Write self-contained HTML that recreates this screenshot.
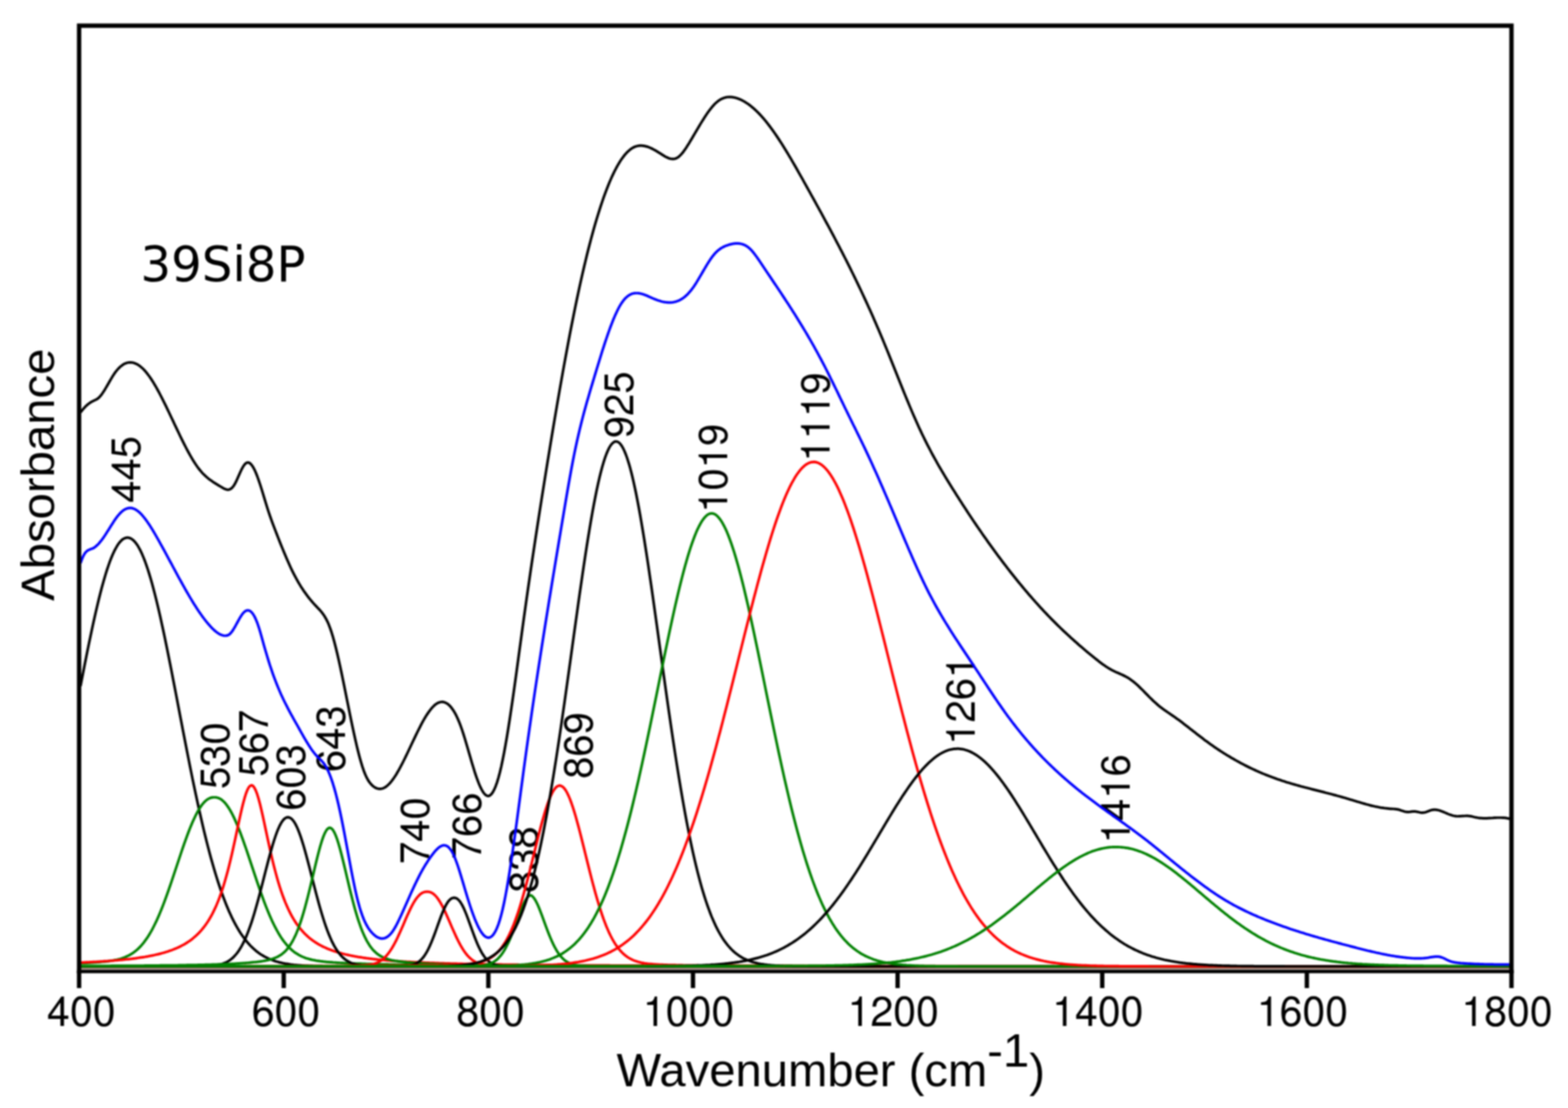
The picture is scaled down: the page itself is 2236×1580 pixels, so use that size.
<!DOCTYPE html>
<html lang="en"><head><meta charset="utf-8"><title>39Si8P FTIR deconvolution</title>
<style>html,body{margin:0;padding:0;background:#fff;}body{width:2236px;height:1580px;overflow:hidden;}svg{display:block;filter:blur(1px);}text{font-family:"Liberation Sans",sans-serif;fill:#000;}.d text{font-family:"FreeSans","Liberation Sans",sans-serif;}</style></head><body>
<svg width="2236" height="1580" viewBox="0 0 2236 1580">
<rect x="0" y="0" width="2236" height="1580" fill="#ffffff"/>
<g class="d" font-size="57">
<text transform="translate(200.2 717.0) rotate(-90)">445</text>
<text transform="translate(326.8 1125.1) rotate(-90)">530</text>
<text transform="translate(381.5 1107.3) rotate(-90)">567</text>
<text transform="translate(435.1 1156.1) rotate(-90)">603</text>
<text transform="translate(492.4 1101.0) rotate(-90)">643</text>
<text transform="translate(612.4 1232.1) rotate(-90)">740</text>
<text transform="translate(685.5 1225.2) rotate(-90)">766</text>
<text transform="translate(767.4 1273.3) rotate(-90)">838</text>
<text transform="translate(844.8 1110.6) rotate(-90)">869</text>
<text transform="translate(902.9 624.7) rotate(-90)">925</text>
<text transform="translate(1037.1 731.1) rotate(-90)">1019</text>
<text transform="translate(1183.1 657.9) rotate(-90)">1119</text>
<text transform="translate(1390.4 1062.0) rotate(-90)">1261</text>
<text transform="translate(1610.5 1202.4) rotate(-90)">1416</text>
</g>
<g fill="none" stroke-width="3.7" stroke-linejoin="round" stroke-linecap="butt">
<line x1="112.8" y1="1381.2" x2="2155.4" y2="1381.2" stroke="#a58478" stroke-width="2.2"/>
<polyline stroke="#000000" points="114.8,978.4 116.8,968.1 118.8,957.9 120.8,947.7 122.8,937.6 124.8,927.7 126.8,917.9 128.8,908.3 130.8,898.9 132.8,889.6 134.8,880.6 136.8,871.8 138.8,863.3 140.8,855.0 142.8,847.0 144.8,839.3 146.8,832.0 148.8,824.9 150.8,818.3 152.8,811.9 154.8,806.0 156.8,800.4 158.8,795.3 160.8,790.5 162.8,786.2 164.8,782.3 166.8,778.8 168.8,775.7 170.8,773.1 172.8,771.0 174.8,769.2 176.8,768.0 178.8,767.1 180.8,766.7 182.8,766.7 184.8,767.1 186.8,768.0 188.8,769.3 190.8,771.0 192.8,773.2 194.8,775.8 196.8,778.8 198.8,782.3 200.8,786.2 202.8,790.6 204.8,795.4 206.8,800.5 208.8,806.1 210.8,812.0 212.8,818.4 214.8,825.0 216.8,832.1 218.8,839.4 220.8,847.1 222.8,855.1 224.8,863.4 226.8,871.9 228.8,880.7 230.8,889.8 232.8,899.0 234.8,908.4 236.8,918.1 238.8,927.9 240.8,937.8 242.8,947.9 244.8,958.0 246.8,968.3 248.8,978.6 250.8,989.0 252.8,999.4 254.8,1009.8 256.8,1020.3 258.8,1030.7 260.8,1041.1 262.8,1051.4 264.8,1061.7 266.8,1071.9 268.8,1082.0 270.8,1092.1 272.8,1102.0 274.8,1111.8 276.8,1121.4 278.8,1130.9 280.8,1140.2 282.8,1149.4 284.8,1158.4 286.8,1167.2 288.8,1175.8 290.8,1184.3 292.8,1192.5 294.8,1200.6 296.8,1208.4 298.8,1216.0 300.8,1223.4 302.8,1230.6 304.8,1237.5 306.8,1244.3 308.8,1250.8 310.8,1257.1 312.8,1263.2 314.8,1269.1 316.8,1274.7 318.8,1280.2 320.8,1285.4 322.8,1290.5 324.8,1295.3 326.8,1299.9 328.8,1304.3 330.8,1308.6 332.8,1312.6 334.8,1316.5 336.8,1320.1 338.8,1323.6 340.8,1327.0 342.8,1330.2 344.8,1333.2 346.8,1336.0 348.8,1338.7 350.8,1341.3 352.8,1343.7 354.8,1346.0 356.8,1348.2 358.8,1350.2 360.8,1352.1 362.8,1353.9 364.8,1355.7 366.8,1357.3 368.8,1358.8 370.8,1360.2 372.8,1361.5 374.8,1362.7 376.8,1363.9 378.8,1364.9 380.8,1365.9 382.8,1366.9 384.8,1367.8 386.8,1368.6 388.8,1369.3 390.8,1370.0 392.8,1370.7 394.8,1371.3 396.8,1371.8 398.8,1372.4 400.8,1372.8 402.8,1373.3 404.8,1373.7 406.8,1374.1 408.8,1374.4 410.8,1374.7 412.8,1375.0 414.8,1375.3 416.8,1375.5 418.8,1375.8 420.8,1376.0 422.8,1376.2 424.8,1376.3 426.8,1376.5 428.8,1376.6 430.8,1376.8 432.8,1376.9 434.8,1377.0 436.8,1377.1 438.8,1377.2 440.8,1377.3 442.8,1377.3 444.8,1377.4 446.8,1377.5 448.8,1377.5 450.8,1377.6 452.8,1377.6 454.8,1377.7 456.8,1377.7 458.8,1377.7 460.8,1377.8 462.8,1377.8 464.8,1377.8 466.8,1377.8 468.8,1377.8 470.8,1377.9 472.8,1377.9 474.8,1377.9 476.8,1377.9 478.8,1377.9 480.8,1377.9 482.8,1377.9 484.8,1377.9 486.8,1377.9 488.8,1378.0 490.8,1378.0 492.8,1378.0 494.8,1378.0 496.8,1378.0 498.8,1378.0 500.8,1378.0 502.8,1378.0 504.8,1378.0 506.8,1378.0 508.8,1378.0 510.8,1378.0 512.8,1378.0 514.8,1378.0 516.8,1378.0 518.8,1378.0 520.8,1378.0 522.8,1378.0 524.8,1378.0 526.8,1378.0 528.8,1378.0 530.8,1378.0 532.8,1378.0 534.8,1378.0 536.8,1378.0 538.8,1378.0 540.8,1378.0 542.8,1378.0 544.8,1378.0 546.8,1378.0 548.8,1378.0 550.8,1378.0 552.8,1378.0 554.8,1378.0 556.8,1378.0 558.8,1378.0 560.8,1378.0 562.8,1378.0 564.8,1378.0 566.8,1378.0 568.8,1378.0 570.8,1378.0 572.8,1378.0 574.8,1378.0 576.8,1378.0 578.8,1378.0 580.8,1378.0 582.8,1378.0 584.8,1378.0 586.8,1378.0 588.8,1378.0 590.8,1378.0 592.8,1378.0 594.8,1378.0 596.8,1378.0 598.8,1378.0 600.8,1378.0 602.8,1378.0 604.8,1378.0 606.8,1378.0 608.8,1378.0 610.8,1378.0 612.8,1378.0 614.8,1378.0 616.8,1378.0 618.8,1378.0 620.8,1378.0 622.8,1378.0 624.8,1378.0 626.8,1378.0 628.8,1378.0 630.8,1378.0 632.8,1378.0 634.8,1378.0 636.8,1378.0 638.8,1378.0 640.8,1378.0 642.8,1378.0 644.8,1378.0 646.8,1378.0 648.8,1378.0 650.8,1378.0 652.8,1378.0 654.8,1378.0 656.8,1378.0 658.8,1378.0 660.8,1378.0 662.8,1378.0 664.8,1378.0 666.8,1378.0 668.8,1378.0 670.8,1378.0 672.8,1378.0 674.8,1378.0 676.8,1378.0 678.8,1378.0 680.8,1378.0 682.8,1378.0 684.8,1378.0 686.8,1378.0 688.8,1378.0 690.8,1378.0 692.8,1378.0 694.8,1378.0 696.8,1378.0 698.8,1378.0 700.8,1378.0 702.8,1378.0 704.8,1378.0 706.8,1378.0 708.8,1378.0 710.8,1378.0 712.8,1378.0 714.8,1378.0 716.8,1378.0 718.8,1378.0 720.8,1378.0 722.8,1378.0 724.8,1378.0 726.8,1378.0 728.8,1378.0 730.8,1378.0 732.8,1378.0 734.8,1378.0 736.8,1378.0 738.8,1378.0 740.8,1378.0 742.8,1378.0 744.8,1378.0 746.8,1378.0 748.8,1378.0 750.8,1378.0 752.8,1378.0 754.8,1378.0 756.8,1378.0 758.8,1378.0 760.8,1378.0 762.8,1378.0 764.8,1378.0 766.8,1378.0 768.8,1378.0 770.8,1378.0 772.8,1378.0 774.8,1378.0 776.8,1378.0 778.8,1378.0 780.8,1378.0 782.8,1378.0 784.8,1378.0 786.8,1378.0 788.8,1378.0 790.8,1378.0 792.8,1378.0 794.8,1378.0 796.8,1378.0 798.8,1378.0 800.8,1378.0 802.8,1378.0 804.8,1378.0 806.8,1378.0 808.8,1378.0 810.8,1378.0 812.8,1378.0 814.8,1378.0 816.8,1378.0 818.8,1378.0 820.8,1378.0 822.8,1378.0 824.8,1378.0 826.8,1378.0 828.8,1378.0 830.8,1378.0 832.8,1378.0 834.8,1378.0 836.8,1378.0 838.8,1378.0 840.8,1378.0 842.8,1378.0 844.8,1378.0 846.8,1378.0 848.8,1378.0 850.8,1378.0 852.8,1378.0 854.8,1378.0 856.8,1378.0 858.8,1378.0 860.8,1378.0 862.8,1378.0 864.8,1378.0 866.8,1378.0 868.8,1378.0 870.8,1378.0 872.8,1378.0 874.8,1378.0 876.8,1378.0 878.8,1378.0 880.8,1378.0 882.8,1378.0 884.8,1378.0 886.8,1378.0 888.8,1378.0 890.8,1378.0 892.8,1378.0 894.8,1378.0 896.8,1378.0 898.8,1378.0 900.8,1378.0 902.8,1378.0 904.8,1378.0 906.8,1378.0 908.8,1378.0 910.8,1378.0 912.8,1378.0 914.8,1378.0 916.8,1378.0 918.8,1378.0 920.8,1378.0 922.8,1378.0 924.8,1378.0 926.8,1378.0 928.8,1378.0 930.8,1378.0 932.8,1378.0 934.8,1378.0 936.8,1378.0 938.8,1378.0 940.8,1378.0 942.8,1378.0 944.8,1378.0 946.8,1378.0 948.8,1378.0 950.8,1378.0 952.8,1378.0 954.8,1378.0 956.8,1378.0 958.8,1378.0 960.8,1378.0 962.8,1378.0 964.8,1378.0 966.8,1378.0 968.8,1378.0 970.8,1378.0 972.8,1378.0 974.8,1378.0 976.8,1378.0 978.8,1378.0 980.8,1378.0 982.8,1378.0 984.8,1378.0 986.8,1378.0 988.8,1378.0 990.8,1378.0 992.8,1378.0 994.8,1378.0 996.8,1378.0 998.8,1378.0 1000.8,1378.0 1002.8,1378.0 1004.8,1378.0 1006.8,1378.0 1008.8,1378.0 1010.8,1378.0 1012.8,1378.0 1014.8,1378.0 1016.8,1378.0 1018.8,1378.0 1020.8,1378.0 1022.8,1378.0 1024.8,1378.0 1026.8,1378.0 1028.8,1378.0 1030.8,1378.0 1032.8,1378.0 1034.8,1378.0 1036.8,1378.0 1038.8,1378.0 1040.8,1378.0 1042.8,1378.0 1044.8,1378.0 1046.8,1378.0 1048.8,1378.0 1050.8,1378.0 1052.8,1378.0 1054.8,1378.0 1056.8,1378.0 1058.8,1378.0 1060.8,1378.0 1062.8,1378.0 1064.8,1378.0 1066.8,1378.0 1068.8,1378.0 1070.8,1378.0 1072.8,1378.0 1074.8,1378.0 1076.8,1378.0 1078.8,1378.0 1080.8,1378.0 1082.8,1378.0 1084.8,1378.0 1086.8,1378.0 1088.8,1378.0 1090.8,1378.0 1092.8,1378.0 1094.8,1378.0 1096.8,1378.0 1098.8,1378.0 1100.8,1378.0 1102.8,1378.0 1104.8,1378.0 1106.8,1378.0 1108.8,1378.0 1110.8,1378.0 1112.8,1378.0 1114.8,1378.0 1116.8,1378.0 1118.8,1378.0 1120.8,1378.0 1122.8,1378.0 1124.8,1378.0 1126.8,1378.0 1128.8,1378.0 1130.8,1378.0 1132.8,1378.0 1134.8,1378.0 1136.8,1378.0 1138.8,1378.0 1140.8,1378.0 1142.8,1378.0 1144.8,1378.0 1146.8,1378.0 1148.8,1378.0 1150.8,1378.0 1152.8,1378.0 1154.8,1378.0 1156.8,1378.0 1158.8,1378.0 1160.8,1378.0 1162.8,1378.0 1164.8,1378.0 1166.8,1378.0 1168.8,1378.0 1170.8,1378.0 1172.8,1378.0 1174.8,1378.0 1176.8,1378.0 1178.8,1378.0 1180.8,1378.0 1182.8,1378.0 1184.8,1378.0 1186.8,1378.0 1188.8,1378.0 1190.8,1378.0 1192.8,1378.0 1194.8,1378.0 1196.8,1378.0 1198.8,1378.0 1200.8,1378.0 1202.8,1378.0 1204.8,1378.0 1206.8,1378.0 1208.8,1378.0 1210.8,1378.0 1212.8,1378.0 1214.8,1378.0 1216.8,1378.0 1218.8,1378.0 1220.8,1378.0 1222.8,1378.0 1224.8,1378.0 1226.8,1378.0 1228.8,1378.0 1230.8,1378.0 1232.8,1378.0 1234.8,1378.0 1236.8,1378.0 1238.8,1378.0 1240.8,1378.0 1242.8,1378.0 1244.8,1378.0 1246.8,1378.0 1248.8,1378.0 1250.8,1378.0 1252.8,1378.0 1254.8,1378.0 1256.8,1378.0 1258.8,1378.0 1260.8,1378.0 1262.8,1378.0 1264.8,1378.0 1266.8,1378.0 1268.8,1378.0 1270.8,1378.0 1272.8,1378.0 1274.8,1378.0 1276.8,1378.0 1278.8,1378.0 1280.8,1378.0 1282.8,1378.0 1284.8,1378.0 1286.8,1378.0 1288.8,1378.0 1290.8,1378.0 1292.8,1378.0 1294.8,1378.0 1296.8,1378.0 1298.8,1378.0 1300.8,1378.0 1302.8,1378.0 1304.8,1378.0 1306.8,1378.0 1308.8,1378.0 1310.8,1378.0 1312.8,1378.0 1314.8,1378.0 1316.8,1378.0 1318.8,1378.0 1320.8,1378.0 1322.8,1378.0 1324.8,1378.0 1326.8,1378.0 1328.8,1378.0 1330.8,1378.0 1332.8,1378.0 1334.8,1378.0 1336.8,1378.0 1338.8,1378.0 1340.8,1378.0 1342.8,1378.0 1344.8,1378.0 1346.8,1378.0 1348.8,1378.0 1350.8,1378.0 1352.8,1378.0 1354.8,1378.0 1356.8,1378.0 1358.8,1378.0 1360.8,1378.0 1362.8,1378.0 1364.8,1378.0 1366.8,1378.0 1368.8,1378.0 1370.8,1378.0 1372.8,1378.0 1374.8,1378.0 1376.8,1378.0 1378.8,1378.0 1380.8,1378.0 1382.8,1378.0 1384.8,1378.0 1386.8,1378.0 1388.8,1378.0 1390.8,1378.0 1392.8,1378.0 1394.8,1378.0 1396.8,1378.0 1398.8,1378.0 1400.8,1378.0 1402.8,1378.0 1404.8,1378.0 1406.8,1378.0 1408.8,1378.0 1410.8,1378.0 1412.8,1378.0 1414.8,1378.0 1416.8,1378.0 1418.8,1378.0 1420.8,1378.0 1422.8,1378.0 1424.8,1378.0 1426.8,1378.0 1428.8,1378.0 1430.8,1378.0 1432.8,1378.0 1434.8,1378.0 1436.8,1378.0 1438.8,1378.0 1440.8,1378.0 1442.8,1378.0 1444.8,1378.0 1446.8,1378.0 1448.8,1378.0 1450.8,1378.0 1452.8,1378.0 1454.8,1378.0 1456.8,1378.0 1458.8,1378.0 1460.8,1378.0 1462.8,1378.0 1464.8,1378.0 1466.8,1378.0 1468.8,1378.0 1470.8,1378.0 1472.8,1378.0 1474.8,1378.0 1476.8,1378.0 1478.8,1378.0 1480.8,1378.0 1482.8,1378.0 1484.8,1378.0 1486.8,1378.0 1488.8,1378.0 1490.8,1378.0 1492.8,1378.0 1494.8,1378.0 1496.8,1378.0 1498.8,1378.0 1500.8,1378.0 1502.8,1378.0 1504.8,1378.0 1506.8,1378.0 1508.8,1378.0 1510.8,1378.0 1512.8,1378.0 1514.8,1378.0 1516.8,1378.0 1518.8,1378.0 1520.8,1378.0 1522.8,1378.0 1524.8,1378.0 1526.8,1378.0 1528.8,1378.0 1530.8,1378.0 1532.8,1378.0 1534.8,1378.0 1536.8,1378.0 1538.8,1378.0 1540.8,1378.0 1542.8,1378.0 1544.8,1378.0 1546.8,1378.0 1548.8,1378.0 1550.8,1378.0 1552.8,1378.0 1554.8,1378.0 1556.8,1378.0 1558.8,1378.0 1560.8,1378.0 1562.8,1378.0 1564.8,1378.0 1566.8,1378.0 1568.8,1378.0 1570.8,1378.0 1572.8,1378.0 1574.8,1378.0 1576.8,1378.0 1578.8,1378.0 1580.8,1378.0 1582.8,1378.0 1584.8,1378.0 1586.8,1378.0 1588.8,1378.0 1590.8,1378.0 1592.8,1378.0 1594.8,1378.0 1596.8,1378.0 1598.8,1378.0 1600.8,1378.0 1602.8,1378.0 1604.8,1378.0 1606.8,1378.0 1608.8,1378.0 1610.8,1378.0 1612.8,1378.0 1614.8,1378.0 1616.8,1378.0 1618.8,1378.0 1620.8,1378.0 1622.8,1378.0 1624.8,1378.0 1626.8,1378.0 1628.8,1378.0 1630.8,1378.0 1632.8,1378.0 1634.8,1378.0 1636.8,1378.0 1638.8,1378.0 1640.8,1378.0 1642.8,1378.0 1644.8,1378.0 1646.8,1378.0 1648.8,1378.0 1650.8,1378.0 1652.8,1378.0 1654.8,1378.0 1656.8,1378.0 1658.8,1378.0 1660.8,1378.0 1662.8,1378.0 1664.8,1378.0 1666.8,1378.0 1668.8,1378.0 1670.8,1378.0 1672.8,1378.0 1674.8,1378.0 1676.8,1378.0 1678.8,1378.0 1680.8,1378.0 1682.8,1378.0 1684.8,1378.0 1686.8,1378.0 1688.8,1378.0 1690.8,1378.0 1692.8,1378.0 1694.8,1378.0 1696.8,1378.0 1698.8,1378.0 1700.8,1378.0 1702.8,1378.0 1704.8,1378.0 1706.8,1378.0 1708.8,1378.0 1710.8,1378.0 1712.8,1378.0 1714.8,1378.0 1716.8,1378.0 1718.8,1378.0 1720.8,1378.0 1722.8,1378.0 1724.8,1378.0 1726.8,1378.0 1728.8,1378.0 1730.8,1378.0 1732.8,1378.0 1734.8,1378.0 1736.8,1378.0 1738.8,1378.0 1740.8,1378.0 1742.8,1378.0 1744.8,1378.0 1746.8,1378.0 1748.8,1378.0 1750.8,1378.0 1752.8,1378.0 1754.8,1378.0 1756.8,1378.0 1758.8,1378.0 1760.8,1378.0 1762.8,1378.0 1764.8,1378.0 1766.8,1378.0 1768.8,1378.0 1770.8,1378.0 1772.8,1378.0 1774.8,1378.0 1776.8,1378.0 1778.8,1378.0 1780.8,1378.0 1782.8,1378.0 1784.8,1378.0 1786.8,1378.0 1788.8,1378.0 1790.8,1378.0 1792.8,1378.0 1794.8,1378.0 1796.8,1378.0 1798.8,1378.0 1800.8,1378.0 1802.8,1378.0 1804.8,1378.0 1806.8,1378.0 1808.8,1378.0 1810.8,1378.0 1812.8,1378.0 1814.8,1378.0 1816.8,1378.0 1818.8,1378.0 1820.8,1378.0 1822.8,1378.0 1824.8,1378.0 1826.8,1378.0 1828.8,1378.0 1830.8,1378.0 1832.8,1378.0 1834.8,1378.0 1836.8,1378.0 1838.8,1378.0 1840.8,1378.0 1842.8,1378.0 1844.8,1378.0 1846.8,1378.0 1848.8,1378.0 1850.8,1378.0 1852.8,1378.0 1854.8,1378.0 1856.8,1378.0 1858.8,1378.0 1860.8,1378.0 1862.8,1378.0 1864.8,1378.0 1866.8,1378.0 1868.8,1378.0 1870.8,1378.0 1872.8,1378.0 1874.8,1378.0 1876.8,1378.0 1878.8,1378.0 1880.8,1378.0 1882.8,1378.0 1884.8,1378.0 1886.8,1378.0 1888.8,1378.0 1890.8,1378.0 1892.8,1378.0 1894.8,1378.0 1896.8,1378.0 1898.8,1378.0 1900.8,1378.0 1902.8,1378.0 1904.8,1378.0 1906.8,1378.0 1908.8,1378.0 1910.8,1378.0 1912.8,1378.0 1914.8,1378.0 1916.8,1378.0 1918.8,1378.0 1920.8,1378.0 1922.8,1378.0 1924.8,1378.0 1926.8,1378.0 1928.8,1378.0 1930.8,1378.0 1932.8,1378.0 1934.8,1378.0 1936.8,1378.0 1938.8,1378.0 1940.8,1378.0 1942.8,1378.0 1944.8,1378.0 1946.8,1378.0 1948.8,1378.0 1950.8,1378.0 1952.8,1378.0 1954.8,1378.0 1956.8,1378.0 1958.8,1378.0 1960.8,1378.0 1962.8,1378.0 1964.8,1378.0 1966.8,1378.0 1968.8,1378.0 1970.8,1378.0 1972.8,1378.0 1974.8,1378.0 1976.8,1378.0 1978.8,1378.0 1980.8,1378.0 1982.8,1378.0 1984.8,1378.0 1986.8,1378.0 1988.8,1378.0 1990.8,1378.0 1992.8,1378.0 1994.8,1378.0 1996.8,1378.0 1998.8,1378.0 2000.8,1378.0 2002.8,1378.0 2004.8,1378.0 2006.8,1378.0 2008.8,1378.0 2010.8,1378.0 2012.8,1378.0 2014.8,1378.0 2016.8,1378.0 2018.8,1378.0 2020.8,1378.0 2022.8,1378.0 2024.8,1378.0 2026.8,1378.0 2028.8,1378.0 2030.8,1378.0 2032.8,1378.0 2034.8,1378.0 2036.8,1378.0 2038.8,1378.0 2040.8,1378.0 2042.8,1378.0 2044.8,1378.0 2046.8,1378.0 2048.8,1378.0 2050.8,1378.0 2052.8,1378.0 2054.8,1378.0 2056.8,1378.0 2058.8,1378.0 2060.8,1378.0 2062.8,1378.0 2064.8,1378.0 2066.8,1378.0 2068.8,1378.0 2070.8,1378.0 2072.8,1378.0 2074.8,1378.0 2076.8,1378.0 2078.8,1378.0 2080.8,1378.0 2082.8,1378.0 2084.8,1378.0 2086.8,1378.0 2088.8,1378.0 2090.8,1378.0 2092.8,1378.0 2094.8,1378.0 2096.8,1378.0 2098.8,1378.0 2100.8,1378.0 2102.8,1378.0 2104.8,1378.0 2106.8,1378.0 2108.8,1378.0 2110.8,1378.0 2112.8,1378.0 2114.8,1378.0 2116.8,1378.0 2118.8,1378.0 2120.8,1378.0 2122.8,1378.0 2124.8,1378.0 2126.8,1378.0 2128.8,1378.0 2130.8,1378.0 2132.8,1378.0 2134.8,1378.0 2136.8,1378.0 2138.8,1378.0 2140.8,1378.0 2142.8,1378.0 2144.8,1378.0 2146.8,1378.0 2148.8,1378.0 2150.8,1378.0 2152.8,1378.0"/>
<polyline stroke="#008000" points="114.8,1373.5 116.8,1373.5 118.8,1373.4 120.8,1373.3 122.8,1373.2 124.8,1373.1 126.8,1373.0 128.8,1372.9 130.8,1372.7 132.8,1372.6 134.8,1372.5 136.8,1372.3 138.8,1372.2 140.8,1372.1 142.8,1371.9 144.8,1371.7 146.8,1371.5 148.8,1371.3 150.8,1371.1 152.8,1370.9 154.8,1370.6 156.8,1370.3 158.8,1370.0 160.8,1369.7 162.8,1369.3 164.8,1368.9 166.8,1368.5 168.8,1368.0 170.8,1367.5 172.8,1366.9 174.8,1366.2 176.8,1365.5 178.8,1364.7 180.8,1363.8 182.8,1362.9 184.8,1361.8 186.8,1360.7 188.8,1359.4 190.8,1358.0 192.8,1356.5 194.8,1354.9 196.8,1353.1 198.8,1351.1 200.8,1349.1 202.8,1346.8 204.8,1344.4 206.8,1341.7 208.8,1338.9 210.8,1336.0 212.8,1332.8 214.8,1329.4 216.8,1325.8 218.8,1322.0 220.8,1318.0 222.8,1313.9 224.8,1309.5 226.8,1304.9 228.8,1300.1 230.8,1295.2 232.8,1290.1 234.8,1284.8 236.8,1279.4 238.8,1273.8 240.8,1268.1 242.8,1262.4 244.8,1256.5 246.8,1250.5 248.8,1244.5 250.8,1238.5 252.8,1232.5 254.8,1226.5 256.8,1220.5 258.8,1214.5 260.8,1208.7 262.8,1202.9 264.8,1197.3 266.8,1191.8 268.8,1186.5 270.8,1181.4 272.8,1176.5 274.8,1171.8 276.8,1167.4 278.8,1163.2 280.8,1159.3 282.8,1155.7 284.8,1152.4 286.8,1149.4 288.8,1146.7 290.8,1144.4 292.8,1142.4 294.8,1140.7 296.8,1139.3 298.8,1138.3 300.8,1137.6 302.8,1137.1 304.8,1137.0 306.8,1137.0 308.8,1137.2 310.8,1137.7 312.8,1138.5 314.8,1139.6 316.8,1141.1 318.8,1142.8 320.8,1144.9 322.8,1147.3 324.8,1150.1 326.8,1153.1 328.8,1156.5 330.8,1160.2 332.8,1164.1 334.8,1168.4 336.8,1172.9 338.8,1177.6 340.8,1182.6 342.8,1187.7 344.8,1193.1 346.8,1198.6 348.8,1204.3 350.8,1210.0 352.8,1215.9 354.8,1221.9 356.8,1227.9 358.8,1233.9 360.8,1239.9 362.8,1245.9 364.8,1251.9 366.8,1257.9 368.8,1263.7 370.8,1269.5 372.8,1275.1 374.8,1280.7 376.8,1286.1 378.8,1291.3 380.8,1296.4 382.8,1301.3 384.8,1306.0 386.8,1310.5 388.8,1314.9 390.8,1319.0 392.8,1322.9 394.8,1326.7 396.8,1330.2 398.8,1333.5 400.8,1336.7 402.8,1339.6 404.8,1342.4 406.8,1344.9 408.8,1347.3 410.8,1349.6 412.8,1351.6 414.8,1353.5 416.8,1355.3 418.8,1356.9 420.8,1358.4 422.8,1359.7 424.8,1360.9 426.8,1362.1 428.8,1363.1 430.8,1364.1 432.8,1364.9 434.8,1365.7 436.8,1366.4 438.8,1367.0 440.8,1367.6 442.8,1368.1 444.8,1368.6 446.8,1369.0 448.8,1369.4 450.8,1369.8 452.8,1370.1 454.8,1370.4 456.8,1370.7 458.8,1370.9 460.8,1371.2 462.8,1371.4 464.8,1371.6 466.8,1371.8 468.8,1371.9 470.8,1372.1 472.8,1372.2 474.8,1372.4 476.8,1372.5 478.8,1372.6 480.8,1372.8 482.8,1372.9 484.8,1373.0 486.8,1373.1 488.8,1373.2 490.8,1373.3 492.8,1373.4 494.8,1373.5 496.8,1373.6 498.8,1373.6 500.8,1373.7 502.8,1373.8 504.8,1373.9 506.8,1374.0 508.8,1374.0 510.8,1374.1 512.8,1374.2 514.8,1374.2 516.8,1374.3 518.8,1374.4 520.8,1374.4 522.8,1374.5 524.8,1374.6 526.8,1374.6 528.8,1374.7 530.8,1374.7 532.8,1374.8 534.8,1374.8 536.8,1374.9 538.8,1374.9 540.8,1375.0 542.8,1375.0 544.8,1375.1 546.8,1375.1 548.8,1375.2 550.8,1375.2 552.8,1375.2 554.8,1375.3 556.8,1375.3 558.8,1375.4 560.8,1375.4 562.8,1375.4 564.8,1375.5 566.8,1375.5 568.8,1375.6 570.8,1375.6 572.8,1375.6 574.8,1375.7 576.8,1375.7 578.8,1375.7 580.8,1375.8 582.8,1375.8 584.8,1375.8 586.8,1375.8 588.8,1375.9 590.8,1375.9 592.8,1375.9 594.8,1376.0 596.8,1376.0 598.8,1376.0 600.8,1376.0 602.8,1376.1 604.8,1376.1 606.8,1376.1 608.8,1376.1 610.8,1376.2 612.8,1376.2 614.8,1376.2 616.8,1376.2 618.8,1376.2 620.8,1376.3 622.8,1376.3 624.8,1376.3 626.8,1376.3 628.8,1376.4 630.8,1376.4 632.8,1376.4 634.8,1376.4 636.8,1376.4 638.8,1376.4 640.8,1376.5 642.8,1376.5 644.8,1376.5 646.8,1376.5 648.8,1376.5 650.8,1376.5 652.8,1376.6 654.8,1376.6 656.8,1376.6 658.8,1376.6 660.8,1376.6 662.8,1376.6 664.8,1376.7 666.8,1376.7 668.8,1376.7 670.8,1376.7 672.8,1376.7 674.8,1376.7 676.8,1376.7 678.8,1376.8 680.8,1376.8 682.8,1376.8 684.8,1376.8 686.8,1376.8 688.8,1376.8 690.8,1376.8 692.8,1376.8 694.8,1376.9 696.8,1376.9 698.8,1376.9 700.8,1376.9 702.8,1376.9 704.8,1376.9 706.8,1376.9 708.8,1376.9 710.8,1376.9 712.8,1376.9 714.8,1377.0 716.8,1377.0 718.8,1377.0 720.8,1377.0 722.8,1377.0 724.8,1377.0 726.8,1377.0 728.8,1377.0 730.8,1377.0 732.8,1377.0 734.8,1377.1 736.8,1377.1 738.8,1377.1 740.8,1377.1 742.8,1377.1 744.8,1377.1 746.8,1377.1 748.8,1377.1 750.8,1377.1 752.8,1377.1 754.8,1377.1 756.8,1377.1 758.8,1377.1 760.8,1377.2 762.8,1377.2 764.8,1377.2 766.8,1377.2 768.8,1377.2 770.8,1377.2 772.8,1377.2 774.8,1377.2 776.8,1377.2 778.8,1377.2 780.8,1377.2 782.8,1377.2 784.8,1377.2 786.8,1377.2 788.8,1377.2 790.8,1377.3 792.8,1377.3 794.8,1377.3 796.8,1377.3 798.8,1377.3 800.8,1377.3 802.8,1377.3 804.8,1377.3 806.8,1377.3 808.8,1377.3 810.8,1377.3 812.8,1377.3 814.8,1377.3 816.8,1377.3 818.8,1377.3 820.8,1377.3 822.8,1377.3 824.8,1377.3 826.8,1377.4 828.8,1377.4 830.8,1377.4 832.8,1377.4 834.8,1377.4 836.8,1377.4 838.8,1377.4 840.8,1377.4 842.8,1377.4 844.8,1377.4 846.8,1377.4 848.8,1377.4 850.8,1377.4 852.8,1377.4 854.8,1377.4 856.8,1377.4 858.8,1377.4 860.8,1377.4 862.8,1377.4 864.8,1377.4 866.8,1377.4 868.8,1377.4 870.8,1377.4 872.8,1377.5 874.8,1377.5 876.8,1377.5 878.8,1377.5 880.8,1377.5 882.8,1377.5 884.8,1377.5 886.8,1377.5 888.8,1377.5 890.8,1377.5 892.8,1377.5 894.8,1377.5 896.8,1377.5 898.8,1377.5 900.8,1377.5 902.8,1377.5 904.8,1377.5 906.8,1377.5 908.8,1377.5 910.8,1377.5 912.8,1377.5 914.8,1377.5 916.8,1377.5 918.8,1377.5 920.8,1377.5 922.8,1377.5 924.8,1377.5 926.8,1377.5 928.8,1377.5 930.8,1377.5 932.8,1377.6 934.8,1377.6 936.8,1377.6 938.8,1377.6 940.8,1377.6 942.8,1377.6 944.8,1377.6 946.8,1377.6 948.8,1377.6 950.8,1377.6 952.8,1377.6 954.8,1377.6 956.8,1377.6 958.8,1377.6 960.8,1377.6 962.8,1377.6 964.8,1377.6 966.8,1377.6 968.8,1377.6 970.8,1377.6 972.8,1377.6 974.8,1377.6 976.8,1377.6 978.8,1377.6 980.8,1377.6 982.8,1377.6 984.8,1377.6 986.8,1377.6 988.8,1377.6 990.8,1377.6 992.8,1377.6 994.8,1377.6 996.8,1377.6 998.8,1377.6 1000.8,1377.6 1002.8,1377.6 1004.8,1377.6 1006.8,1377.6 1008.8,1377.6 1010.8,1377.6 1012.8,1377.6 1014.8,1377.6 1016.8,1377.6 1018.8,1377.7 1020.8,1377.7 1022.8,1377.7 1024.8,1377.7 1026.8,1377.7 1028.8,1377.7 1030.8,1377.7 1032.8,1377.7 1034.8,1377.7 1036.8,1377.7 1038.8,1377.7 1040.8,1377.7 1042.8,1377.7 1044.8,1377.7 1046.8,1377.7 1048.8,1377.7 1050.8,1377.7 1052.8,1377.7 1054.8,1377.7 1056.8,1377.7 1058.8,1377.7 1060.8,1377.7 1062.8,1377.7 1064.8,1377.7 1066.8,1377.7 1068.8,1377.7 1070.8,1377.7 1072.8,1377.7 1074.8,1377.7 1076.8,1377.7 1078.8,1377.7 1080.8,1377.7 1082.8,1377.7 1084.8,1377.7 1086.8,1377.7 1088.8,1377.7 1090.8,1377.7 1092.8,1377.7 1094.8,1377.7 1096.8,1377.7 1098.8,1377.7 1100.8,1377.7 1102.8,1377.7 1104.8,1377.7 1106.8,1377.7 1108.8,1377.7 1110.8,1377.7 1112.8,1377.7 1114.8,1377.7 1116.8,1377.7 1118.8,1377.7 1120.8,1377.7 1122.8,1377.7 1124.8,1377.7 1126.8,1377.7 1128.8,1377.7 1130.8,1377.7 1132.8,1377.7 1134.8,1377.7 1136.8,1377.7 1138.8,1377.7 1140.8,1377.7 1142.8,1377.7 1144.8,1377.7 1146.8,1377.7 1148.8,1377.8 1150.8,1377.8 1152.8,1377.8 1154.8,1377.8 1156.8,1377.8 1158.8,1377.8 1160.8,1377.8 1162.8,1377.8 1164.8,1377.8 1166.8,1377.8 1168.8,1377.8 1170.8,1377.8 1172.8,1377.8 1174.8,1377.8 1176.8,1377.8 1178.8,1377.8 1180.8,1377.8 1182.8,1377.8 1184.8,1377.8 1186.8,1377.8 1188.8,1377.8 1190.8,1377.8 1192.8,1377.8 1194.8,1377.8 1196.8,1377.8 1198.8,1377.8 1200.8,1377.8 1202.8,1377.8 1204.8,1377.8 1206.8,1377.8 1208.8,1377.8 1210.8,1377.8 1212.8,1377.8 1214.8,1377.8 1216.8,1377.8 1218.8,1377.8 1220.8,1377.8 1222.8,1377.8 1224.8,1377.8 1226.8,1377.8 1228.8,1377.8 1230.8,1377.8 1232.8,1377.8 1234.8,1377.8 1236.8,1377.8 1238.8,1377.8 1240.8,1377.8 1242.8,1377.8 1244.8,1377.8 1246.8,1377.8 1248.8,1377.8 1250.8,1377.8 1252.8,1377.8 1254.8,1377.8 1256.8,1377.8 1258.8,1377.8 1260.8,1377.8 1262.8,1377.8 1264.8,1377.8 1266.8,1377.8 1268.8,1377.8 1270.8,1377.8 1272.8,1377.8 1274.8,1377.8 1276.8,1377.8 1278.8,1377.8 1280.8,1377.8 1282.8,1377.8 1284.8,1377.8 1286.8,1377.8 1288.8,1377.8 1290.8,1377.8 1292.8,1377.8 1294.8,1377.8 1296.8,1377.8 1298.8,1377.8 1300.8,1377.8 1302.8,1377.8 1304.8,1377.8 1306.8,1377.8 1308.8,1377.8 1310.8,1377.8 1312.8,1377.8 1314.8,1377.8 1316.8,1377.8 1318.8,1377.8 1320.8,1377.8 1322.8,1377.8 1324.8,1377.8 1326.8,1377.8 1328.8,1377.8 1330.8,1377.8 1332.8,1377.8 1334.8,1377.8 1336.8,1377.8 1338.8,1377.8 1340.8,1377.8 1342.8,1377.8 1344.8,1377.8 1346.8,1377.8 1348.8,1377.8 1350.8,1377.8 1352.8,1377.8 1354.8,1377.8 1356.8,1377.8 1358.8,1377.8 1360.8,1377.8 1362.8,1377.8 1364.8,1377.8 1366.8,1377.8 1368.8,1377.8 1370.8,1377.8 1372.8,1377.8 1374.8,1377.8 1376.8,1377.8 1378.8,1377.8 1380.8,1377.8 1382.8,1377.8 1384.8,1377.8 1386.8,1377.8 1388.8,1377.8 1390.8,1377.8 1392.8,1377.8 1394.8,1377.9 1396.8,1377.9 1398.8,1377.9 1400.8,1377.9 1402.8,1377.9 1404.8,1377.9 1406.8,1377.9 1408.8,1377.9 1410.8,1377.9 1412.8,1377.9 1414.8,1377.9 1416.8,1377.9 1418.8,1377.9 1420.8,1377.9 1422.8,1377.9 1424.8,1377.9 1426.8,1377.9 1428.8,1377.9 1430.8,1377.9 1432.8,1377.9 1434.8,1377.9 1436.8,1377.9 1438.8,1377.9 1440.8,1377.9 1442.8,1377.9 1444.8,1377.9 1446.8,1377.9 1448.8,1377.9 1450.8,1377.9 1452.8,1377.9 1454.8,1377.9 1456.8,1377.9 1458.8,1377.9 1460.8,1377.9 1462.8,1377.9 1464.8,1377.9 1466.8,1377.9 1468.8,1377.9 1470.8,1377.9 1472.8,1377.9 1474.8,1377.9 1476.8,1377.9 1478.8,1377.9 1480.8,1377.9 1482.8,1377.9 1484.8,1377.9 1486.8,1377.9 1488.8,1377.9 1490.8,1377.9 1492.8,1377.9 1494.8,1377.9 1496.8,1377.9 1498.8,1377.9 1500.8,1377.9 1502.8,1377.9 1504.8,1377.9 1506.8,1377.9 1508.8,1377.9 1510.8,1377.9 1512.8,1377.9 1514.8,1377.9 1516.8,1377.9 1518.8,1377.9 1520.8,1377.9 1522.8,1377.9 1524.8,1377.9 1526.8,1377.9 1528.8,1377.9 1530.8,1377.9 1532.8,1377.9 1534.8,1377.9 1536.8,1377.9 1538.8,1377.9 1540.8,1377.9 1542.8,1377.9 1544.8,1377.9 1546.8,1377.9 1548.8,1377.9 1550.8,1377.9 1552.8,1377.9 1554.8,1377.9 1556.8,1377.9 1558.8,1377.9 1560.8,1377.9 1562.8,1377.9 1564.8,1377.9 1566.8,1377.9 1568.8,1377.9 1570.8,1377.9 1572.8,1377.9 1574.8,1377.9 1576.8,1377.9 1578.8,1377.9 1580.8,1377.9 1582.8,1377.9 1584.8,1377.9 1586.8,1377.9 1588.8,1377.9 1590.8,1377.9 1592.8,1377.9 1594.8,1377.9 1596.8,1377.9 1598.8,1377.9 1600.8,1377.9 1602.8,1377.9 1604.8,1377.9 1606.8,1377.9 1608.8,1377.9 1610.8,1377.9 1612.8,1377.9 1614.8,1377.9 1616.8,1377.9 1618.8,1377.9 1620.8,1377.9 1622.8,1377.9 1624.8,1377.9 1626.8,1377.9 1628.8,1377.9 1630.8,1377.9 1632.8,1377.9 1634.8,1377.9 1636.8,1377.9 1638.8,1377.9 1640.8,1377.9 1642.8,1377.9 1644.8,1377.9 1646.8,1377.9 1648.8,1377.9 1650.8,1377.9 1652.8,1377.9 1654.8,1377.9 1656.8,1377.9 1658.8,1377.9 1660.8,1377.9 1662.8,1377.9 1664.8,1377.9 1666.8,1377.9 1668.8,1377.9 1670.8,1377.9 1672.8,1377.9 1674.8,1377.9 1676.8,1377.9 1678.8,1377.9 1680.8,1377.9 1682.8,1377.9 1684.8,1377.9 1686.8,1377.9 1688.8,1377.9 1690.8,1377.9 1692.8,1377.9 1694.8,1377.9 1696.8,1377.9 1698.8,1377.9 1700.8,1377.9 1702.8,1377.9 1704.8,1377.9 1706.8,1377.9 1708.8,1377.9 1710.8,1377.9 1712.8,1377.9 1714.8,1377.9 1716.8,1377.9 1718.8,1377.9 1720.8,1377.9 1722.8,1377.9 1724.8,1377.9 1726.8,1377.9 1728.8,1377.9 1730.8,1377.9 1732.8,1377.9 1734.8,1377.9 1736.8,1377.9 1738.8,1377.9 1740.8,1377.9 1742.8,1377.9 1744.8,1377.9 1746.8,1377.9 1748.8,1377.9 1750.8,1377.9 1752.8,1377.9 1754.8,1377.9 1756.8,1377.9 1758.8,1377.9 1760.8,1377.9 1762.8,1377.9 1764.8,1377.9 1766.8,1377.9 1768.8,1377.9 1770.8,1377.9 1772.8,1377.9 1774.8,1377.9 1776.8,1377.9 1778.8,1377.9 1780.8,1377.9 1782.8,1377.9 1784.8,1377.9 1786.8,1377.9 1788.8,1377.9 1790.8,1377.9 1792.8,1377.9 1794.8,1377.9 1796.8,1377.9 1798.8,1377.9 1800.8,1377.9 1802.8,1377.9 1804.8,1377.9 1806.8,1377.9 1808.8,1377.9 1810.8,1377.9 1812.8,1377.9 1814.8,1377.9 1816.8,1377.9 1818.8,1377.9 1820.8,1377.9 1822.8,1377.9 1824.8,1377.9 1826.8,1377.9 1828.8,1377.9 1830.8,1377.9 1832.8,1377.9 1834.8,1377.9 1836.8,1377.9 1838.8,1377.9 1840.8,1377.9 1842.8,1377.9 1844.8,1377.9 1846.8,1377.9 1848.8,1377.9 1850.8,1377.9 1852.8,1377.9 1854.8,1377.9 1856.8,1377.9 1858.8,1377.9 1860.8,1377.9 1862.8,1377.9 1864.8,1377.9 1866.8,1377.9 1868.8,1377.9 1870.8,1377.9 1872.8,1377.9 1874.8,1377.9 1876.8,1377.9 1878.8,1377.9 1880.8,1377.9 1882.8,1377.9 1884.8,1377.9 1886.8,1377.9 1888.8,1377.9 1890.8,1377.9 1892.8,1377.9 1894.8,1377.9 1896.8,1377.9 1898.8,1377.9 1900.8,1377.9 1902.8,1377.9 1904.8,1377.9 1906.8,1377.9 1908.8,1377.9 1910.8,1377.9 1912.8,1377.9 1914.8,1377.9 1916.8,1377.9 1918.8,1377.9 1920.8,1377.9 1922.8,1377.9 1924.8,1377.9 1926.8,1377.9 1928.8,1377.9 1930.8,1377.9 1932.8,1377.9 1934.8,1377.9 1936.8,1377.9 1938.8,1377.9 1940.8,1377.9 1942.8,1377.9 1944.8,1377.9 1946.8,1377.9 1948.8,1377.9 1950.8,1377.9 1952.8,1377.9 1954.8,1377.9 1956.8,1377.9 1958.8,1377.9 1960.8,1377.9 1962.8,1377.9 1964.8,1377.9 1966.8,1377.9 1968.8,1377.9 1970.8,1377.9 1972.8,1377.9 1974.8,1377.9 1976.8,1377.9 1978.8,1377.9 1980.8,1377.9 1982.8,1377.9 1984.8,1377.9 1986.8,1377.9 1988.8,1377.9 1990.8,1377.9 1992.8,1377.9 1994.8,1377.9 1996.8,1377.9 1998.8,1377.9 2000.8,1377.9 2002.8,1377.9 2004.8,1377.9 2006.8,1377.9 2008.8,1377.9 2010.8,1377.9 2012.8,1377.9 2014.8,1377.9 2016.8,1377.9 2018.8,1377.9 2020.8,1377.9 2022.8,1377.9 2024.8,1377.9 2026.8,1377.9 2028.8,1377.9 2030.8,1377.9 2032.8,1377.9 2034.8,1377.9 2036.8,1377.9 2038.8,1377.9 2040.8,1377.9 2042.8,1377.9 2044.8,1377.9 2046.8,1377.9 2048.8,1377.9 2050.8,1377.9 2052.8,1377.9 2054.8,1377.9 2056.8,1377.9 2058.8,1377.9 2060.8,1377.9 2062.8,1377.9 2064.8,1377.9 2066.8,1377.9 2068.8,1377.9 2070.8,1377.9 2072.8,1377.9 2074.8,1377.9 2076.8,1377.9 2078.8,1377.9 2080.8,1377.9 2082.8,1377.9 2084.8,1377.9 2086.8,1377.9 2088.8,1377.9 2090.8,1377.9 2092.8,1377.9 2094.8,1377.9 2096.8,1377.9 2098.8,1377.9 2100.8,1377.9 2102.8,1377.9 2104.8,1377.9 2106.8,1377.9 2108.8,1377.9 2110.8,1377.9 2112.8,1377.9 2114.8,1377.9 2116.8,1377.9 2118.8,1377.9 2120.8,1377.9 2122.8,1377.9 2124.8,1377.9 2126.8,1377.9 2128.8,1377.9 2130.8,1377.9 2132.8,1377.9 2134.8,1377.9 2136.8,1377.9 2138.8,1377.9 2140.8,1377.9 2142.8,1377.9 2144.8,1377.9 2146.8,1377.9 2148.8,1377.9 2150.8,1377.9 2152.8,1377.9"/>
<polyline stroke="#ff0000" points="114.8,1372.6 116.8,1372.5 118.8,1372.4 120.8,1372.3 122.8,1372.2 124.8,1372.1 126.8,1372.0 128.8,1371.9 130.8,1371.8 132.8,1371.7 134.8,1371.6 136.8,1371.5 138.8,1371.4 140.8,1371.3 142.8,1371.1 144.8,1371.0 146.8,1370.9 148.8,1370.7 150.8,1370.6 152.8,1370.5 154.8,1370.3 156.8,1370.2 158.8,1370.0 160.8,1369.9 162.8,1369.7 164.8,1369.5 166.8,1369.4 168.8,1369.2 170.8,1369.0 172.8,1368.8 174.8,1368.6 176.8,1368.4 178.8,1368.2 180.8,1368.0 182.8,1367.8 184.8,1367.6 186.8,1367.3 188.8,1367.1 190.8,1366.8 192.8,1366.6 194.8,1366.3 196.8,1366.0 198.8,1365.7 200.8,1365.4 202.8,1365.1 204.8,1364.8 206.8,1364.5 208.8,1364.1 210.8,1363.8 212.8,1363.4 214.8,1363.0 216.8,1362.6 218.8,1362.2 220.8,1361.8 222.8,1361.3 224.8,1360.9 226.8,1360.4 228.8,1359.9 230.8,1359.3 232.8,1358.8 234.8,1358.2 236.8,1357.6 238.8,1357.0 240.8,1356.3 242.8,1355.6 244.8,1354.9 246.8,1354.1 248.8,1353.3 250.8,1352.5 252.8,1351.6 254.8,1350.7 256.8,1349.8 258.8,1348.7 260.8,1347.7 262.8,1346.6 264.8,1345.4 266.8,1344.1 268.8,1342.8 270.8,1341.4 272.8,1339.9 274.8,1338.4 276.8,1336.7 278.8,1335.0 280.8,1333.1 282.8,1331.2 284.8,1329.1 286.8,1326.9 288.8,1324.5 290.8,1322.0 292.8,1319.3 294.8,1316.5 296.8,1313.5 298.8,1310.2 300.8,1306.8 302.8,1303.1 304.8,1299.1 306.8,1294.9 308.8,1290.4 310.8,1285.6 312.8,1280.5 314.8,1275.0 316.8,1269.2 318.8,1263.0 320.8,1256.3 322.8,1249.3 324.8,1241.9 326.8,1234.1 328.8,1225.9 330.8,1217.3 332.8,1208.4 334.8,1199.3 336.8,1190.0 338.8,1180.6 340.8,1171.2 342.8,1162.1 344.8,1153.4 346.8,1145.2 348.8,1137.9 350.8,1131.5 352.8,1126.4 354.8,1122.7 356.8,1120.4 358.8,1119.8 360.8,1120.7 362.8,1123.3 364.8,1127.3 366.8,1132.7 368.8,1139.3 370.8,1146.8 372.8,1155.1 374.8,1163.9 376.8,1173.1 378.8,1182.5 380.8,1191.8 382.8,1201.1 384.8,1210.2 386.8,1219.1 388.8,1227.6 390.8,1235.7 392.8,1243.4 394.8,1250.8 396.8,1257.7 398.8,1264.2 400.8,1270.4 402.8,1276.1 404.8,1281.5 406.8,1286.6 408.8,1291.3 410.8,1295.8 412.8,1299.9 414.8,1303.8 416.8,1307.5 418.8,1310.9 420.8,1314.1 422.8,1317.1 424.8,1319.9 426.8,1322.5 428.8,1325.0 430.8,1327.3 432.8,1329.5 434.8,1331.6 436.8,1333.5 438.8,1335.3 440.8,1337.1 442.8,1338.7 444.8,1340.2 446.8,1341.7 448.8,1343.1 450.8,1344.4 452.8,1345.6 454.8,1346.8 456.8,1347.9 458.8,1349.0 460.8,1350.0 462.8,1350.9 464.8,1351.8 466.8,1352.7 468.8,1353.5 470.8,1354.3 472.8,1355.0 474.8,1355.8 476.8,1356.4 478.8,1357.1 480.8,1357.7 482.8,1358.3 484.8,1358.9 486.8,1359.4 488.8,1360.0 490.8,1360.5 492.8,1361.0 494.8,1361.4 496.8,1361.9 498.8,1362.3 500.8,1362.7 502.8,1363.1 504.8,1363.5 506.8,1363.9 508.8,1364.2 510.8,1364.6 512.8,1364.9 514.8,1365.2 516.8,1365.5 518.8,1365.8 520.8,1366.1 522.8,1366.4 524.8,1366.6 526.8,1366.9 528.8,1367.1 530.8,1367.4 532.8,1367.6 534.8,1367.8 536.8,1368.0 538.8,1368.3 540.8,1368.5 542.8,1368.7 544.8,1368.9 546.8,1369.0 548.8,1369.2 550.8,1369.4 552.8,1369.6 554.8,1369.7 556.8,1369.9 558.8,1370.1 560.8,1370.2 562.8,1370.4 564.8,1370.5 566.8,1370.6 568.8,1370.8 570.8,1370.9 572.8,1371.0 574.8,1371.2 576.8,1371.3 578.8,1371.4 580.8,1371.5 582.8,1371.6 584.8,1371.7 586.8,1371.8 588.8,1371.9 590.8,1372.0 592.8,1372.1 594.8,1372.2 596.8,1372.3 598.8,1372.4 600.8,1372.5 602.8,1372.6 604.8,1372.7 606.8,1372.8 608.8,1372.9 610.8,1372.9 612.8,1373.0 614.8,1373.1 616.8,1373.2 618.8,1373.2 620.8,1373.3 622.8,1373.4 624.8,1373.4 626.8,1373.5 628.8,1373.6 630.8,1373.6 632.8,1373.7 634.8,1373.8 636.8,1373.8 638.8,1373.9 640.8,1373.9 642.8,1374.0 644.8,1374.0 646.8,1374.1 648.8,1374.2 650.8,1374.2 652.8,1374.3 654.8,1374.3 656.8,1374.4 658.8,1374.4 660.8,1374.5 662.8,1374.5 664.8,1374.5 666.8,1374.6 668.8,1374.6 670.8,1374.7 672.8,1374.7 674.8,1374.8 676.8,1374.8 678.8,1374.8 680.8,1374.9 682.8,1374.9 684.8,1374.9 686.8,1375.0 688.8,1375.0 690.8,1375.1 692.8,1375.1 694.8,1375.1 696.8,1375.2 698.8,1375.2 700.8,1375.2 702.8,1375.3 704.8,1375.3 706.8,1375.3 708.8,1375.3 710.8,1375.4 712.8,1375.4 714.8,1375.4 716.8,1375.5 718.8,1375.5 720.8,1375.5 722.8,1375.5 724.8,1375.6 726.8,1375.6 728.8,1375.6 730.8,1375.6 732.8,1375.7 734.8,1375.7 736.8,1375.7 738.8,1375.7 740.8,1375.8 742.8,1375.8 744.8,1375.8 746.8,1375.8 748.8,1375.9 750.8,1375.9 752.8,1375.9 754.8,1375.9 756.8,1375.9 758.8,1376.0 760.8,1376.0 762.8,1376.0 764.8,1376.0 766.8,1376.0 768.8,1376.1 770.8,1376.1 772.8,1376.1 774.8,1376.1 776.8,1376.1 778.8,1376.2 780.8,1376.2 782.8,1376.2 784.8,1376.2 786.8,1376.2 788.8,1376.2 790.8,1376.3 792.8,1376.3 794.8,1376.3 796.8,1376.3 798.8,1376.3 800.8,1376.3 802.8,1376.3 804.8,1376.4 806.8,1376.4 808.8,1376.4 810.8,1376.4 812.8,1376.4 814.8,1376.4 816.8,1376.4 818.8,1376.5 820.8,1376.5 822.8,1376.5 824.8,1376.5 826.8,1376.5 828.8,1376.5 830.8,1376.5 832.8,1376.5 834.8,1376.6 836.8,1376.6 838.8,1376.6 840.8,1376.6 842.8,1376.6 844.8,1376.6 846.8,1376.6 848.8,1376.6 850.8,1376.7 852.8,1376.7 854.8,1376.7 856.8,1376.7 858.8,1376.7 860.8,1376.7 862.8,1376.7 864.8,1376.7 866.8,1376.7 868.8,1376.7 870.8,1376.8 872.8,1376.8 874.8,1376.8 876.8,1376.8 878.8,1376.8 880.8,1376.8 882.8,1376.8 884.8,1376.8 886.8,1376.8 888.8,1376.8 890.8,1376.8 892.8,1376.9 894.8,1376.9 896.8,1376.9 898.8,1376.9 900.8,1376.9 902.8,1376.9 904.8,1376.9 906.8,1376.9 908.8,1376.9 910.8,1376.9 912.8,1376.9 914.8,1376.9 916.8,1376.9 918.8,1377.0 920.8,1377.0 922.8,1377.0 924.8,1377.0 926.8,1377.0 928.8,1377.0 930.8,1377.0 932.8,1377.0 934.8,1377.0 936.8,1377.0 938.8,1377.0 940.8,1377.0 942.8,1377.0 944.8,1377.0 946.8,1377.1 948.8,1377.1 950.8,1377.1 952.8,1377.1 954.8,1377.1 956.8,1377.1 958.8,1377.1 960.8,1377.1 962.8,1377.1 964.8,1377.1 966.8,1377.1 968.8,1377.1 970.8,1377.1 972.8,1377.1 974.8,1377.1 976.8,1377.1 978.8,1377.1 980.8,1377.2 982.8,1377.2 984.8,1377.2 986.8,1377.2 988.8,1377.2 990.8,1377.2 992.8,1377.2 994.8,1377.2 996.8,1377.2 998.8,1377.2 1000.8,1377.2 1002.8,1377.2 1004.8,1377.2 1006.8,1377.2 1008.8,1377.2 1010.8,1377.2 1012.8,1377.2 1014.8,1377.2 1016.8,1377.2 1018.8,1377.2 1020.8,1377.3 1022.8,1377.3 1024.8,1377.3 1026.8,1377.3 1028.8,1377.3 1030.8,1377.3 1032.8,1377.3 1034.8,1377.3 1036.8,1377.3 1038.8,1377.3 1040.8,1377.3 1042.8,1377.3 1044.8,1377.3 1046.8,1377.3 1048.8,1377.3 1050.8,1377.3 1052.8,1377.3 1054.8,1377.3 1056.8,1377.3 1058.8,1377.3 1060.8,1377.3 1062.8,1377.3 1064.8,1377.3 1066.8,1377.3 1068.8,1377.4 1070.8,1377.4 1072.8,1377.4 1074.8,1377.4 1076.8,1377.4 1078.8,1377.4 1080.8,1377.4 1082.8,1377.4 1084.8,1377.4 1086.8,1377.4 1088.8,1377.4 1090.8,1377.4 1092.8,1377.4 1094.8,1377.4 1096.8,1377.4 1098.8,1377.4 1100.8,1377.4 1102.8,1377.4 1104.8,1377.4 1106.8,1377.4 1108.8,1377.4 1110.8,1377.4 1112.8,1377.4 1114.8,1377.4 1116.8,1377.4 1118.8,1377.4 1120.8,1377.4 1122.8,1377.4 1124.8,1377.4 1126.8,1377.4 1128.8,1377.4 1130.8,1377.5 1132.8,1377.5 1134.8,1377.5 1136.8,1377.5 1138.8,1377.5 1140.8,1377.5 1142.8,1377.5 1144.8,1377.5 1146.8,1377.5 1148.8,1377.5 1150.8,1377.5 1152.8,1377.5 1154.8,1377.5 1156.8,1377.5 1158.8,1377.5 1160.8,1377.5 1162.8,1377.5 1164.8,1377.5 1166.8,1377.5 1168.8,1377.5 1170.8,1377.5 1172.8,1377.5 1174.8,1377.5 1176.8,1377.5 1178.8,1377.5 1180.8,1377.5 1182.8,1377.5 1184.8,1377.5 1186.8,1377.5 1188.8,1377.5 1190.8,1377.5 1192.8,1377.5 1194.8,1377.5 1196.8,1377.5 1198.8,1377.5 1200.8,1377.5 1202.8,1377.5 1204.8,1377.5 1206.8,1377.5 1208.8,1377.5 1210.8,1377.5 1212.8,1377.6 1214.8,1377.6 1216.8,1377.6 1218.8,1377.6 1220.8,1377.6 1222.8,1377.6 1224.8,1377.6 1226.8,1377.6 1228.8,1377.6 1230.8,1377.6 1232.8,1377.6 1234.8,1377.6 1236.8,1377.6 1238.8,1377.6 1240.8,1377.6 1242.8,1377.6 1244.8,1377.6 1246.8,1377.6 1248.8,1377.6 1250.8,1377.6 1252.8,1377.6 1254.8,1377.6 1256.8,1377.6 1258.8,1377.6 1260.8,1377.6 1262.8,1377.6 1264.8,1377.6 1266.8,1377.6 1268.8,1377.6 1270.8,1377.6 1272.8,1377.6 1274.8,1377.6 1276.8,1377.6 1278.8,1377.6 1280.8,1377.6 1282.8,1377.6 1284.8,1377.6 1286.8,1377.6 1288.8,1377.6 1290.8,1377.6 1292.8,1377.6 1294.8,1377.6 1296.8,1377.6 1298.8,1377.6 1300.8,1377.6 1302.8,1377.6 1304.8,1377.6 1306.8,1377.6 1308.8,1377.6 1310.8,1377.6 1312.8,1377.6 1314.8,1377.6 1316.8,1377.6 1318.8,1377.6 1320.8,1377.6 1322.8,1377.6 1324.8,1377.6 1326.8,1377.6 1328.8,1377.7 1330.8,1377.7 1332.8,1377.7 1334.8,1377.7 1336.8,1377.7 1338.8,1377.7 1340.8,1377.7 1342.8,1377.7 1344.8,1377.7 1346.8,1377.7 1348.8,1377.7 1350.8,1377.7 1352.8,1377.7 1354.8,1377.7 1356.8,1377.7 1358.8,1377.7 1360.8,1377.7 1362.8,1377.7 1364.8,1377.7 1366.8,1377.7 1368.8,1377.7 1370.8,1377.7 1372.8,1377.7 1374.8,1377.7 1376.8,1377.7 1378.8,1377.7 1380.8,1377.7 1382.8,1377.7 1384.8,1377.7 1386.8,1377.7 1388.8,1377.7 1390.8,1377.7 1392.8,1377.7 1394.8,1377.7 1396.8,1377.7 1398.8,1377.7 1400.8,1377.7 1402.8,1377.7 1404.8,1377.7 1406.8,1377.7 1408.8,1377.7 1410.8,1377.7 1412.8,1377.7 1414.8,1377.7 1416.8,1377.7 1418.8,1377.7 1420.8,1377.7 1422.8,1377.7 1424.8,1377.7 1426.8,1377.7 1428.8,1377.7 1430.8,1377.7 1432.8,1377.7 1434.8,1377.7 1436.8,1377.7 1438.8,1377.7 1440.8,1377.7 1442.8,1377.7 1444.8,1377.7 1446.8,1377.7 1448.8,1377.7 1450.8,1377.7 1452.8,1377.7 1454.8,1377.7 1456.8,1377.7 1458.8,1377.7 1460.8,1377.7 1462.8,1377.7 1464.8,1377.7 1466.8,1377.7 1468.8,1377.7 1470.8,1377.7 1472.8,1377.7 1474.8,1377.7 1476.8,1377.7 1478.8,1377.7 1480.8,1377.7 1482.8,1377.7 1484.8,1377.7 1486.8,1377.7 1488.8,1377.7 1490.8,1377.7 1492.8,1377.7 1494.8,1377.7 1496.8,1377.7 1498.8,1377.7 1500.8,1377.7 1502.8,1377.7 1504.8,1377.8 1506.8,1377.8 1508.8,1377.8 1510.8,1377.8 1512.8,1377.8 1514.8,1377.8 1516.8,1377.8 1518.8,1377.8 1520.8,1377.8 1522.8,1377.8 1524.8,1377.8 1526.8,1377.8 1528.8,1377.8 1530.8,1377.8 1532.8,1377.8 1534.8,1377.8 1536.8,1377.8 1538.8,1377.8 1540.8,1377.8 1542.8,1377.8 1544.8,1377.8 1546.8,1377.8 1548.8,1377.8 1550.8,1377.8 1552.8,1377.8 1554.8,1377.8 1556.8,1377.8 1558.8,1377.8 1560.8,1377.8 1562.8,1377.8 1564.8,1377.8 1566.8,1377.8 1568.8,1377.8 1570.8,1377.8 1572.8,1377.8 1574.8,1377.8 1576.8,1377.8 1578.8,1377.8 1580.8,1377.8 1582.8,1377.8 1584.8,1377.8 1586.8,1377.8 1588.8,1377.8 1590.8,1377.8 1592.8,1377.8 1594.8,1377.8 1596.8,1377.8 1598.8,1377.8 1600.8,1377.8 1602.8,1377.8 1604.8,1377.8 1606.8,1377.8 1608.8,1377.8 1610.8,1377.8 1612.8,1377.8 1614.8,1377.8 1616.8,1377.8 1618.8,1377.8 1620.8,1377.8 1622.8,1377.8 1624.8,1377.8 1626.8,1377.8 1628.8,1377.8 1630.8,1377.8 1632.8,1377.8 1634.8,1377.8 1636.8,1377.8 1638.8,1377.8 1640.8,1377.8 1642.8,1377.8 1644.8,1377.8 1646.8,1377.8 1648.8,1377.8 1650.8,1377.8 1652.8,1377.8 1654.8,1377.8 1656.8,1377.8 1658.8,1377.8 1660.8,1377.8 1662.8,1377.8 1664.8,1377.8 1666.8,1377.8 1668.8,1377.8 1670.8,1377.8 1672.8,1377.8 1674.8,1377.8 1676.8,1377.8 1678.8,1377.8 1680.8,1377.8 1682.8,1377.8 1684.8,1377.8 1686.8,1377.8 1688.8,1377.8 1690.8,1377.8 1692.8,1377.8 1694.8,1377.8 1696.8,1377.8 1698.8,1377.8 1700.8,1377.8 1702.8,1377.8 1704.8,1377.8 1706.8,1377.8 1708.8,1377.8 1710.8,1377.8 1712.8,1377.8 1714.8,1377.8 1716.8,1377.8 1718.8,1377.8 1720.8,1377.8 1722.8,1377.8 1724.8,1377.8 1726.8,1377.8 1728.8,1377.8 1730.8,1377.8 1732.8,1377.8 1734.8,1377.8 1736.8,1377.8 1738.8,1377.8 1740.8,1377.8 1742.8,1377.8 1744.8,1377.8 1746.8,1377.8 1748.8,1377.8 1750.8,1377.8 1752.8,1377.8 1754.8,1377.8 1756.8,1377.8 1758.8,1377.8 1760.8,1377.8 1762.8,1377.8 1764.8,1377.8 1766.8,1377.8 1768.8,1377.8 1770.8,1377.8 1772.8,1377.8 1774.8,1377.8 1776.8,1377.8 1778.8,1377.8 1780.8,1377.8 1782.8,1377.8 1784.8,1377.8 1786.8,1377.8 1788.8,1377.8 1790.8,1377.8 1792.8,1377.8 1794.8,1377.8 1796.8,1377.8 1798.8,1377.8 1800.8,1377.8 1802.8,1377.8 1804.8,1377.8 1806.8,1377.8 1808.8,1377.8 1810.8,1377.8 1812.8,1377.8 1814.8,1377.8 1816.8,1377.8 1818.8,1377.8 1820.8,1377.8 1822.8,1377.8 1824.8,1377.8 1826.8,1377.8 1828.8,1377.8 1830.8,1377.8 1832.8,1377.8 1834.8,1377.8 1836.8,1377.8 1838.8,1377.9 1840.8,1377.9 1842.8,1377.9 1844.8,1377.9 1846.8,1377.9 1848.8,1377.9 1850.8,1377.9 1852.8,1377.9 1854.8,1377.9 1856.8,1377.9 1858.8,1377.9 1860.8,1377.9 1862.8,1377.9 1864.8,1377.9 1866.8,1377.9 1868.8,1377.9 1870.8,1377.9 1872.8,1377.9 1874.8,1377.9 1876.8,1377.9 1878.8,1377.9 1880.8,1377.9 1882.8,1377.9 1884.8,1377.9 1886.8,1377.9 1888.8,1377.9 1890.8,1377.9 1892.8,1377.9 1894.8,1377.9 1896.8,1377.9 1898.8,1377.9 1900.8,1377.9 1902.8,1377.9 1904.8,1377.9 1906.8,1377.9 1908.8,1377.9 1910.8,1377.9 1912.8,1377.9 1914.8,1377.9 1916.8,1377.9 1918.8,1377.9 1920.8,1377.9 1922.8,1377.9 1924.8,1377.9 1926.8,1377.9 1928.8,1377.9 1930.8,1377.9 1932.8,1377.9 1934.8,1377.9 1936.8,1377.9 1938.8,1377.9 1940.8,1377.9 1942.8,1377.9 1944.8,1377.9 1946.8,1377.9 1948.8,1377.9 1950.8,1377.9 1952.8,1377.9 1954.8,1377.9 1956.8,1377.9 1958.8,1377.9 1960.8,1377.9 1962.8,1377.9 1964.8,1377.9 1966.8,1377.9 1968.8,1377.9 1970.8,1377.9 1972.8,1377.9 1974.8,1377.9 1976.8,1377.9 1978.8,1377.9 1980.8,1377.9 1982.8,1377.9 1984.8,1377.9 1986.8,1377.9 1988.8,1377.9 1990.8,1377.9 1992.8,1377.9 1994.8,1377.9 1996.8,1377.9 1998.8,1377.9 2000.8,1377.9 2002.8,1377.9 2004.8,1377.9 2006.8,1377.9 2008.8,1377.9 2010.8,1377.9 2012.8,1377.9 2014.8,1377.9 2016.8,1377.9 2018.8,1377.9 2020.8,1377.9 2022.8,1377.9 2024.8,1377.9 2026.8,1377.9 2028.8,1377.9 2030.8,1377.9 2032.8,1377.9 2034.8,1377.9 2036.8,1377.9 2038.8,1377.9 2040.8,1377.9 2042.8,1377.9 2044.8,1377.9 2046.8,1377.9 2048.8,1377.9 2050.8,1377.9 2052.8,1377.9 2054.8,1377.9 2056.8,1377.9 2058.8,1377.9 2060.8,1377.9 2062.8,1377.9 2064.8,1377.9 2066.8,1377.9 2068.8,1377.9 2070.8,1377.9 2072.8,1377.9 2074.8,1377.9 2076.8,1377.9 2078.8,1377.9 2080.8,1377.9 2082.8,1377.9 2084.8,1377.9 2086.8,1377.9 2088.8,1377.9 2090.8,1377.9 2092.8,1377.9 2094.8,1377.9 2096.8,1377.9 2098.8,1377.9 2100.8,1377.9 2102.8,1377.9 2104.8,1377.9 2106.8,1377.9 2108.8,1377.9 2110.8,1377.9 2112.8,1377.9 2114.8,1377.9 2116.8,1377.9 2118.8,1377.9 2120.8,1377.9 2122.8,1377.9 2124.8,1377.9 2126.8,1377.9 2128.8,1377.9 2130.8,1377.9 2132.8,1377.9 2134.8,1377.9 2136.8,1377.9 2138.8,1377.9 2140.8,1377.9 2142.8,1377.9 2144.8,1377.9 2146.8,1377.9 2148.8,1377.9 2150.8,1377.9 2152.8,1377.9"/>
<polyline stroke="#000000" points="114.8,1378.0 116.8,1378.0 118.8,1378.0 120.8,1378.0 122.8,1378.0 124.8,1378.0 126.8,1378.0 128.8,1378.0 130.8,1378.0 132.8,1378.0 134.8,1378.0 136.8,1378.0 138.8,1378.0 140.8,1378.0 142.8,1378.0 144.8,1378.0 146.8,1378.0 148.8,1378.0 150.8,1378.0 152.8,1378.0 154.8,1378.0 156.8,1378.0 158.8,1378.0 160.8,1378.0 162.8,1378.0 164.8,1378.0 166.8,1378.0 168.8,1378.0 170.8,1378.0 172.8,1378.0 174.8,1378.0 176.8,1378.0 178.8,1378.0 180.8,1378.0 182.8,1378.0 184.8,1378.0 186.8,1378.0 188.8,1378.0 190.8,1378.0 192.8,1378.0 194.8,1378.0 196.8,1378.0 198.8,1378.0 200.8,1378.0 202.8,1378.0 204.8,1378.0 206.8,1378.0 208.8,1378.0 210.8,1378.0 212.8,1378.0 214.8,1378.0 216.8,1378.0 218.8,1378.0 220.8,1378.0 222.8,1378.0 224.8,1378.0 226.8,1378.0 228.8,1378.0 230.8,1378.0 232.8,1378.0 234.8,1378.0 236.8,1378.0 238.8,1378.0 240.8,1378.0 242.8,1378.0 244.8,1378.0 246.8,1378.0 248.8,1378.0 250.8,1378.0 252.8,1378.0 254.8,1378.0 256.8,1378.0 258.8,1378.0 260.8,1378.0 262.8,1378.0 264.8,1378.0 266.8,1378.0 268.8,1378.0 270.8,1378.0 272.8,1378.0 274.8,1378.0 276.8,1378.0 278.8,1377.9 280.8,1377.9 282.8,1377.9 284.8,1377.9 286.8,1377.8 288.8,1377.8 290.8,1377.8 292.8,1377.7 294.8,1377.6 296.8,1377.5 298.8,1377.4 300.8,1377.3 302.8,1377.1 304.8,1376.9 306.8,1376.6 308.8,1376.3 310.8,1376.0 312.8,1375.5 314.8,1375.0 316.8,1374.5 318.8,1373.8 320.8,1373.0 322.8,1372.1 324.8,1371.0 326.8,1369.8 328.8,1368.4 330.8,1366.8 332.8,1365.0 334.8,1362.9 336.8,1360.6 338.8,1358.1 340.8,1355.2 342.8,1352.1 344.8,1348.6 346.8,1344.9 348.8,1340.7 350.8,1336.2 352.8,1331.4 354.8,1326.2 356.8,1320.7 358.8,1314.8 360.8,1308.5 362.8,1302.0 364.8,1295.1 366.8,1288.0 368.8,1280.7 370.8,1273.1 372.8,1265.4 374.8,1257.6 376.8,1249.8 378.8,1241.9 380.8,1234.2 382.8,1226.5 384.8,1219.1 386.8,1211.9 388.8,1205.0 390.8,1198.5 392.8,1192.5 394.8,1186.9 396.8,1181.9 398.8,1177.5 400.8,1173.8 402.8,1170.7 404.8,1168.3 406.8,1166.7 408.8,1165.7 410.8,1165.4 412.8,1165.8 414.8,1166.8 416.8,1168.6 418.8,1171.1 420.8,1174.2 422.8,1178.1 424.8,1182.5 426.8,1187.6 428.8,1193.2 430.8,1199.3 432.8,1205.8 434.8,1212.7 436.8,1220.0 438.8,1227.5 440.8,1235.1 442.8,1242.9 444.8,1250.8 446.8,1258.6 448.8,1266.4 450.8,1274.1 452.8,1281.6 454.8,1288.9 456.8,1296.0 458.8,1302.8 460.8,1309.3 462.8,1315.5 464.8,1321.4 466.8,1326.9 468.8,1332.0 470.8,1336.8 472.8,1341.3 474.8,1345.3 476.8,1349.1 478.8,1352.5 480.8,1355.6 482.8,1358.4 484.8,1360.9 486.8,1363.2 488.8,1365.2 490.8,1367.0 492.8,1368.5 494.8,1369.9 496.8,1371.1 498.8,1372.2 500.8,1373.1 502.8,1373.9 504.8,1374.5 506.8,1375.1 508.8,1375.6 510.8,1376.0 512.8,1376.4 514.8,1376.7 516.8,1376.9 518.8,1377.1 520.8,1377.3 522.8,1377.4 524.8,1377.5 526.8,1377.6 528.8,1377.7 530.8,1377.8 532.8,1377.8 534.8,1377.9 536.8,1377.9 538.8,1377.9 540.8,1377.9 542.8,1377.9 544.8,1378.0 546.8,1378.0 548.8,1378.0 550.8,1378.0 552.8,1378.0 554.8,1378.0 556.8,1378.0 558.8,1378.0 560.8,1378.0 562.8,1378.0 564.8,1378.0 566.8,1378.0 568.8,1378.0 570.8,1378.0 572.8,1378.0 574.8,1378.0 576.8,1378.0 578.8,1378.0 580.8,1378.0 582.8,1378.0 584.8,1378.0 586.8,1378.0 588.8,1378.0 590.8,1378.0 592.8,1378.0 594.8,1378.0 596.8,1378.0 598.8,1378.0 600.8,1378.0 602.8,1378.0 604.8,1378.0 606.8,1378.0 608.8,1378.0 610.8,1378.0 612.8,1378.0 614.8,1378.0 616.8,1378.0 618.8,1378.0 620.8,1378.0 622.8,1378.0 624.8,1378.0 626.8,1378.0 628.8,1378.0 630.8,1378.0 632.8,1378.0 634.8,1378.0 636.8,1378.0 638.8,1378.0 640.8,1378.0 642.8,1378.0 644.8,1378.0 646.8,1378.0 648.8,1378.0 650.8,1378.0 652.8,1378.0 654.8,1378.0 656.8,1378.0 658.8,1378.0 660.8,1378.0 662.8,1378.0 664.8,1378.0 666.8,1378.0 668.8,1378.0 670.8,1378.0 672.8,1378.0 674.8,1378.0 676.8,1378.0 678.8,1378.0 680.8,1378.0 682.8,1378.0 684.8,1378.0 686.8,1378.0 688.8,1378.0 690.8,1378.0 692.8,1378.0 694.8,1378.0 696.8,1378.0 698.8,1378.0 700.8,1378.0 702.8,1378.0 704.8,1378.0 706.8,1378.0 708.8,1378.0 710.8,1378.0 712.8,1378.0 714.8,1378.0 716.8,1378.0 718.8,1378.0 720.8,1378.0 722.8,1378.0 724.8,1378.0 726.8,1378.0 728.8,1378.0 730.8,1378.0 732.8,1378.0 734.8,1378.0 736.8,1378.0 738.8,1378.0 740.8,1378.0 742.8,1378.0 744.8,1378.0 746.8,1378.0 748.8,1378.0 750.8,1378.0 752.8,1378.0 754.8,1378.0 756.8,1378.0 758.8,1378.0 760.8,1378.0 762.8,1378.0 764.8,1378.0 766.8,1378.0 768.8,1378.0 770.8,1378.0 772.8,1378.0 774.8,1378.0 776.8,1378.0 778.8,1378.0 780.8,1378.0 782.8,1378.0 784.8,1378.0 786.8,1378.0 788.8,1378.0 790.8,1378.0 792.8,1378.0 794.8,1378.0 796.8,1378.0 798.8,1378.0 800.8,1378.0 802.8,1378.0 804.8,1378.0 806.8,1378.0 808.8,1378.0 810.8,1378.0 812.8,1378.0 814.8,1378.0 816.8,1378.0 818.8,1378.0 820.8,1378.0 822.8,1378.0 824.8,1378.0 826.8,1378.0 828.8,1378.0 830.8,1378.0 832.8,1378.0 834.8,1378.0 836.8,1378.0 838.8,1378.0 840.8,1378.0 842.8,1378.0 844.8,1378.0 846.8,1378.0 848.8,1378.0 850.8,1378.0 852.8,1378.0 854.8,1378.0 856.8,1378.0 858.8,1378.0 860.8,1378.0 862.8,1378.0 864.8,1378.0 866.8,1378.0 868.8,1378.0 870.8,1378.0 872.8,1378.0 874.8,1378.0 876.8,1378.0 878.8,1378.0 880.8,1378.0 882.8,1378.0 884.8,1378.0 886.8,1378.0 888.8,1378.0 890.8,1378.0 892.8,1378.0 894.8,1378.0 896.8,1378.0 898.8,1378.0 900.8,1378.0 902.8,1378.0 904.8,1378.0 906.8,1378.0 908.8,1378.0 910.8,1378.0 912.8,1378.0 914.8,1378.0 916.8,1378.0 918.8,1378.0 920.8,1378.0 922.8,1378.0 924.8,1378.0 926.8,1378.0 928.8,1378.0 930.8,1378.0 932.8,1378.0 934.8,1378.0 936.8,1378.0 938.8,1378.0 940.8,1378.0 942.8,1378.0 944.8,1378.0 946.8,1378.0 948.8,1378.0 950.8,1378.0 952.8,1378.0 954.8,1378.0 956.8,1378.0 958.8,1378.0 960.8,1378.0 962.8,1378.0 964.8,1378.0 966.8,1378.0 968.8,1378.0 970.8,1378.0 972.8,1378.0 974.8,1378.0 976.8,1378.0 978.8,1378.0 980.8,1378.0 982.8,1378.0 984.8,1378.0 986.8,1378.0 988.8,1378.0 990.8,1378.0 992.8,1378.0 994.8,1378.0 996.8,1378.0 998.8,1378.0 1000.8,1378.0 1002.8,1378.0 1004.8,1378.0 1006.8,1378.0 1008.8,1378.0 1010.8,1378.0 1012.8,1378.0 1014.8,1378.0 1016.8,1378.0 1018.8,1378.0 1020.8,1378.0 1022.8,1378.0 1024.8,1378.0 1026.8,1378.0 1028.8,1378.0 1030.8,1378.0 1032.8,1378.0 1034.8,1378.0 1036.8,1378.0 1038.8,1378.0 1040.8,1378.0 1042.8,1378.0 1044.8,1378.0 1046.8,1378.0 1048.8,1378.0 1050.8,1378.0 1052.8,1378.0 1054.8,1378.0 1056.8,1378.0 1058.8,1378.0 1060.8,1378.0 1062.8,1378.0 1064.8,1378.0 1066.8,1378.0 1068.8,1378.0 1070.8,1378.0 1072.8,1378.0 1074.8,1378.0 1076.8,1378.0 1078.8,1378.0 1080.8,1378.0 1082.8,1378.0 1084.8,1378.0 1086.8,1378.0 1088.8,1378.0 1090.8,1378.0 1092.8,1378.0 1094.8,1378.0 1096.8,1378.0 1098.8,1378.0 1100.8,1378.0 1102.8,1378.0 1104.8,1378.0 1106.8,1378.0 1108.8,1378.0 1110.8,1378.0 1112.8,1378.0 1114.8,1378.0 1116.8,1378.0 1118.8,1378.0 1120.8,1378.0 1122.8,1378.0 1124.8,1378.0 1126.8,1378.0 1128.8,1378.0 1130.8,1378.0 1132.8,1378.0 1134.8,1378.0 1136.8,1378.0 1138.8,1378.0 1140.8,1378.0 1142.8,1378.0 1144.8,1378.0 1146.8,1378.0 1148.8,1378.0 1150.8,1378.0 1152.8,1378.0 1154.8,1378.0 1156.8,1378.0 1158.8,1378.0 1160.8,1378.0 1162.8,1378.0 1164.8,1378.0 1166.8,1378.0 1168.8,1378.0 1170.8,1378.0 1172.8,1378.0 1174.8,1378.0 1176.8,1378.0 1178.8,1378.0 1180.8,1378.0 1182.8,1378.0 1184.8,1378.0 1186.8,1378.0 1188.8,1378.0 1190.8,1378.0 1192.8,1378.0 1194.8,1378.0 1196.8,1378.0 1198.8,1378.0 1200.8,1378.0 1202.8,1378.0 1204.8,1378.0 1206.8,1378.0 1208.8,1378.0 1210.8,1378.0 1212.8,1378.0 1214.8,1378.0 1216.8,1378.0 1218.8,1378.0 1220.8,1378.0 1222.8,1378.0 1224.8,1378.0 1226.8,1378.0 1228.8,1378.0 1230.8,1378.0 1232.8,1378.0 1234.8,1378.0 1236.8,1378.0 1238.8,1378.0 1240.8,1378.0 1242.8,1378.0 1244.8,1378.0 1246.8,1378.0 1248.8,1378.0 1250.8,1378.0 1252.8,1378.0 1254.8,1378.0 1256.8,1378.0 1258.8,1378.0 1260.8,1378.0 1262.8,1378.0 1264.8,1378.0 1266.8,1378.0 1268.8,1378.0 1270.8,1378.0 1272.8,1378.0 1274.8,1378.0 1276.8,1378.0 1278.8,1378.0 1280.8,1378.0 1282.8,1378.0 1284.8,1378.0 1286.8,1378.0 1288.8,1378.0 1290.8,1378.0 1292.8,1378.0 1294.8,1378.0 1296.8,1378.0 1298.8,1378.0 1300.8,1378.0 1302.8,1378.0 1304.8,1378.0 1306.8,1378.0 1308.8,1378.0 1310.8,1378.0 1312.8,1378.0 1314.8,1378.0 1316.8,1378.0 1318.8,1378.0 1320.8,1378.0 1322.8,1378.0 1324.8,1378.0 1326.8,1378.0 1328.8,1378.0 1330.8,1378.0 1332.8,1378.0 1334.8,1378.0 1336.8,1378.0 1338.8,1378.0 1340.8,1378.0 1342.8,1378.0 1344.8,1378.0 1346.8,1378.0 1348.8,1378.0 1350.8,1378.0 1352.8,1378.0 1354.8,1378.0 1356.8,1378.0 1358.8,1378.0 1360.8,1378.0 1362.8,1378.0 1364.8,1378.0 1366.8,1378.0 1368.8,1378.0 1370.8,1378.0 1372.8,1378.0 1374.8,1378.0 1376.8,1378.0 1378.8,1378.0 1380.8,1378.0 1382.8,1378.0 1384.8,1378.0 1386.8,1378.0 1388.8,1378.0 1390.8,1378.0 1392.8,1378.0 1394.8,1378.0 1396.8,1378.0 1398.8,1378.0 1400.8,1378.0 1402.8,1378.0 1404.8,1378.0 1406.8,1378.0 1408.8,1378.0 1410.8,1378.0 1412.8,1378.0 1414.8,1378.0 1416.8,1378.0 1418.8,1378.0 1420.8,1378.0 1422.8,1378.0 1424.8,1378.0 1426.8,1378.0 1428.8,1378.0 1430.8,1378.0 1432.8,1378.0 1434.8,1378.0 1436.8,1378.0 1438.8,1378.0 1440.8,1378.0 1442.8,1378.0 1444.8,1378.0 1446.8,1378.0 1448.8,1378.0 1450.8,1378.0 1452.8,1378.0 1454.8,1378.0 1456.8,1378.0 1458.8,1378.0 1460.8,1378.0 1462.8,1378.0 1464.8,1378.0 1466.8,1378.0 1468.8,1378.0 1470.8,1378.0 1472.8,1378.0 1474.8,1378.0 1476.8,1378.0 1478.8,1378.0 1480.8,1378.0 1482.8,1378.0 1484.8,1378.0 1486.8,1378.0 1488.8,1378.0 1490.8,1378.0 1492.8,1378.0 1494.8,1378.0 1496.8,1378.0 1498.8,1378.0 1500.8,1378.0 1502.8,1378.0 1504.8,1378.0 1506.8,1378.0 1508.8,1378.0 1510.8,1378.0 1512.8,1378.0 1514.8,1378.0 1516.8,1378.0 1518.8,1378.0 1520.8,1378.0 1522.8,1378.0 1524.8,1378.0 1526.8,1378.0 1528.8,1378.0 1530.8,1378.0 1532.8,1378.0 1534.8,1378.0 1536.8,1378.0 1538.8,1378.0 1540.8,1378.0 1542.8,1378.0 1544.8,1378.0 1546.8,1378.0 1548.8,1378.0 1550.8,1378.0 1552.8,1378.0 1554.8,1378.0 1556.8,1378.0 1558.8,1378.0 1560.8,1378.0 1562.8,1378.0 1564.8,1378.0 1566.8,1378.0 1568.8,1378.0 1570.8,1378.0 1572.8,1378.0 1574.8,1378.0 1576.8,1378.0 1578.8,1378.0 1580.8,1378.0 1582.8,1378.0 1584.8,1378.0 1586.8,1378.0 1588.8,1378.0 1590.8,1378.0 1592.8,1378.0 1594.8,1378.0 1596.8,1378.0 1598.8,1378.0 1600.8,1378.0 1602.8,1378.0 1604.8,1378.0 1606.8,1378.0 1608.8,1378.0 1610.8,1378.0 1612.8,1378.0 1614.8,1378.0 1616.8,1378.0 1618.8,1378.0 1620.8,1378.0 1622.8,1378.0 1624.8,1378.0 1626.8,1378.0 1628.8,1378.0 1630.8,1378.0 1632.8,1378.0 1634.8,1378.0 1636.8,1378.0 1638.8,1378.0 1640.8,1378.0 1642.8,1378.0 1644.8,1378.0 1646.8,1378.0 1648.8,1378.0 1650.8,1378.0 1652.8,1378.0 1654.8,1378.0 1656.8,1378.0 1658.8,1378.0 1660.8,1378.0 1662.8,1378.0 1664.8,1378.0 1666.8,1378.0 1668.8,1378.0 1670.8,1378.0 1672.8,1378.0 1674.8,1378.0 1676.8,1378.0 1678.8,1378.0 1680.8,1378.0 1682.8,1378.0 1684.8,1378.0 1686.8,1378.0 1688.8,1378.0 1690.8,1378.0 1692.8,1378.0 1694.8,1378.0 1696.8,1378.0 1698.8,1378.0 1700.8,1378.0 1702.8,1378.0 1704.8,1378.0 1706.8,1378.0 1708.8,1378.0 1710.8,1378.0 1712.8,1378.0 1714.8,1378.0 1716.8,1378.0 1718.8,1378.0 1720.8,1378.0 1722.8,1378.0 1724.8,1378.0 1726.8,1378.0 1728.8,1378.0 1730.8,1378.0 1732.8,1378.0 1734.8,1378.0 1736.8,1378.0 1738.8,1378.0 1740.8,1378.0 1742.8,1378.0 1744.8,1378.0 1746.8,1378.0 1748.8,1378.0 1750.8,1378.0 1752.8,1378.0 1754.8,1378.0 1756.8,1378.0 1758.8,1378.0 1760.8,1378.0 1762.8,1378.0 1764.8,1378.0 1766.8,1378.0 1768.8,1378.0 1770.8,1378.0 1772.8,1378.0 1774.8,1378.0 1776.8,1378.0 1778.8,1378.0 1780.8,1378.0 1782.8,1378.0 1784.8,1378.0 1786.8,1378.0 1788.8,1378.0 1790.8,1378.0 1792.8,1378.0 1794.8,1378.0 1796.8,1378.0 1798.8,1378.0 1800.8,1378.0 1802.8,1378.0 1804.8,1378.0 1806.8,1378.0 1808.8,1378.0 1810.8,1378.0 1812.8,1378.0 1814.8,1378.0 1816.8,1378.0 1818.8,1378.0 1820.8,1378.0 1822.8,1378.0 1824.8,1378.0 1826.8,1378.0 1828.8,1378.0 1830.8,1378.0 1832.8,1378.0 1834.8,1378.0 1836.8,1378.0 1838.8,1378.0 1840.8,1378.0 1842.8,1378.0 1844.8,1378.0 1846.8,1378.0 1848.8,1378.0 1850.8,1378.0 1852.8,1378.0 1854.8,1378.0 1856.8,1378.0 1858.8,1378.0 1860.8,1378.0 1862.8,1378.0 1864.8,1378.0 1866.8,1378.0 1868.8,1378.0 1870.8,1378.0 1872.8,1378.0 1874.8,1378.0 1876.8,1378.0 1878.8,1378.0 1880.8,1378.0 1882.8,1378.0 1884.8,1378.0 1886.8,1378.0 1888.8,1378.0 1890.8,1378.0 1892.8,1378.0 1894.8,1378.0 1896.8,1378.0 1898.8,1378.0 1900.8,1378.0 1902.8,1378.0 1904.8,1378.0 1906.8,1378.0 1908.8,1378.0 1910.8,1378.0 1912.8,1378.0 1914.8,1378.0 1916.8,1378.0 1918.8,1378.0 1920.8,1378.0 1922.8,1378.0 1924.8,1378.0 1926.8,1378.0 1928.8,1378.0 1930.8,1378.0 1932.8,1378.0 1934.8,1378.0 1936.8,1378.0 1938.8,1378.0 1940.8,1378.0 1942.8,1378.0 1944.8,1378.0 1946.8,1378.0 1948.8,1378.0 1950.8,1378.0 1952.8,1378.0 1954.8,1378.0 1956.8,1378.0 1958.8,1378.0 1960.8,1378.0 1962.8,1378.0 1964.8,1378.0 1966.8,1378.0 1968.8,1378.0 1970.8,1378.0 1972.8,1378.0 1974.8,1378.0 1976.8,1378.0 1978.8,1378.0 1980.8,1378.0 1982.8,1378.0 1984.8,1378.0 1986.8,1378.0 1988.8,1378.0 1990.8,1378.0 1992.8,1378.0 1994.8,1378.0 1996.8,1378.0 1998.8,1378.0 2000.8,1378.0 2002.8,1378.0 2004.8,1378.0 2006.8,1378.0 2008.8,1378.0 2010.8,1378.0 2012.8,1378.0 2014.8,1378.0 2016.8,1378.0 2018.8,1378.0 2020.8,1378.0 2022.8,1378.0 2024.8,1378.0 2026.8,1378.0 2028.8,1378.0 2030.8,1378.0 2032.8,1378.0 2034.8,1378.0 2036.8,1378.0 2038.8,1378.0 2040.8,1378.0 2042.8,1378.0 2044.8,1378.0 2046.8,1378.0 2048.8,1378.0 2050.8,1378.0 2052.8,1378.0 2054.8,1378.0 2056.8,1378.0 2058.8,1378.0 2060.8,1378.0 2062.8,1378.0 2064.8,1378.0 2066.8,1378.0 2068.8,1378.0 2070.8,1378.0 2072.8,1378.0 2074.8,1378.0 2076.8,1378.0 2078.8,1378.0 2080.8,1378.0 2082.8,1378.0 2084.8,1378.0 2086.8,1378.0 2088.8,1378.0 2090.8,1378.0 2092.8,1378.0 2094.8,1378.0 2096.8,1378.0 2098.8,1378.0 2100.8,1378.0 2102.8,1378.0 2104.8,1378.0 2106.8,1378.0 2108.8,1378.0 2110.8,1378.0 2112.8,1378.0 2114.8,1378.0 2116.8,1378.0 2118.8,1378.0 2120.8,1378.0 2122.8,1378.0 2124.8,1378.0 2126.8,1378.0 2128.8,1378.0 2130.8,1378.0 2132.8,1378.0 2134.8,1378.0 2136.8,1378.0 2138.8,1378.0 2140.8,1378.0 2142.8,1378.0 2144.8,1378.0 2146.8,1378.0 2148.8,1378.0 2150.8,1378.0 2152.8,1378.0"/>
<polyline stroke="#008000" points="114.8,1377.4 116.8,1377.4 118.8,1377.4 120.8,1377.4 122.8,1377.4 124.8,1377.4 126.8,1377.4 128.8,1377.4 130.8,1377.4 132.8,1377.4 134.8,1377.3 136.8,1377.3 138.8,1377.3 140.8,1377.3 142.8,1377.3 144.8,1377.3 146.8,1377.3 148.8,1377.3 150.8,1377.3 152.8,1377.3 154.8,1377.3 156.8,1377.3 158.8,1377.2 160.8,1377.2 162.8,1377.2 164.8,1377.2 166.8,1377.2 168.8,1377.2 170.8,1377.2 172.8,1377.2 174.8,1377.2 176.8,1377.1 178.8,1377.1 180.8,1377.1 182.8,1377.1 184.8,1377.1 186.8,1377.1 188.8,1377.1 190.8,1377.1 192.8,1377.0 194.8,1377.0 196.8,1377.0 198.8,1377.0 200.8,1377.0 202.8,1377.0 204.8,1377.0 206.8,1376.9 208.8,1376.9 210.8,1376.9 212.8,1376.9 214.8,1376.9 216.8,1376.9 218.8,1376.8 220.8,1376.8 222.8,1376.8 224.8,1376.8 226.8,1376.8 228.8,1376.7 230.8,1376.7 232.8,1376.7 234.8,1376.7 236.8,1376.7 238.8,1376.6 240.8,1376.6 242.8,1376.6 244.8,1376.6 246.8,1376.5 248.8,1376.5 250.8,1376.5 252.8,1376.5 254.8,1376.4 256.8,1376.4 258.8,1376.4 260.8,1376.3 262.8,1376.3 264.8,1376.3 266.8,1376.2 268.8,1376.2 270.8,1376.2 272.8,1376.1 274.8,1376.1 276.8,1376.1 278.8,1376.0 280.8,1376.0 282.8,1375.9 284.8,1375.9 286.8,1375.9 288.8,1375.8 290.8,1375.8 292.8,1375.7 294.8,1375.7 296.8,1375.6 298.8,1375.6 300.8,1375.5 302.8,1375.4 304.8,1375.4 306.8,1375.3 308.8,1375.3 310.8,1375.2 312.8,1375.1 314.8,1375.0 316.8,1375.0 318.8,1374.9 320.8,1374.8 322.8,1374.7 324.8,1374.6 326.8,1374.6 328.8,1374.5 330.8,1374.4 332.8,1374.3 334.8,1374.2 336.8,1374.0 338.8,1373.9 340.8,1373.8 342.8,1373.7 344.8,1373.6 346.8,1373.4 348.8,1373.3 350.8,1373.1 352.8,1373.0 354.8,1372.8 356.8,1372.6 358.8,1372.4 360.8,1372.2 362.8,1372.0 364.8,1371.8 366.8,1371.6 368.8,1371.3 370.8,1371.1 372.8,1370.8 374.8,1370.5 376.8,1370.1 378.8,1369.8 380.8,1369.4 382.8,1368.9 384.8,1368.4 386.8,1367.9 388.8,1367.2 390.8,1366.5 392.8,1365.7 394.8,1364.9 396.8,1363.8 398.8,1362.7 400.8,1361.4 402.8,1359.9 404.8,1358.3 406.8,1356.4 408.8,1354.2 410.8,1351.8 412.8,1349.1 414.8,1346.1 416.8,1342.8 418.8,1339.0 420.8,1334.9 422.8,1330.4 424.8,1325.5 426.8,1320.1 428.8,1314.3 430.8,1308.1 432.8,1301.5 434.8,1294.5 436.8,1287.1 438.8,1279.4 440.8,1271.4 442.8,1263.2 444.8,1254.8 446.8,1246.3 448.8,1237.8 450.8,1229.5 452.8,1221.4 454.8,1213.6 456.8,1206.3 458.8,1199.7 460.8,1193.8 462.8,1188.9 464.8,1185.0 466.8,1182.2 468.8,1180.7 470.8,1180.4 472.8,1181.4 474.8,1183.6 476.8,1187.0 478.8,1191.5 480.8,1196.9 482.8,1203.2 484.8,1210.2 486.8,1217.8 488.8,1225.7 490.8,1234.0 492.8,1242.4 494.8,1250.9 496.8,1259.3 498.8,1267.7 500.8,1275.8 502.8,1283.6 504.8,1291.2 506.8,1298.4 508.8,1305.2 510.8,1311.6 512.8,1317.5 514.8,1323.1 516.8,1328.2 518.8,1332.9 520.8,1337.2 522.8,1341.1 524.8,1344.6 526.8,1347.8 528.8,1350.6 530.8,1353.2 532.8,1355.4 534.8,1357.4 536.8,1359.2 538.8,1360.8 540.8,1362.1 542.8,1363.3 544.8,1364.4 546.8,1365.4 548.8,1366.2 550.8,1366.9 552.8,1367.6 554.8,1368.2 556.8,1368.7 558.8,1369.2 560.8,1369.6 562.8,1370.0 564.8,1370.3 566.8,1370.6 568.8,1370.9 570.8,1371.2 572.8,1371.5 574.8,1371.7 576.8,1371.9 578.8,1372.2 580.8,1372.4 582.8,1372.5 584.8,1372.7 586.8,1372.9 588.8,1373.1 590.8,1373.2 592.8,1373.4 594.8,1373.5 596.8,1373.6 598.8,1373.8 600.8,1373.9 602.8,1374.0 604.8,1374.1 606.8,1374.2 608.8,1374.3 610.8,1374.4 612.8,1374.5 614.8,1374.6 616.8,1374.7 618.8,1374.8 620.8,1374.9 622.8,1374.9 624.8,1375.0 626.8,1375.1 628.8,1375.2 630.8,1375.2 632.8,1375.3 634.8,1375.4 636.8,1375.4 638.8,1375.5 640.8,1375.5 642.8,1375.6 644.8,1375.6 646.8,1375.7 648.8,1375.7 650.8,1375.8 652.8,1375.8 654.8,1375.9 656.8,1375.9 658.8,1376.0 660.8,1376.0 662.8,1376.0 664.8,1376.1 666.8,1376.1 668.8,1376.2 670.8,1376.2 672.8,1376.2 674.8,1376.3 676.8,1376.3 678.8,1376.3 680.8,1376.4 682.8,1376.4 684.8,1376.4 686.8,1376.4 688.8,1376.5 690.8,1376.5 692.8,1376.5 694.8,1376.6 696.8,1376.6 698.8,1376.6 700.8,1376.6 702.8,1376.6 704.8,1376.7 706.8,1376.7 708.8,1376.7 710.8,1376.7 712.8,1376.8 714.8,1376.8 716.8,1376.8 718.8,1376.8 720.8,1376.8 722.8,1376.9 724.8,1376.9 726.8,1376.9 728.8,1376.9 730.8,1376.9 732.8,1376.9 734.8,1377.0 736.8,1377.0 738.8,1377.0 740.8,1377.0 742.8,1377.0 744.8,1377.0 746.8,1377.0 748.8,1377.1 750.8,1377.1 752.8,1377.1 754.8,1377.1 756.8,1377.1 758.8,1377.1 760.8,1377.1 762.8,1377.1 764.8,1377.2 766.8,1377.2 768.8,1377.2 770.8,1377.2 772.8,1377.2 774.8,1377.2 776.8,1377.2 778.8,1377.2 780.8,1377.2 782.8,1377.2 784.8,1377.3 786.8,1377.3 788.8,1377.3 790.8,1377.3 792.8,1377.3 794.8,1377.3 796.8,1377.3 798.8,1377.3 800.8,1377.3 802.8,1377.3 804.8,1377.3 806.8,1377.3 808.8,1377.4 810.8,1377.4 812.8,1377.4 814.8,1377.4 816.8,1377.4 818.8,1377.4 820.8,1377.4 822.8,1377.4 824.8,1377.4 826.8,1377.4 828.8,1377.4 830.8,1377.4 832.8,1377.4 834.8,1377.4 836.8,1377.5 838.8,1377.5 840.8,1377.5 842.8,1377.5 844.8,1377.5 846.8,1377.5 848.8,1377.5 850.8,1377.5 852.8,1377.5 854.8,1377.5 856.8,1377.5 858.8,1377.5 860.8,1377.5 862.8,1377.5 864.8,1377.5 866.8,1377.5 868.8,1377.5 870.8,1377.5 872.8,1377.5 874.8,1377.5 876.8,1377.6 878.8,1377.6 880.8,1377.6 882.8,1377.6 884.8,1377.6 886.8,1377.6 888.8,1377.6 890.8,1377.6 892.8,1377.6 894.8,1377.6 896.8,1377.6 898.8,1377.6 900.8,1377.6 902.8,1377.6 904.8,1377.6 906.8,1377.6 908.8,1377.6 910.8,1377.6 912.8,1377.6 914.8,1377.6 916.8,1377.6 918.8,1377.6 920.8,1377.6 922.8,1377.6 924.8,1377.6 926.8,1377.6 928.8,1377.6 930.8,1377.7 932.8,1377.7 934.8,1377.7 936.8,1377.7 938.8,1377.7 940.8,1377.7 942.8,1377.7 944.8,1377.7 946.8,1377.7 948.8,1377.7 950.8,1377.7 952.8,1377.7 954.8,1377.7 956.8,1377.7 958.8,1377.7 960.8,1377.7 962.8,1377.7 964.8,1377.7 966.8,1377.7 968.8,1377.7 970.8,1377.7 972.8,1377.7 974.8,1377.7 976.8,1377.7 978.8,1377.7 980.8,1377.7 982.8,1377.7 984.8,1377.7 986.8,1377.7 988.8,1377.7 990.8,1377.7 992.8,1377.7 994.8,1377.7 996.8,1377.7 998.8,1377.7 1000.8,1377.7 1002.8,1377.7 1004.8,1377.7 1006.8,1377.7 1008.8,1377.7 1010.8,1377.7 1012.8,1377.7 1014.8,1377.8 1016.8,1377.8 1018.8,1377.8 1020.8,1377.8 1022.8,1377.8 1024.8,1377.8 1026.8,1377.8 1028.8,1377.8 1030.8,1377.8 1032.8,1377.8 1034.8,1377.8 1036.8,1377.8 1038.8,1377.8 1040.8,1377.8 1042.8,1377.8 1044.8,1377.8 1046.8,1377.8 1048.8,1377.8 1050.8,1377.8 1052.8,1377.8 1054.8,1377.8 1056.8,1377.8 1058.8,1377.8 1060.8,1377.8 1062.8,1377.8 1064.8,1377.8 1066.8,1377.8 1068.8,1377.8 1070.8,1377.8 1072.8,1377.8 1074.8,1377.8 1076.8,1377.8 1078.8,1377.8 1080.8,1377.8 1082.8,1377.8 1084.8,1377.8 1086.8,1377.8 1088.8,1377.8 1090.8,1377.8 1092.8,1377.8 1094.8,1377.8 1096.8,1377.8 1098.8,1377.8 1100.8,1377.8 1102.8,1377.8 1104.8,1377.8 1106.8,1377.8 1108.8,1377.8 1110.8,1377.8 1112.8,1377.8 1114.8,1377.8 1116.8,1377.8 1118.8,1377.8 1120.8,1377.8 1122.8,1377.8 1124.8,1377.8 1126.8,1377.8 1128.8,1377.8 1130.8,1377.8 1132.8,1377.8 1134.8,1377.8 1136.8,1377.8 1138.8,1377.8 1140.8,1377.8 1142.8,1377.8 1144.8,1377.8 1146.8,1377.8 1148.8,1377.8 1150.8,1377.8 1152.8,1377.8 1154.8,1377.8 1156.8,1377.8 1158.8,1377.8 1160.8,1377.8 1162.8,1377.8 1164.8,1377.8 1166.8,1377.8 1168.8,1377.8 1170.8,1377.8 1172.8,1377.8 1174.8,1377.9 1176.8,1377.9 1178.8,1377.9 1180.8,1377.9 1182.8,1377.9 1184.8,1377.9 1186.8,1377.9 1188.8,1377.9 1190.8,1377.9 1192.8,1377.9 1194.8,1377.9 1196.8,1377.9 1198.8,1377.9 1200.8,1377.9 1202.8,1377.9 1204.8,1377.9 1206.8,1377.9 1208.8,1377.9 1210.8,1377.9 1212.8,1377.9 1214.8,1377.9 1216.8,1377.9 1218.8,1377.9 1220.8,1377.9 1222.8,1377.9 1224.8,1377.9 1226.8,1377.9 1228.8,1377.9 1230.8,1377.9 1232.8,1377.9 1234.8,1377.9 1236.8,1377.9 1238.8,1377.9 1240.8,1377.9 1242.8,1377.9 1244.8,1377.9 1246.8,1377.9 1248.8,1377.9 1250.8,1377.9 1252.8,1377.9 1254.8,1377.9 1256.8,1377.9 1258.8,1377.9 1260.8,1377.9 1262.8,1377.9 1264.8,1377.9 1266.8,1377.9 1268.8,1377.9 1270.8,1377.9 1272.8,1377.9 1274.8,1377.9 1276.8,1377.9 1278.8,1377.9 1280.8,1377.9 1282.8,1377.9 1284.8,1377.9 1286.8,1377.9 1288.8,1377.9 1290.8,1377.9 1292.8,1377.9 1294.8,1377.9 1296.8,1377.9 1298.8,1377.9 1300.8,1377.9 1302.8,1377.9 1304.8,1377.9 1306.8,1377.9 1308.8,1377.9 1310.8,1377.9 1312.8,1377.9 1314.8,1377.9 1316.8,1377.9 1318.8,1377.9 1320.8,1377.9 1322.8,1377.9 1324.8,1377.9 1326.8,1377.9 1328.8,1377.9 1330.8,1377.9 1332.8,1377.9 1334.8,1377.9 1336.8,1377.9 1338.8,1377.9 1340.8,1377.9 1342.8,1377.9 1344.8,1377.9 1346.8,1377.9 1348.8,1377.9 1350.8,1377.9 1352.8,1377.9 1354.8,1377.9 1356.8,1377.9 1358.8,1377.9 1360.8,1377.9 1362.8,1377.9 1364.8,1377.9 1366.8,1377.9 1368.8,1377.9 1370.8,1377.9 1372.8,1377.9 1374.8,1377.9 1376.8,1377.9 1378.8,1377.9 1380.8,1377.9 1382.8,1377.9 1384.8,1377.9 1386.8,1377.9 1388.8,1377.9 1390.8,1377.9 1392.8,1377.9 1394.8,1377.9 1396.8,1377.9 1398.8,1377.9 1400.8,1377.9 1402.8,1377.9 1404.8,1377.9 1406.8,1377.9 1408.8,1377.9 1410.8,1377.9 1412.8,1377.9 1414.8,1377.9 1416.8,1377.9 1418.8,1377.9 1420.8,1377.9 1422.8,1377.9 1424.8,1377.9 1426.8,1377.9 1428.8,1377.9 1430.8,1377.9 1432.8,1377.9 1434.8,1377.9 1436.8,1377.9 1438.8,1377.9 1440.8,1377.9 1442.8,1377.9 1444.8,1377.9 1446.8,1377.9 1448.8,1377.9 1450.8,1377.9 1452.8,1377.9 1454.8,1377.9 1456.8,1377.9 1458.8,1377.9 1460.8,1377.9 1462.8,1377.9 1464.8,1377.9 1466.8,1377.9 1468.8,1377.9 1470.8,1377.9 1472.8,1377.9 1474.8,1377.9 1476.8,1377.9 1478.8,1377.9 1480.8,1377.9 1482.8,1377.9 1484.8,1377.9 1486.8,1377.9 1488.8,1377.9 1490.8,1377.9 1492.8,1377.9 1494.8,1377.9 1496.8,1377.9 1498.8,1377.9 1500.8,1377.9 1502.8,1377.9 1504.8,1377.9 1506.8,1377.9 1508.8,1377.9 1510.8,1377.9 1512.8,1377.9 1514.8,1377.9 1516.8,1377.9 1518.8,1377.9 1520.8,1377.9 1522.8,1377.9 1524.8,1377.9 1526.8,1377.9 1528.8,1377.9 1530.8,1377.9 1532.8,1377.9 1534.8,1377.9 1536.8,1377.9 1538.8,1377.9 1540.8,1377.9 1542.8,1377.9 1544.8,1377.9 1546.8,1377.9 1548.8,1377.9 1550.8,1377.9 1552.8,1377.9 1554.8,1377.9 1556.8,1377.9 1558.8,1377.9 1560.8,1377.9 1562.8,1377.9 1564.8,1377.9 1566.8,1377.9 1568.8,1377.9 1570.8,1377.9 1572.8,1377.9 1574.8,1377.9 1576.8,1377.9 1578.8,1377.9 1580.8,1377.9 1582.8,1377.9 1584.8,1377.9 1586.8,1377.9 1588.8,1377.9 1590.8,1377.9 1592.8,1377.9 1594.8,1377.9 1596.8,1377.9 1598.8,1377.9 1600.8,1377.9 1602.8,1377.9 1604.8,1377.9 1606.8,1377.9 1608.8,1377.9 1610.8,1377.9 1612.8,1377.9 1614.8,1377.9 1616.8,1377.9 1618.8,1377.9 1620.8,1377.9 1622.8,1377.9 1624.8,1377.9 1626.8,1377.9 1628.8,1377.9 1630.8,1377.9 1632.8,1377.9 1634.8,1377.9 1636.8,1377.9 1638.8,1377.9 1640.8,1377.9 1642.8,1377.9 1644.8,1377.9 1646.8,1377.9 1648.8,1377.9 1650.8,1377.9 1652.8,1377.9 1654.8,1377.9 1656.8,1377.9 1658.8,1377.9 1660.8,1377.9 1662.8,1377.9 1664.8,1377.9 1666.8,1377.9 1668.8,1377.9 1670.8,1377.9 1672.8,1377.9 1674.8,1377.9 1676.8,1377.9 1678.8,1377.9 1680.8,1377.9 1682.8,1377.9 1684.8,1377.9 1686.8,1377.9 1688.8,1377.9 1690.8,1378.0 1692.8,1378.0 1694.8,1378.0 1696.8,1378.0 1698.8,1378.0 1700.8,1378.0 1702.8,1378.0 1704.8,1378.0 1706.8,1378.0 1708.8,1378.0 1710.8,1378.0 1712.8,1378.0 1714.8,1378.0 1716.8,1378.0 1718.8,1378.0 1720.8,1378.0 1722.8,1378.0 1724.8,1378.0 1726.8,1378.0 1728.8,1378.0 1730.8,1378.0 1732.8,1378.0 1734.8,1378.0 1736.8,1378.0 1738.8,1378.0 1740.8,1378.0 1742.8,1378.0 1744.8,1378.0 1746.8,1378.0 1748.8,1378.0 1750.8,1378.0 1752.8,1378.0 1754.8,1378.0 1756.8,1378.0 1758.8,1378.0 1760.8,1378.0 1762.8,1378.0 1764.8,1378.0 1766.8,1378.0 1768.8,1378.0 1770.8,1378.0 1772.8,1378.0 1774.8,1378.0 1776.8,1378.0 1778.8,1378.0 1780.8,1378.0 1782.8,1378.0 1784.8,1378.0 1786.8,1378.0 1788.8,1378.0 1790.8,1378.0 1792.8,1378.0 1794.8,1378.0 1796.8,1378.0 1798.8,1378.0 1800.8,1378.0 1802.8,1378.0 1804.8,1378.0 1806.8,1378.0 1808.8,1378.0 1810.8,1378.0 1812.8,1378.0 1814.8,1378.0 1816.8,1378.0 1818.8,1378.0 1820.8,1378.0 1822.8,1378.0 1824.8,1378.0 1826.8,1378.0 1828.8,1378.0 1830.8,1378.0 1832.8,1378.0 1834.8,1378.0 1836.8,1378.0 1838.8,1378.0 1840.8,1378.0 1842.8,1378.0 1844.8,1378.0 1846.8,1378.0 1848.8,1378.0 1850.8,1378.0 1852.8,1378.0 1854.8,1378.0 1856.8,1378.0 1858.8,1378.0 1860.8,1378.0 1862.8,1378.0 1864.8,1378.0 1866.8,1378.0 1868.8,1378.0 1870.8,1378.0 1872.8,1378.0 1874.8,1378.0 1876.8,1378.0 1878.8,1378.0 1880.8,1378.0 1882.8,1378.0 1884.8,1378.0 1886.8,1378.0 1888.8,1378.0 1890.8,1378.0 1892.8,1378.0 1894.8,1378.0 1896.8,1378.0 1898.8,1378.0 1900.8,1378.0 1902.8,1378.0 1904.8,1378.0 1906.8,1378.0 1908.8,1378.0 1910.8,1378.0 1912.8,1378.0 1914.8,1378.0 1916.8,1378.0 1918.8,1378.0 1920.8,1378.0 1922.8,1378.0 1924.8,1378.0 1926.8,1378.0 1928.8,1378.0 1930.8,1378.0 1932.8,1378.0 1934.8,1378.0 1936.8,1378.0 1938.8,1378.0 1940.8,1378.0 1942.8,1378.0 1944.8,1378.0 1946.8,1378.0 1948.8,1378.0 1950.8,1378.0 1952.8,1378.0 1954.8,1378.0 1956.8,1378.0 1958.8,1378.0 1960.8,1378.0 1962.8,1378.0 1964.8,1378.0 1966.8,1378.0 1968.8,1378.0 1970.8,1378.0 1972.8,1378.0 1974.8,1378.0 1976.8,1378.0 1978.8,1378.0 1980.8,1378.0 1982.8,1378.0 1984.8,1378.0 1986.8,1378.0 1988.8,1378.0 1990.8,1378.0 1992.8,1378.0 1994.8,1378.0 1996.8,1378.0 1998.8,1378.0 2000.8,1378.0 2002.8,1378.0 2004.8,1378.0 2006.8,1378.0 2008.8,1378.0 2010.8,1378.0 2012.8,1378.0 2014.8,1378.0 2016.8,1378.0 2018.8,1378.0 2020.8,1378.0 2022.8,1378.0 2024.8,1378.0 2026.8,1378.0 2028.8,1378.0 2030.8,1378.0 2032.8,1378.0 2034.8,1378.0 2036.8,1378.0 2038.8,1378.0 2040.8,1378.0 2042.8,1378.0 2044.8,1378.0 2046.8,1378.0 2048.8,1378.0 2050.8,1378.0 2052.8,1378.0 2054.8,1378.0 2056.8,1378.0 2058.8,1378.0 2060.8,1378.0 2062.8,1378.0 2064.8,1378.0 2066.8,1378.0 2068.8,1378.0 2070.8,1378.0 2072.8,1378.0 2074.8,1378.0 2076.8,1378.0 2078.8,1378.0 2080.8,1378.0 2082.8,1378.0 2084.8,1378.0 2086.8,1378.0 2088.8,1378.0 2090.8,1378.0 2092.8,1378.0 2094.8,1378.0 2096.8,1378.0 2098.8,1378.0 2100.8,1378.0 2102.8,1378.0 2104.8,1378.0 2106.8,1378.0 2108.8,1378.0 2110.8,1378.0 2112.8,1378.0 2114.8,1378.0 2116.8,1378.0 2118.8,1378.0 2120.8,1378.0 2122.8,1378.0 2124.8,1378.0 2126.8,1378.0 2128.8,1378.0 2130.8,1378.0 2132.8,1378.0 2134.8,1378.0 2136.8,1378.0 2138.8,1378.0 2140.8,1378.0 2142.8,1378.0 2144.8,1378.0 2146.8,1378.0 2148.8,1378.0 2150.8,1378.0 2152.8,1378.0"/>
<polyline stroke="#ff0000" points="114.8,1378.0 116.8,1378.0 118.8,1378.0 120.8,1378.0 122.8,1378.0 124.8,1378.0 126.8,1378.0 128.8,1378.0 130.8,1378.0 132.8,1378.0 134.8,1378.0 136.8,1378.0 138.8,1378.0 140.8,1378.0 142.8,1378.0 144.8,1378.0 146.8,1378.0 148.8,1378.0 150.8,1378.0 152.8,1378.0 154.8,1378.0 156.8,1378.0 158.8,1378.0 160.8,1378.0 162.8,1378.0 164.8,1378.0 166.8,1378.0 168.8,1378.0 170.8,1378.0 172.8,1378.0 174.8,1378.0 176.8,1378.0 178.8,1378.0 180.8,1378.0 182.8,1378.0 184.8,1378.0 186.8,1378.0 188.8,1378.0 190.8,1378.0 192.8,1378.0 194.8,1378.0 196.8,1378.0 198.8,1378.0 200.8,1378.0 202.8,1377.9 204.8,1377.9 206.8,1377.9 208.8,1377.9 210.8,1377.9 212.8,1377.9 214.8,1377.9 216.8,1377.9 218.8,1377.9 220.8,1377.9 222.8,1377.9 224.8,1377.9 226.8,1377.9 228.8,1377.9 230.8,1377.9 232.8,1377.9 234.8,1377.9 236.8,1377.9 238.8,1377.9 240.8,1377.9 242.8,1377.9 244.8,1377.9 246.8,1377.9 248.8,1377.9 250.8,1377.9 252.8,1377.9 254.8,1377.9 256.8,1377.9 258.8,1377.9 260.8,1377.9 262.8,1377.9 264.8,1377.9 266.8,1377.9 268.8,1377.9 270.8,1377.9 272.8,1377.9 274.8,1377.9 276.8,1377.9 278.8,1377.9 280.8,1377.9 282.8,1377.9 284.8,1377.9 286.8,1377.9 288.8,1377.9 290.8,1377.9 292.8,1377.9 294.8,1377.9 296.8,1377.9 298.8,1377.9 300.8,1377.9 302.8,1377.9 304.8,1377.9 306.8,1377.9 308.8,1377.9 310.8,1377.9 312.8,1377.9 314.8,1377.9 316.8,1377.9 318.8,1377.9 320.8,1377.9 322.8,1377.9 324.8,1377.9 326.8,1377.9 328.8,1377.9 330.8,1377.9 332.8,1377.9 334.8,1377.9 336.8,1377.9 338.8,1377.9 340.8,1377.9 342.8,1377.9 344.8,1377.9 346.8,1377.9 348.8,1377.9 350.8,1377.9 352.8,1377.9 354.8,1377.9 356.8,1377.9 358.8,1377.9 360.8,1377.9 362.8,1377.9 364.8,1377.9 366.8,1377.9 368.8,1377.9 370.8,1377.9 372.8,1377.9 374.8,1377.9 376.8,1377.8 378.8,1377.8 380.8,1377.8 382.8,1377.8 384.8,1377.8 386.8,1377.8 388.8,1377.8 390.8,1377.8 392.8,1377.8 394.8,1377.8 396.8,1377.8 398.8,1377.8 400.8,1377.8 402.8,1377.8 404.8,1377.8 406.8,1377.8 408.8,1377.8 410.8,1377.8 412.8,1377.8 414.8,1377.8 416.8,1377.8 418.8,1377.8 420.8,1377.8 422.8,1377.8 424.8,1377.8 426.8,1377.8 428.8,1377.8 430.8,1377.7 432.8,1377.7 434.8,1377.7 436.8,1377.7 438.8,1377.7 440.8,1377.7 442.8,1377.7 444.8,1377.7 446.8,1377.7 448.8,1377.7 450.8,1377.7 452.8,1377.7 454.8,1377.7 456.8,1377.7 458.8,1377.7 460.8,1377.6 462.8,1377.6 464.8,1377.6 466.8,1377.6 468.8,1377.6 470.8,1377.6 472.8,1377.6 474.8,1377.6 476.8,1377.6 478.8,1377.5 480.8,1377.5 482.8,1377.5 484.8,1377.5 486.8,1377.5 488.8,1377.5 490.8,1377.5 492.8,1377.4 494.8,1377.4 496.8,1377.4 498.8,1377.4 500.8,1377.3 502.8,1377.3 504.8,1377.3 506.8,1377.2 508.8,1377.2 510.8,1377.1 512.8,1377.1 514.8,1377.0 516.8,1376.9 518.8,1376.8 520.8,1376.6 522.8,1376.4 524.8,1376.2 526.8,1375.9 528.8,1375.5 530.8,1375.1 532.8,1374.6 534.8,1374.0 536.8,1373.2 538.8,1372.3 540.8,1371.3 542.8,1370.1 544.8,1368.7 546.8,1367.0 548.8,1365.2 550.8,1363.1 552.8,1360.8 554.8,1358.2 556.8,1355.3 558.8,1352.2 560.8,1348.8 562.8,1345.2 564.8,1341.3 566.8,1337.2 568.8,1332.9 570.8,1328.5 572.8,1324.0 574.8,1319.4 576.8,1314.7 578.8,1310.1 580.8,1305.6 582.8,1301.2 584.8,1296.9 586.8,1292.9 588.8,1289.2 590.8,1285.7 592.8,1282.6 594.8,1279.9 596.8,1277.6 598.8,1275.6 600.8,1274.1 602.8,1272.9 604.8,1272.1 606.8,1271.7 608.8,1271.6 610.8,1271.7 612.8,1272.0 614.8,1272.7 616.8,1273.8 618.8,1275.3 620.8,1277.1 622.8,1279.4 624.8,1282.1 626.8,1285.1 628.8,1288.5 630.8,1292.2 632.8,1296.1 634.8,1300.3 636.8,1304.7 638.8,1309.2 640.8,1313.8 642.8,1318.4 644.8,1323.1 646.8,1327.6 648.8,1332.1 650.8,1336.4 652.8,1340.5 654.8,1344.4 656.8,1348.1 658.8,1351.5 660.8,1354.7 662.8,1357.6 664.8,1360.3 666.8,1362.7 668.8,1364.8 670.8,1366.7 672.8,1368.4 674.8,1369.8 676.8,1371.1 678.8,1372.1 680.8,1373.0 682.8,1373.8 684.8,1374.5 686.8,1375.0 688.8,1375.4 690.8,1375.8 692.8,1376.1 694.8,1376.4 696.8,1376.6 698.8,1376.7 700.8,1376.9 702.8,1377.0 704.8,1377.0 706.8,1377.1 708.8,1377.2 710.8,1377.2 712.8,1377.3 714.8,1377.3 716.8,1377.3 718.8,1377.4 720.8,1377.4 722.8,1377.4 724.8,1377.4 726.8,1377.5 728.8,1377.5 730.8,1377.5 732.8,1377.5 734.8,1377.5 736.8,1377.5 738.8,1377.5 740.8,1377.6 742.8,1377.6 744.8,1377.6 746.8,1377.6 748.8,1377.6 750.8,1377.6 752.8,1377.6 754.8,1377.6 756.8,1377.6 758.8,1377.7 760.8,1377.7 762.8,1377.7 764.8,1377.7 766.8,1377.7 768.8,1377.7 770.8,1377.7 772.8,1377.7 774.8,1377.7 776.8,1377.7 778.8,1377.7 780.8,1377.7 782.8,1377.7 784.8,1377.7 786.8,1377.7 788.8,1377.8 790.8,1377.8 792.8,1377.8 794.8,1377.8 796.8,1377.8 798.8,1377.8 800.8,1377.8 802.8,1377.8 804.8,1377.8 806.8,1377.8 808.8,1377.8 810.8,1377.8 812.8,1377.8 814.8,1377.8 816.8,1377.8 818.8,1377.8 820.8,1377.8 822.8,1377.8 824.8,1377.8 826.8,1377.8 828.8,1377.8 830.8,1377.8 832.8,1377.8 834.8,1377.8 836.8,1377.8 838.8,1377.8 840.8,1377.8 842.8,1377.9 844.8,1377.9 846.8,1377.9 848.8,1377.9 850.8,1377.9 852.8,1377.9 854.8,1377.9 856.8,1377.9 858.8,1377.9 860.8,1377.9 862.8,1377.9 864.8,1377.9 866.8,1377.9 868.8,1377.9 870.8,1377.9 872.8,1377.9 874.8,1377.9 876.8,1377.9 878.8,1377.9 880.8,1377.9 882.8,1377.9 884.8,1377.9 886.8,1377.9 888.8,1377.9 890.8,1377.9 892.8,1377.9 894.8,1377.9 896.8,1377.9 898.8,1377.9 900.8,1377.9 902.8,1377.9 904.8,1377.9 906.8,1377.9 908.8,1377.9 910.8,1377.9 912.8,1377.9 914.8,1377.9 916.8,1377.9 918.8,1377.9 920.8,1377.9 922.8,1377.9 924.8,1377.9 926.8,1377.9 928.8,1377.9 930.8,1377.9 932.8,1377.9 934.8,1377.9 936.8,1377.9 938.8,1377.9 940.8,1377.9 942.8,1377.9 944.8,1377.9 946.8,1377.9 948.8,1377.9 950.8,1377.9 952.8,1377.9 954.8,1377.9 956.8,1377.9 958.8,1377.9 960.8,1377.9 962.8,1377.9 964.8,1377.9 966.8,1377.9 968.8,1377.9 970.8,1377.9 972.8,1377.9 974.8,1377.9 976.8,1377.9 978.8,1377.9 980.8,1377.9 982.8,1377.9 984.8,1377.9 986.8,1377.9 988.8,1377.9 990.8,1377.9 992.8,1377.9 994.8,1377.9 996.8,1377.9 998.8,1377.9 1000.8,1377.9 1002.8,1377.9 1004.8,1377.9 1006.8,1377.9 1008.8,1377.9 1010.8,1377.9 1012.8,1377.9 1014.8,1377.9 1016.8,1378.0 1018.8,1378.0 1020.8,1378.0 1022.8,1378.0 1024.8,1378.0 1026.8,1378.0 1028.8,1378.0 1030.8,1378.0 1032.8,1378.0 1034.8,1378.0 1036.8,1378.0 1038.8,1378.0 1040.8,1378.0 1042.8,1378.0 1044.8,1378.0 1046.8,1378.0 1048.8,1378.0 1050.8,1378.0 1052.8,1378.0 1054.8,1378.0 1056.8,1378.0 1058.8,1378.0 1060.8,1378.0 1062.8,1378.0 1064.8,1378.0 1066.8,1378.0 1068.8,1378.0 1070.8,1378.0 1072.8,1378.0 1074.8,1378.0 1076.8,1378.0 1078.8,1378.0 1080.8,1378.0 1082.8,1378.0 1084.8,1378.0 1086.8,1378.0 1088.8,1378.0 1090.8,1378.0 1092.8,1378.0 1094.8,1378.0 1096.8,1378.0 1098.8,1378.0 1100.8,1378.0 1102.8,1378.0 1104.8,1378.0 1106.8,1378.0 1108.8,1378.0 1110.8,1378.0 1112.8,1378.0 1114.8,1378.0 1116.8,1378.0 1118.8,1378.0 1120.8,1378.0 1122.8,1378.0 1124.8,1378.0 1126.8,1378.0 1128.8,1378.0 1130.8,1378.0 1132.8,1378.0 1134.8,1378.0 1136.8,1378.0 1138.8,1378.0 1140.8,1378.0 1142.8,1378.0 1144.8,1378.0 1146.8,1378.0 1148.8,1378.0 1150.8,1378.0 1152.8,1378.0 1154.8,1378.0 1156.8,1378.0 1158.8,1378.0 1160.8,1378.0 1162.8,1378.0 1164.8,1378.0 1166.8,1378.0 1168.8,1378.0 1170.8,1378.0 1172.8,1378.0 1174.8,1378.0 1176.8,1378.0 1178.8,1378.0 1180.8,1378.0 1182.8,1378.0 1184.8,1378.0 1186.8,1378.0 1188.8,1378.0 1190.8,1378.0 1192.8,1378.0 1194.8,1378.0 1196.8,1378.0 1198.8,1378.0 1200.8,1378.0 1202.8,1378.0 1204.8,1378.0 1206.8,1378.0 1208.8,1378.0 1210.8,1378.0 1212.8,1378.0 1214.8,1378.0 1216.8,1378.0 1218.8,1378.0 1220.8,1378.0 1222.8,1378.0 1224.8,1378.0 1226.8,1378.0 1228.8,1378.0 1230.8,1378.0 1232.8,1378.0 1234.8,1378.0 1236.8,1378.0 1238.8,1378.0 1240.8,1378.0 1242.8,1378.0 1244.8,1378.0 1246.8,1378.0 1248.8,1378.0 1250.8,1378.0 1252.8,1378.0 1254.8,1378.0 1256.8,1378.0 1258.8,1378.0 1260.8,1378.0 1262.8,1378.0 1264.8,1378.0 1266.8,1378.0 1268.8,1378.0 1270.8,1378.0 1272.8,1378.0 1274.8,1378.0 1276.8,1378.0 1278.8,1378.0 1280.8,1378.0 1282.8,1378.0 1284.8,1378.0 1286.8,1378.0 1288.8,1378.0 1290.8,1378.0 1292.8,1378.0 1294.8,1378.0 1296.8,1378.0 1298.8,1378.0 1300.8,1378.0 1302.8,1378.0 1304.8,1378.0 1306.8,1378.0 1308.8,1378.0 1310.8,1378.0 1312.8,1378.0 1314.8,1378.0 1316.8,1378.0 1318.8,1378.0 1320.8,1378.0 1322.8,1378.0 1324.8,1378.0 1326.8,1378.0 1328.8,1378.0 1330.8,1378.0 1332.8,1378.0 1334.8,1378.0 1336.8,1378.0 1338.8,1378.0 1340.8,1378.0 1342.8,1378.0 1344.8,1378.0 1346.8,1378.0 1348.8,1378.0 1350.8,1378.0 1352.8,1378.0 1354.8,1378.0 1356.8,1378.0 1358.8,1378.0 1360.8,1378.0 1362.8,1378.0 1364.8,1378.0 1366.8,1378.0 1368.8,1378.0 1370.8,1378.0 1372.8,1378.0 1374.8,1378.0 1376.8,1378.0 1378.8,1378.0 1380.8,1378.0 1382.8,1378.0 1384.8,1378.0 1386.8,1378.0 1388.8,1378.0 1390.8,1378.0 1392.8,1378.0 1394.8,1378.0 1396.8,1378.0 1398.8,1378.0 1400.8,1378.0 1402.8,1378.0 1404.8,1378.0 1406.8,1378.0 1408.8,1378.0 1410.8,1378.0 1412.8,1378.0 1414.8,1378.0 1416.8,1378.0 1418.8,1378.0 1420.8,1378.0 1422.8,1378.0 1424.8,1378.0 1426.8,1378.0 1428.8,1378.0 1430.8,1378.0 1432.8,1378.0 1434.8,1378.0 1436.8,1378.0 1438.8,1378.0 1440.8,1378.0 1442.8,1378.0 1444.8,1378.0 1446.8,1378.0 1448.8,1378.0 1450.8,1378.0 1452.8,1378.0 1454.8,1378.0 1456.8,1378.0 1458.8,1378.0 1460.8,1378.0 1462.8,1378.0 1464.8,1378.0 1466.8,1378.0 1468.8,1378.0 1470.8,1378.0 1472.8,1378.0 1474.8,1378.0 1476.8,1378.0 1478.8,1378.0 1480.8,1378.0 1482.8,1378.0 1484.8,1378.0 1486.8,1378.0 1488.8,1378.0 1490.8,1378.0 1492.8,1378.0 1494.8,1378.0 1496.8,1378.0 1498.8,1378.0 1500.8,1378.0 1502.8,1378.0 1504.8,1378.0 1506.8,1378.0 1508.8,1378.0 1510.8,1378.0 1512.8,1378.0 1514.8,1378.0 1516.8,1378.0 1518.8,1378.0 1520.8,1378.0 1522.8,1378.0 1524.8,1378.0 1526.8,1378.0 1528.8,1378.0 1530.8,1378.0 1532.8,1378.0 1534.8,1378.0 1536.8,1378.0 1538.8,1378.0 1540.8,1378.0 1542.8,1378.0 1544.8,1378.0 1546.8,1378.0 1548.8,1378.0 1550.8,1378.0 1552.8,1378.0 1554.8,1378.0 1556.8,1378.0 1558.8,1378.0 1560.8,1378.0 1562.8,1378.0 1564.8,1378.0 1566.8,1378.0 1568.8,1378.0 1570.8,1378.0 1572.8,1378.0 1574.8,1378.0 1576.8,1378.0 1578.8,1378.0 1580.8,1378.0 1582.8,1378.0 1584.8,1378.0 1586.8,1378.0 1588.8,1378.0 1590.8,1378.0 1592.8,1378.0 1594.8,1378.0 1596.8,1378.0 1598.8,1378.0 1600.8,1378.0 1602.8,1378.0 1604.8,1378.0 1606.8,1378.0 1608.8,1378.0 1610.8,1378.0 1612.8,1378.0 1614.8,1378.0 1616.8,1378.0 1618.8,1378.0 1620.8,1378.0 1622.8,1378.0 1624.8,1378.0 1626.8,1378.0 1628.8,1378.0 1630.8,1378.0 1632.8,1378.0 1634.8,1378.0 1636.8,1378.0 1638.8,1378.0 1640.8,1378.0 1642.8,1378.0 1644.8,1378.0 1646.8,1378.0 1648.8,1378.0 1650.8,1378.0 1652.8,1378.0 1654.8,1378.0 1656.8,1378.0 1658.8,1378.0 1660.8,1378.0 1662.8,1378.0 1664.8,1378.0 1666.8,1378.0 1668.8,1378.0 1670.8,1378.0 1672.8,1378.0 1674.8,1378.0 1676.8,1378.0 1678.8,1378.0 1680.8,1378.0 1682.8,1378.0 1684.8,1378.0 1686.8,1378.0 1688.8,1378.0 1690.8,1378.0 1692.8,1378.0 1694.8,1378.0 1696.8,1378.0 1698.8,1378.0 1700.8,1378.0 1702.8,1378.0 1704.8,1378.0 1706.8,1378.0 1708.8,1378.0 1710.8,1378.0 1712.8,1378.0 1714.8,1378.0 1716.8,1378.0 1718.8,1378.0 1720.8,1378.0 1722.8,1378.0 1724.8,1378.0 1726.8,1378.0 1728.8,1378.0 1730.8,1378.0 1732.8,1378.0 1734.8,1378.0 1736.8,1378.0 1738.8,1378.0 1740.8,1378.0 1742.8,1378.0 1744.8,1378.0 1746.8,1378.0 1748.8,1378.0 1750.8,1378.0 1752.8,1378.0 1754.8,1378.0 1756.8,1378.0 1758.8,1378.0 1760.8,1378.0 1762.8,1378.0 1764.8,1378.0 1766.8,1378.0 1768.8,1378.0 1770.8,1378.0 1772.8,1378.0 1774.8,1378.0 1776.8,1378.0 1778.8,1378.0 1780.8,1378.0 1782.8,1378.0 1784.8,1378.0 1786.8,1378.0 1788.8,1378.0 1790.8,1378.0 1792.8,1378.0 1794.8,1378.0 1796.8,1378.0 1798.8,1378.0 1800.8,1378.0 1802.8,1378.0 1804.8,1378.0 1806.8,1378.0 1808.8,1378.0 1810.8,1378.0 1812.8,1378.0 1814.8,1378.0 1816.8,1378.0 1818.8,1378.0 1820.8,1378.0 1822.8,1378.0 1824.8,1378.0 1826.8,1378.0 1828.8,1378.0 1830.8,1378.0 1832.8,1378.0 1834.8,1378.0 1836.8,1378.0 1838.8,1378.0 1840.8,1378.0 1842.8,1378.0 1844.8,1378.0 1846.8,1378.0 1848.8,1378.0 1850.8,1378.0 1852.8,1378.0 1854.8,1378.0 1856.8,1378.0 1858.8,1378.0 1860.8,1378.0 1862.8,1378.0 1864.8,1378.0 1866.8,1378.0 1868.8,1378.0 1870.8,1378.0 1872.8,1378.0 1874.8,1378.0 1876.8,1378.0 1878.8,1378.0 1880.8,1378.0 1882.8,1378.0 1884.8,1378.0 1886.8,1378.0 1888.8,1378.0 1890.8,1378.0 1892.8,1378.0 1894.8,1378.0 1896.8,1378.0 1898.8,1378.0 1900.8,1378.0 1902.8,1378.0 1904.8,1378.0 1906.8,1378.0 1908.8,1378.0 1910.8,1378.0 1912.8,1378.0 1914.8,1378.0 1916.8,1378.0 1918.8,1378.0 1920.8,1378.0 1922.8,1378.0 1924.8,1378.0 1926.8,1378.0 1928.8,1378.0 1930.8,1378.0 1932.8,1378.0 1934.8,1378.0 1936.8,1378.0 1938.8,1378.0 1940.8,1378.0 1942.8,1378.0 1944.8,1378.0 1946.8,1378.0 1948.8,1378.0 1950.8,1378.0 1952.8,1378.0 1954.8,1378.0 1956.8,1378.0 1958.8,1378.0 1960.8,1378.0 1962.8,1378.0 1964.8,1378.0 1966.8,1378.0 1968.8,1378.0 1970.8,1378.0 1972.8,1378.0 1974.8,1378.0 1976.8,1378.0 1978.8,1378.0 1980.8,1378.0 1982.8,1378.0 1984.8,1378.0 1986.8,1378.0 1988.8,1378.0 1990.8,1378.0 1992.8,1378.0 1994.8,1378.0 1996.8,1378.0 1998.8,1378.0 2000.8,1378.0 2002.8,1378.0 2004.8,1378.0 2006.8,1378.0 2008.8,1378.0 2010.8,1378.0 2012.8,1378.0 2014.8,1378.0 2016.8,1378.0 2018.8,1378.0 2020.8,1378.0 2022.8,1378.0 2024.8,1378.0 2026.8,1378.0 2028.8,1378.0 2030.8,1378.0 2032.8,1378.0 2034.8,1378.0 2036.8,1378.0 2038.8,1378.0 2040.8,1378.0 2042.8,1378.0 2044.8,1378.0 2046.8,1378.0 2048.8,1378.0 2050.8,1378.0 2052.8,1378.0 2054.8,1378.0 2056.8,1378.0 2058.8,1378.0 2060.8,1378.0 2062.8,1378.0 2064.8,1378.0 2066.8,1378.0 2068.8,1378.0 2070.8,1378.0 2072.8,1378.0 2074.8,1378.0 2076.8,1378.0 2078.8,1378.0 2080.8,1378.0 2082.8,1378.0 2084.8,1378.0 2086.8,1378.0 2088.8,1378.0 2090.8,1378.0 2092.8,1378.0 2094.8,1378.0 2096.8,1378.0 2098.8,1378.0 2100.8,1378.0 2102.8,1378.0 2104.8,1378.0 2106.8,1378.0 2108.8,1378.0 2110.8,1378.0 2112.8,1378.0 2114.8,1378.0 2116.8,1378.0 2118.8,1378.0 2120.8,1378.0 2122.8,1378.0 2124.8,1378.0 2126.8,1378.0 2128.8,1378.0 2130.8,1378.0 2132.8,1378.0 2134.8,1378.0 2136.8,1378.0 2138.8,1378.0 2140.8,1378.0 2142.8,1378.0 2144.8,1378.0 2146.8,1378.0 2148.8,1378.0 2150.8,1378.0 2152.8,1378.0"/>
<polyline stroke="#000000" points="114.8,1378.0 116.8,1378.0 118.8,1378.0 120.8,1378.0 122.8,1378.0 124.8,1378.0 126.8,1378.0 128.8,1378.0 130.8,1378.0 132.8,1378.0 134.8,1378.0 136.8,1378.0 138.8,1378.0 140.8,1378.0 142.8,1378.0 144.8,1378.0 146.8,1378.0 148.8,1378.0 150.8,1378.0 152.8,1378.0 154.8,1378.0 156.8,1378.0 158.8,1378.0 160.8,1378.0 162.8,1378.0 164.8,1378.0 166.8,1378.0 168.8,1378.0 170.8,1378.0 172.8,1378.0 174.8,1378.0 176.8,1378.0 178.8,1378.0 180.8,1378.0 182.8,1378.0 184.8,1378.0 186.8,1378.0 188.8,1378.0 190.8,1378.0 192.8,1378.0 194.8,1378.0 196.8,1378.0 198.8,1378.0 200.8,1378.0 202.8,1378.0 204.8,1378.0 206.8,1378.0 208.8,1378.0 210.8,1378.0 212.8,1378.0 214.8,1378.0 216.8,1378.0 218.8,1378.0 220.8,1378.0 222.8,1378.0 224.8,1378.0 226.8,1378.0 228.8,1378.0 230.8,1378.0 232.8,1378.0 234.8,1378.0 236.8,1378.0 238.8,1378.0 240.8,1378.0 242.8,1378.0 244.8,1378.0 246.8,1378.0 248.8,1378.0 250.8,1378.0 252.8,1378.0 254.8,1378.0 256.8,1378.0 258.8,1378.0 260.8,1378.0 262.8,1378.0 264.8,1378.0 266.8,1378.0 268.8,1378.0 270.8,1378.0 272.8,1378.0 274.8,1378.0 276.8,1378.0 278.8,1378.0 280.8,1378.0 282.8,1378.0 284.8,1378.0 286.8,1378.0 288.8,1378.0 290.8,1378.0 292.8,1378.0 294.8,1378.0 296.8,1378.0 298.8,1378.0 300.8,1378.0 302.8,1378.0 304.8,1378.0 306.8,1378.0 308.8,1378.0 310.8,1378.0 312.8,1378.0 314.8,1378.0 316.8,1378.0 318.8,1378.0 320.8,1378.0 322.8,1378.0 324.8,1378.0 326.8,1378.0 328.8,1378.0 330.8,1378.0 332.8,1378.0 334.8,1378.0 336.8,1378.0 338.8,1378.0 340.8,1378.0 342.8,1378.0 344.8,1378.0 346.8,1378.0 348.8,1378.0 350.8,1378.0 352.8,1378.0 354.8,1378.0 356.8,1378.0 358.8,1378.0 360.8,1378.0 362.8,1378.0 364.8,1378.0 366.8,1378.0 368.8,1378.0 370.8,1378.0 372.8,1378.0 374.8,1378.0 376.8,1378.0 378.8,1378.0 380.8,1378.0 382.8,1378.0 384.8,1378.0 386.8,1378.0 388.8,1378.0 390.8,1378.0 392.8,1378.0 394.8,1378.0 396.8,1378.0 398.8,1378.0 400.8,1378.0 402.8,1378.0 404.8,1378.0 406.8,1378.0 408.8,1378.0 410.8,1378.0 412.8,1378.0 414.8,1378.0 416.8,1378.0 418.8,1378.0 420.8,1378.0 422.8,1378.0 424.8,1378.0 426.8,1378.0 428.8,1378.0 430.8,1378.0 432.8,1378.0 434.8,1378.0 436.8,1378.0 438.8,1378.0 440.8,1378.0 442.8,1378.0 444.8,1378.0 446.8,1378.0 448.8,1378.0 450.8,1378.0 452.8,1378.0 454.8,1378.0 456.8,1378.0 458.8,1378.0 460.8,1378.0 462.8,1378.0 464.8,1378.0 466.8,1378.0 468.8,1378.0 470.8,1378.0 472.8,1378.0 474.8,1378.0 476.8,1378.0 478.8,1378.0 480.8,1378.0 482.8,1378.0 484.8,1378.0 486.8,1378.0 488.8,1378.0 490.8,1378.0 492.8,1378.0 494.8,1378.0 496.8,1378.0 498.8,1378.0 500.8,1378.0 502.8,1378.0 504.8,1378.0 506.8,1378.0 508.8,1378.0 510.8,1378.0 512.8,1378.0 514.8,1378.0 516.8,1378.0 518.8,1378.0 520.8,1378.0 522.8,1378.0 524.8,1378.0 526.8,1378.0 528.8,1378.0 530.8,1378.0 532.8,1377.9 534.8,1377.9 536.8,1377.9 538.8,1377.9 540.8,1377.9 542.8,1377.9 544.8,1377.9 546.8,1377.9 548.8,1377.9 550.8,1377.9 552.8,1377.9 554.8,1377.9 556.8,1377.9 558.8,1377.9 560.8,1377.9 562.8,1377.9 564.8,1377.9 566.8,1377.9 568.8,1377.8 570.8,1377.8 572.8,1377.7 574.8,1377.7 576.8,1377.6 578.8,1377.4 580.8,1377.2 582.8,1377.0 584.8,1376.7 586.8,1376.2 588.8,1375.7 590.8,1375.0 592.8,1374.2 594.8,1373.1 596.8,1371.8 598.8,1370.2 600.8,1368.3 602.8,1366.1 604.8,1363.5 606.8,1360.5 608.8,1357.1 610.8,1353.3 612.8,1349.1 614.8,1344.5 616.8,1339.6 618.8,1334.5 620.8,1329.1 622.8,1323.5 624.8,1317.9 626.8,1312.4 628.8,1307.0 630.8,1301.9 632.8,1297.2 634.8,1292.9 636.8,1289.2 638.8,1286.0 640.8,1283.6 642.8,1281.8 644.8,1280.7 646.8,1280.2 648.8,1280.3 650.8,1280.9 652.8,1282.2 654.8,1284.2 656.8,1286.9 658.8,1290.2 660.8,1294.1 662.8,1298.6 664.8,1303.4 666.8,1308.6 668.8,1314.1 670.8,1319.6 672.8,1325.2 674.8,1330.7 676.8,1336.0 678.8,1341.1 680.8,1346.0 682.8,1350.4 684.8,1354.5 686.8,1358.2 688.8,1361.4 690.8,1364.3 692.8,1366.8 694.8,1368.9 696.8,1370.7 698.8,1372.2 700.8,1373.4 702.8,1374.4 704.8,1375.2 706.8,1375.9 708.8,1376.4 710.8,1376.8 712.8,1377.1 714.8,1377.3 716.8,1377.5 718.8,1377.6 720.8,1377.7 722.8,1377.8 724.8,1377.8 726.8,1377.8 728.8,1377.9 730.8,1377.9 732.8,1377.9 734.8,1377.9 736.8,1377.9 738.8,1377.9 740.8,1377.9 742.8,1377.9 744.8,1377.9 746.8,1377.9 748.8,1377.9 750.8,1377.9 752.8,1377.9 754.8,1377.9 756.8,1377.9 758.8,1377.9 760.8,1377.9 762.8,1377.9 764.8,1378.0 766.8,1378.0 768.8,1378.0 770.8,1378.0 772.8,1378.0 774.8,1378.0 776.8,1378.0 778.8,1378.0 780.8,1378.0 782.8,1378.0 784.8,1378.0 786.8,1378.0 788.8,1378.0 790.8,1378.0 792.8,1378.0 794.8,1378.0 796.8,1378.0 798.8,1378.0 800.8,1378.0 802.8,1378.0 804.8,1378.0 806.8,1378.0 808.8,1378.0 810.8,1378.0 812.8,1378.0 814.8,1378.0 816.8,1378.0 818.8,1378.0 820.8,1378.0 822.8,1378.0 824.8,1378.0 826.8,1378.0 828.8,1378.0 830.8,1378.0 832.8,1378.0 834.8,1378.0 836.8,1378.0 838.8,1378.0 840.8,1378.0 842.8,1378.0 844.8,1378.0 846.8,1378.0 848.8,1378.0 850.8,1378.0 852.8,1378.0 854.8,1378.0 856.8,1378.0 858.8,1378.0 860.8,1378.0 862.8,1378.0 864.8,1378.0 866.8,1378.0 868.8,1378.0 870.8,1378.0 872.8,1378.0 874.8,1378.0 876.8,1378.0 878.8,1378.0 880.8,1378.0 882.8,1378.0 884.8,1378.0 886.8,1378.0 888.8,1378.0 890.8,1378.0 892.8,1378.0 894.8,1378.0 896.8,1378.0 898.8,1378.0 900.8,1378.0 902.8,1378.0 904.8,1378.0 906.8,1378.0 908.8,1378.0 910.8,1378.0 912.8,1378.0 914.8,1378.0 916.8,1378.0 918.8,1378.0 920.8,1378.0 922.8,1378.0 924.8,1378.0 926.8,1378.0 928.8,1378.0 930.8,1378.0 932.8,1378.0 934.8,1378.0 936.8,1378.0 938.8,1378.0 940.8,1378.0 942.8,1378.0 944.8,1378.0 946.8,1378.0 948.8,1378.0 950.8,1378.0 952.8,1378.0 954.8,1378.0 956.8,1378.0 958.8,1378.0 960.8,1378.0 962.8,1378.0 964.8,1378.0 966.8,1378.0 968.8,1378.0 970.8,1378.0 972.8,1378.0 974.8,1378.0 976.8,1378.0 978.8,1378.0 980.8,1378.0 982.8,1378.0 984.8,1378.0 986.8,1378.0 988.8,1378.0 990.8,1378.0 992.8,1378.0 994.8,1378.0 996.8,1378.0 998.8,1378.0 1000.8,1378.0 1002.8,1378.0 1004.8,1378.0 1006.8,1378.0 1008.8,1378.0 1010.8,1378.0 1012.8,1378.0 1014.8,1378.0 1016.8,1378.0 1018.8,1378.0 1020.8,1378.0 1022.8,1378.0 1024.8,1378.0 1026.8,1378.0 1028.8,1378.0 1030.8,1378.0 1032.8,1378.0 1034.8,1378.0 1036.8,1378.0 1038.8,1378.0 1040.8,1378.0 1042.8,1378.0 1044.8,1378.0 1046.8,1378.0 1048.8,1378.0 1050.8,1378.0 1052.8,1378.0 1054.8,1378.0 1056.8,1378.0 1058.8,1378.0 1060.8,1378.0 1062.8,1378.0 1064.8,1378.0 1066.8,1378.0 1068.8,1378.0 1070.8,1378.0 1072.8,1378.0 1074.8,1378.0 1076.8,1378.0 1078.8,1378.0 1080.8,1378.0 1082.8,1378.0 1084.8,1378.0 1086.8,1378.0 1088.8,1378.0 1090.8,1378.0 1092.8,1378.0 1094.8,1378.0 1096.8,1378.0 1098.8,1378.0 1100.8,1378.0 1102.8,1378.0 1104.8,1378.0 1106.8,1378.0 1108.8,1378.0 1110.8,1378.0 1112.8,1378.0 1114.8,1378.0 1116.8,1378.0 1118.8,1378.0 1120.8,1378.0 1122.8,1378.0 1124.8,1378.0 1126.8,1378.0 1128.8,1378.0 1130.8,1378.0 1132.8,1378.0 1134.8,1378.0 1136.8,1378.0 1138.8,1378.0 1140.8,1378.0 1142.8,1378.0 1144.8,1378.0 1146.8,1378.0 1148.8,1378.0 1150.8,1378.0 1152.8,1378.0 1154.8,1378.0 1156.8,1378.0 1158.8,1378.0 1160.8,1378.0 1162.8,1378.0 1164.8,1378.0 1166.8,1378.0 1168.8,1378.0 1170.8,1378.0 1172.8,1378.0 1174.8,1378.0 1176.8,1378.0 1178.8,1378.0 1180.8,1378.0 1182.8,1378.0 1184.8,1378.0 1186.8,1378.0 1188.8,1378.0 1190.8,1378.0 1192.8,1378.0 1194.8,1378.0 1196.8,1378.0 1198.8,1378.0 1200.8,1378.0 1202.8,1378.0 1204.8,1378.0 1206.8,1378.0 1208.8,1378.0 1210.8,1378.0 1212.8,1378.0 1214.8,1378.0 1216.8,1378.0 1218.8,1378.0 1220.8,1378.0 1222.8,1378.0 1224.8,1378.0 1226.8,1378.0 1228.8,1378.0 1230.8,1378.0 1232.8,1378.0 1234.8,1378.0 1236.8,1378.0 1238.8,1378.0 1240.8,1378.0 1242.8,1378.0 1244.8,1378.0 1246.8,1378.0 1248.8,1378.0 1250.8,1378.0 1252.8,1378.0 1254.8,1378.0 1256.8,1378.0 1258.8,1378.0 1260.8,1378.0 1262.8,1378.0 1264.8,1378.0 1266.8,1378.0 1268.8,1378.0 1270.8,1378.0 1272.8,1378.0 1274.8,1378.0 1276.8,1378.0 1278.8,1378.0 1280.8,1378.0 1282.8,1378.0 1284.8,1378.0 1286.8,1378.0 1288.8,1378.0 1290.8,1378.0 1292.8,1378.0 1294.8,1378.0 1296.8,1378.0 1298.8,1378.0 1300.8,1378.0 1302.8,1378.0 1304.8,1378.0 1306.8,1378.0 1308.8,1378.0 1310.8,1378.0 1312.8,1378.0 1314.8,1378.0 1316.8,1378.0 1318.8,1378.0 1320.8,1378.0 1322.8,1378.0 1324.8,1378.0 1326.8,1378.0 1328.8,1378.0 1330.8,1378.0 1332.8,1378.0 1334.8,1378.0 1336.8,1378.0 1338.8,1378.0 1340.8,1378.0 1342.8,1378.0 1344.8,1378.0 1346.8,1378.0 1348.8,1378.0 1350.8,1378.0 1352.8,1378.0 1354.8,1378.0 1356.8,1378.0 1358.8,1378.0 1360.8,1378.0 1362.8,1378.0 1364.8,1378.0 1366.8,1378.0 1368.8,1378.0 1370.8,1378.0 1372.8,1378.0 1374.8,1378.0 1376.8,1378.0 1378.8,1378.0 1380.8,1378.0 1382.8,1378.0 1384.8,1378.0 1386.8,1378.0 1388.8,1378.0 1390.8,1378.0 1392.8,1378.0 1394.8,1378.0 1396.8,1378.0 1398.8,1378.0 1400.8,1378.0 1402.8,1378.0 1404.8,1378.0 1406.8,1378.0 1408.8,1378.0 1410.8,1378.0 1412.8,1378.0 1414.8,1378.0 1416.8,1378.0 1418.8,1378.0 1420.8,1378.0 1422.8,1378.0 1424.8,1378.0 1426.8,1378.0 1428.8,1378.0 1430.8,1378.0 1432.8,1378.0 1434.8,1378.0 1436.8,1378.0 1438.8,1378.0 1440.8,1378.0 1442.8,1378.0 1444.8,1378.0 1446.8,1378.0 1448.8,1378.0 1450.8,1378.0 1452.8,1378.0 1454.8,1378.0 1456.8,1378.0 1458.8,1378.0 1460.8,1378.0 1462.8,1378.0 1464.8,1378.0 1466.8,1378.0 1468.8,1378.0 1470.8,1378.0 1472.8,1378.0 1474.8,1378.0 1476.8,1378.0 1478.8,1378.0 1480.8,1378.0 1482.8,1378.0 1484.8,1378.0 1486.8,1378.0 1488.8,1378.0 1490.8,1378.0 1492.8,1378.0 1494.8,1378.0 1496.8,1378.0 1498.8,1378.0 1500.8,1378.0 1502.8,1378.0 1504.8,1378.0 1506.8,1378.0 1508.8,1378.0 1510.8,1378.0 1512.8,1378.0 1514.8,1378.0 1516.8,1378.0 1518.8,1378.0 1520.8,1378.0 1522.8,1378.0 1524.8,1378.0 1526.8,1378.0 1528.8,1378.0 1530.8,1378.0 1532.8,1378.0 1534.8,1378.0 1536.8,1378.0 1538.8,1378.0 1540.8,1378.0 1542.8,1378.0 1544.8,1378.0 1546.8,1378.0 1548.8,1378.0 1550.8,1378.0 1552.8,1378.0 1554.8,1378.0 1556.8,1378.0 1558.8,1378.0 1560.8,1378.0 1562.8,1378.0 1564.8,1378.0 1566.8,1378.0 1568.8,1378.0 1570.8,1378.0 1572.8,1378.0 1574.8,1378.0 1576.8,1378.0 1578.8,1378.0 1580.8,1378.0 1582.8,1378.0 1584.8,1378.0 1586.8,1378.0 1588.8,1378.0 1590.8,1378.0 1592.8,1378.0 1594.8,1378.0 1596.8,1378.0 1598.8,1378.0 1600.8,1378.0 1602.8,1378.0 1604.8,1378.0 1606.8,1378.0 1608.8,1378.0 1610.8,1378.0 1612.8,1378.0 1614.8,1378.0 1616.8,1378.0 1618.8,1378.0 1620.8,1378.0 1622.8,1378.0 1624.8,1378.0 1626.8,1378.0 1628.8,1378.0 1630.8,1378.0 1632.8,1378.0 1634.8,1378.0 1636.8,1378.0 1638.8,1378.0 1640.8,1378.0 1642.8,1378.0 1644.8,1378.0 1646.8,1378.0 1648.8,1378.0 1650.8,1378.0 1652.8,1378.0 1654.8,1378.0 1656.8,1378.0 1658.8,1378.0 1660.8,1378.0 1662.8,1378.0 1664.8,1378.0 1666.8,1378.0 1668.8,1378.0 1670.8,1378.0 1672.8,1378.0 1674.8,1378.0 1676.8,1378.0 1678.8,1378.0 1680.8,1378.0 1682.8,1378.0 1684.8,1378.0 1686.8,1378.0 1688.8,1378.0 1690.8,1378.0 1692.8,1378.0 1694.8,1378.0 1696.8,1378.0 1698.8,1378.0 1700.8,1378.0 1702.8,1378.0 1704.8,1378.0 1706.8,1378.0 1708.8,1378.0 1710.8,1378.0 1712.8,1378.0 1714.8,1378.0 1716.8,1378.0 1718.8,1378.0 1720.8,1378.0 1722.8,1378.0 1724.8,1378.0 1726.8,1378.0 1728.8,1378.0 1730.8,1378.0 1732.8,1378.0 1734.8,1378.0 1736.8,1378.0 1738.8,1378.0 1740.8,1378.0 1742.8,1378.0 1744.8,1378.0 1746.8,1378.0 1748.8,1378.0 1750.8,1378.0 1752.8,1378.0 1754.8,1378.0 1756.8,1378.0 1758.8,1378.0 1760.8,1378.0 1762.8,1378.0 1764.8,1378.0 1766.8,1378.0 1768.8,1378.0 1770.8,1378.0 1772.8,1378.0 1774.8,1378.0 1776.8,1378.0 1778.8,1378.0 1780.8,1378.0 1782.8,1378.0 1784.8,1378.0 1786.8,1378.0 1788.8,1378.0 1790.8,1378.0 1792.8,1378.0 1794.8,1378.0 1796.8,1378.0 1798.8,1378.0 1800.8,1378.0 1802.8,1378.0 1804.8,1378.0 1806.8,1378.0 1808.8,1378.0 1810.8,1378.0 1812.8,1378.0 1814.8,1378.0 1816.8,1378.0 1818.8,1378.0 1820.8,1378.0 1822.8,1378.0 1824.8,1378.0 1826.8,1378.0 1828.8,1378.0 1830.8,1378.0 1832.8,1378.0 1834.8,1378.0 1836.8,1378.0 1838.8,1378.0 1840.8,1378.0 1842.8,1378.0 1844.8,1378.0 1846.8,1378.0 1848.8,1378.0 1850.8,1378.0 1852.8,1378.0 1854.8,1378.0 1856.8,1378.0 1858.8,1378.0 1860.8,1378.0 1862.8,1378.0 1864.8,1378.0 1866.8,1378.0 1868.8,1378.0 1870.8,1378.0 1872.8,1378.0 1874.8,1378.0 1876.8,1378.0 1878.8,1378.0 1880.8,1378.0 1882.8,1378.0 1884.8,1378.0 1886.8,1378.0 1888.8,1378.0 1890.8,1378.0 1892.8,1378.0 1894.8,1378.0 1896.8,1378.0 1898.8,1378.0 1900.8,1378.0 1902.8,1378.0 1904.8,1378.0 1906.8,1378.0 1908.8,1378.0 1910.8,1378.0 1912.8,1378.0 1914.8,1378.0 1916.8,1378.0 1918.8,1378.0 1920.8,1378.0 1922.8,1378.0 1924.8,1378.0 1926.8,1378.0 1928.8,1378.0 1930.8,1378.0 1932.8,1378.0 1934.8,1378.0 1936.8,1378.0 1938.8,1378.0 1940.8,1378.0 1942.8,1378.0 1944.8,1378.0 1946.8,1378.0 1948.8,1378.0 1950.8,1378.0 1952.8,1378.0 1954.8,1378.0 1956.8,1378.0 1958.8,1378.0 1960.8,1378.0 1962.8,1378.0 1964.8,1378.0 1966.8,1378.0 1968.8,1378.0 1970.8,1378.0 1972.8,1378.0 1974.8,1378.0 1976.8,1378.0 1978.8,1378.0 1980.8,1378.0 1982.8,1378.0 1984.8,1378.0 1986.8,1378.0 1988.8,1378.0 1990.8,1378.0 1992.8,1378.0 1994.8,1378.0 1996.8,1378.0 1998.8,1378.0 2000.8,1378.0 2002.8,1378.0 2004.8,1378.0 2006.8,1378.0 2008.8,1378.0 2010.8,1378.0 2012.8,1378.0 2014.8,1378.0 2016.8,1378.0 2018.8,1378.0 2020.8,1378.0 2022.8,1378.0 2024.8,1378.0 2026.8,1378.0 2028.8,1378.0 2030.8,1378.0 2032.8,1378.0 2034.8,1378.0 2036.8,1378.0 2038.8,1378.0 2040.8,1378.0 2042.8,1378.0 2044.8,1378.0 2046.8,1378.0 2048.8,1378.0 2050.8,1378.0 2052.8,1378.0 2054.8,1378.0 2056.8,1378.0 2058.8,1378.0 2060.8,1378.0 2062.8,1378.0 2064.8,1378.0 2066.8,1378.0 2068.8,1378.0 2070.8,1378.0 2072.8,1378.0 2074.8,1378.0 2076.8,1378.0 2078.8,1378.0 2080.8,1378.0 2082.8,1378.0 2084.8,1378.0 2086.8,1378.0 2088.8,1378.0 2090.8,1378.0 2092.8,1378.0 2094.8,1378.0 2096.8,1378.0 2098.8,1378.0 2100.8,1378.0 2102.8,1378.0 2104.8,1378.0 2106.8,1378.0 2108.8,1378.0 2110.8,1378.0 2112.8,1378.0 2114.8,1378.0 2116.8,1378.0 2118.8,1378.0 2120.8,1378.0 2122.8,1378.0 2124.8,1378.0 2126.8,1378.0 2128.8,1378.0 2130.8,1378.0 2132.8,1378.0 2134.8,1378.0 2136.8,1378.0 2138.8,1378.0 2140.8,1378.0 2142.8,1378.0 2144.8,1378.0 2146.8,1378.0 2148.8,1378.0 2150.8,1378.0 2152.8,1378.0"/>
<polyline stroke="#008000" points="114.8,1378.0 116.8,1378.0 118.8,1378.0 120.8,1378.0 122.8,1378.0 124.8,1378.0 126.8,1378.0 128.8,1378.0 130.8,1378.0 132.8,1378.0 134.8,1378.0 136.8,1378.0 138.8,1378.0 140.8,1378.0 142.8,1378.0 144.8,1378.0 146.8,1378.0 148.8,1378.0 150.8,1378.0 152.8,1378.0 154.8,1378.0 156.8,1378.0 158.8,1378.0 160.8,1378.0 162.8,1378.0 164.8,1378.0 166.8,1378.0 168.8,1378.0 170.8,1378.0 172.8,1378.0 174.8,1378.0 176.8,1378.0 178.8,1378.0 180.8,1378.0 182.8,1378.0 184.8,1378.0 186.8,1378.0 188.8,1378.0 190.8,1378.0 192.8,1378.0 194.8,1378.0 196.8,1378.0 198.8,1378.0 200.8,1378.0 202.8,1378.0 204.8,1378.0 206.8,1378.0 208.8,1378.0 210.8,1378.0 212.8,1378.0 214.8,1378.0 216.8,1378.0 218.8,1378.0 220.8,1378.0 222.8,1378.0 224.8,1378.0 226.8,1378.0 228.8,1378.0 230.8,1378.0 232.8,1378.0 234.8,1378.0 236.8,1378.0 238.8,1378.0 240.8,1378.0 242.8,1378.0 244.8,1378.0 246.8,1378.0 248.8,1378.0 250.8,1378.0 252.8,1378.0 254.8,1378.0 256.8,1378.0 258.8,1378.0 260.8,1378.0 262.8,1378.0 264.8,1378.0 266.8,1378.0 268.8,1378.0 270.8,1378.0 272.8,1378.0 274.8,1378.0 276.8,1378.0 278.8,1378.0 280.8,1378.0 282.8,1378.0 284.8,1378.0 286.8,1378.0 288.8,1378.0 290.8,1378.0 292.8,1378.0 294.8,1378.0 296.8,1378.0 298.8,1378.0 300.8,1378.0 302.8,1378.0 304.8,1378.0 306.8,1378.0 308.8,1378.0 310.8,1378.0 312.8,1378.0 314.8,1378.0 316.8,1378.0 318.8,1378.0 320.8,1378.0 322.8,1378.0 324.8,1378.0 326.8,1378.0 328.8,1378.0 330.8,1378.0 332.8,1378.0 334.8,1378.0 336.8,1378.0 338.8,1378.0 340.8,1378.0 342.8,1378.0 344.8,1378.0 346.8,1378.0 348.8,1378.0 350.8,1378.0 352.8,1378.0 354.8,1378.0 356.8,1378.0 358.8,1378.0 360.8,1378.0 362.8,1378.0 364.8,1378.0 366.8,1378.0 368.8,1378.0 370.8,1378.0 372.8,1378.0 374.8,1378.0 376.8,1378.0 378.8,1378.0 380.8,1378.0 382.8,1378.0 384.8,1378.0 386.8,1378.0 388.8,1378.0 390.8,1378.0 392.8,1378.0 394.8,1378.0 396.8,1378.0 398.8,1378.0 400.8,1378.0 402.8,1378.0 404.8,1378.0 406.8,1378.0 408.8,1378.0 410.8,1378.0 412.8,1378.0 414.8,1378.0 416.8,1378.0 418.8,1378.0 420.8,1378.0 422.8,1378.0 424.8,1378.0 426.8,1378.0 428.8,1378.0 430.8,1378.0 432.8,1378.0 434.8,1378.0 436.8,1378.0 438.8,1378.0 440.8,1378.0 442.8,1378.0 444.8,1378.0 446.8,1378.0 448.8,1378.0 450.8,1378.0 452.8,1378.0 454.8,1378.0 456.8,1378.0 458.8,1378.0 460.8,1378.0 462.8,1378.0 464.8,1378.0 466.8,1378.0 468.8,1378.0 470.8,1378.0 472.8,1378.0 474.8,1378.0 476.8,1378.0 478.8,1378.0 480.8,1378.0 482.8,1378.0 484.8,1378.0 486.8,1378.0 488.8,1378.0 490.8,1378.0 492.8,1378.0 494.8,1378.0 496.8,1378.0 498.8,1378.0 500.8,1378.0 502.8,1378.0 504.8,1378.0 506.8,1378.0 508.8,1378.0 510.8,1378.0 512.8,1378.0 514.8,1378.0 516.8,1378.0 518.8,1378.0 520.8,1378.0 522.8,1378.0 524.8,1378.0 526.8,1378.0 528.8,1378.0 530.8,1378.0 532.8,1378.0 534.8,1378.0 536.8,1378.0 538.8,1378.0 540.8,1378.0 542.8,1378.0 544.8,1378.0 546.8,1378.0 548.8,1378.0 550.8,1378.0 552.8,1378.0 554.8,1378.0 556.8,1378.0 558.8,1378.0 560.8,1378.0 562.8,1378.0 564.8,1378.0 566.8,1378.0 568.8,1378.0 570.8,1378.0 572.8,1378.0 574.8,1378.0 576.8,1378.0 578.8,1378.0 580.8,1378.0 582.8,1378.0 584.8,1378.0 586.8,1378.0 588.8,1378.0 590.8,1378.0 592.8,1378.0 594.8,1378.0 596.8,1378.0 598.8,1378.0 600.8,1378.0 602.8,1378.0 604.8,1378.0 606.8,1378.0 608.8,1378.0 610.8,1378.0 612.8,1378.0 614.8,1378.0 616.8,1378.0 618.8,1378.0 620.8,1378.0 622.8,1378.0 624.8,1378.0 626.8,1378.0 628.8,1378.0 630.8,1378.0 632.8,1378.0 634.8,1378.0 636.8,1378.0 638.8,1378.0 640.8,1378.0 642.8,1378.0 644.8,1378.0 646.8,1378.0 648.8,1378.0 650.8,1378.0 652.8,1378.0 654.8,1378.0 656.8,1378.0 658.8,1378.0 660.8,1378.0 662.8,1378.0 664.8,1378.0 666.8,1377.9 668.8,1377.9 670.8,1377.9 672.8,1377.9 674.8,1377.8 676.8,1377.7 678.8,1377.7 680.8,1377.6 682.8,1377.4 684.8,1377.3 686.8,1377.1 688.8,1376.8 690.8,1376.5 692.8,1376.1 694.8,1375.6 696.8,1375.0 698.8,1374.3 700.8,1373.4 702.8,1372.4 704.8,1371.2 706.8,1369.8 708.8,1368.2 710.8,1366.3 712.8,1364.1 714.8,1361.7 716.8,1358.9 718.8,1355.8 720.8,1352.3 722.8,1348.5 724.8,1344.4 726.8,1340.0 728.8,1335.2 730.8,1330.2 732.8,1325.0 734.8,1319.6 736.8,1314.1 738.8,1308.6 740.8,1303.2 742.8,1298.0 744.8,1293.1 746.8,1288.6 748.8,1284.6 750.8,1281.3 752.8,1278.8 754.8,1277.2 756.8,1276.7 758.8,1277.7 760.8,1279.7 762.8,1282.6 764.8,1286.2 766.8,1290.3 768.8,1295.0 770.8,1300.1 772.8,1305.4 774.8,1310.8 776.8,1316.3 778.8,1321.8 780.8,1327.1 782.8,1332.2 784.8,1337.1 786.8,1341.8 788.8,1346.1 790.8,1350.1 792.8,1353.7 794.8,1357.1 796.8,1360.0 798.8,1362.7 800.8,1365.0 802.8,1367.1 804.8,1368.9 806.8,1370.4 808.8,1371.7 810.8,1372.9 812.8,1373.8 814.8,1374.6 816.8,1375.3 818.8,1375.8 820.8,1376.2 822.8,1376.6 824.8,1376.9 826.8,1377.1 828.8,1377.3 830.8,1377.5 832.8,1377.6 834.8,1377.7 836.8,1377.8 838.8,1377.8 840.8,1377.9 842.8,1377.9 844.8,1377.9 846.8,1377.9 848.8,1378.0 850.8,1378.0 852.8,1378.0 854.8,1378.0 856.8,1378.0 858.8,1378.0 860.8,1378.0 862.8,1378.0 864.8,1378.0 866.8,1378.0 868.8,1378.0 870.8,1378.0 872.8,1378.0 874.8,1378.0 876.8,1378.0 878.8,1378.0 880.8,1378.0 882.8,1378.0 884.8,1378.0 886.8,1378.0 888.8,1378.0 890.8,1378.0 892.8,1378.0 894.8,1378.0 896.8,1378.0 898.8,1378.0 900.8,1378.0 902.8,1378.0 904.8,1378.0 906.8,1378.0 908.8,1378.0 910.8,1378.0 912.8,1378.0 914.8,1378.0 916.8,1378.0 918.8,1378.0 920.8,1378.0 922.8,1378.0 924.8,1378.0 926.8,1378.0 928.8,1378.0 930.8,1378.0 932.8,1378.0 934.8,1378.0 936.8,1378.0 938.8,1378.0 940.8,1378.0 942.8,1378.0 944.8,1378.0 946.8,1378.0 948.8,1378.0 950.8,1378.0 952.8,1378.0 954.8,1378.0 956.8,1378.0 958.8,1378.0 960.8,1378.0 962.8,1378.0 964.8,1378.0 966.8,1378.0 968.8,1378.0 970.8,1378.0 972.8,1378.0 974.8,1378.0 976.8,1378.0 978.8,1378.0 980.8,1378.0 982.8,1378.0 984.8,1378.0 986.8,1378.0 988.8,1378.0 990.8,1378.0 992.8,1378.0 994.8,1378.0 996.8,1378.0 998.8,1378.0 1000.8,1378.0 1002.8,1378.0 1004.8,1378.0 1006.8,1378.0 1008.8,1378.0 1010.8,1378.0 1012.8,1378.0 1014.8,1378.0 1016.8,1378.0 1018.8,1378.0 1020.8,1378.0 1022.8,1378.0 1024.8,1378.0 1026.8,1378.0 1028.8,1378.0 1030.8,1378.0 1032.8,1378.0 1034.8,1378.0 1036.8,1378.0 1038.8,1378.0 1040.8,1378.0 1042.8,1378.0 1044.8,1378.0 1046.8,1378.0 1048.8,1378.0 1050.8,1378.0 1052.8,1378.0 1054.8,1378.0 1056.8,1378.0 1058.8,1378.0 1060.8,1378.0 1062.8,1378.0 1064.8,1378.0 1066.8,1378.0 1068.8,1378.0 1070.8,1378.0 1072.8,1378.0 1074.8,1378.0 1076.8,1378.0 1078.8,1378.0 1080.8,1378.0 1082.8,1378.0 1084.8,1378.0 1086.8,1378.0 1088.8,1378.0 1090.8,1378.0 1092.8,1378.0 1094.8,1378.0 1096.8,1378.0 1098.8,1378.0 1100.8,1378.0 1102.8,1378.0 1104.8,1378.0 1106.8,1378.0 1108.8,1378.0 1110.8,1378.0 1112.8,1378.0 1114.8,1378.0 1116.8,1378.0 1118.8,1378.0 1120.8,1378.0 1122.8,1378.0 1124.8,1378.0 1126.8,1378.0 1128.8,1378.0 1130.8,1378.0 1132.8,1378.0 1134.8,1378.0 1136.8,1378.0 1138.8,1378.0 1140.8,1378.0 1142.8,1378.0 1144.8,1378.0 1146.8,1378.0 1148.8,1378.0 1150.8,1378.0 1152.8,1378.0 1154.8,1378.0 1156.8,1378.0 1158.8,1378.0 1160.8,1378.0 1162.8,1378.0 1164.8,1378.0 1166.8,1378.0 1168.8,1378.0 1170.8,1378.0 1172.8,1378.0 1174.8,1378.0 1176.8,1378.0 1178.8,1378.0 1180.8,1378.0 1182.8,1378.0 1184.8,1378.0 1186.8,1378.0 1188.8,1378.0 1190.8,1378.0 1192.8,1378.0 1194.8,1378.0 1196.8,1378.0 1198.8,1378.0 1200.8,1378.0 1202.8,1378.0 1204.8,1378.0 1206.8,1378.0 1208.8,1378.0 1210.8,1378.0 1212.8,1378.0 1214.8,1378.0 1216.8,1378.0 1218.8,1378.0 1220.8,1378.0 1222.8,1378.0 1224.8,1378.0 1226.8,1378.0 1228.8,1378.0 1230.8,1378.0 1232.8,1378.0 1234.8,1378.0 1236.8,1378.0 1238.8,1378.0 1240.8,1378.0 1242.8,1378.0 1244.8,1378.0 1246.8,1378.0 1248.8,1378.0 1250.8,1378.0 1252.8,1378.0 1254.8,1378.0 1256.8,1378.0 1258.8,1378.0 1260.8,1378.0 1262.8,1378.0 1264.8,1378.0 1266.8,1378.0 1268.8,1378.0 1270.8,1378.0 1272.8,1378.0 1274.8,1378.0 1276.8,1378.0 1278.8,1378.0 1280.8,1378.0 1282.8,1378.0 1284.8,1378.0 1286.8,1378.0 1288.8,1378.0 1290.8,1378.0 1292.8,1378.0 1294.8,1378.0 1296.8,1378.0 1298.8,1378.0 1300.8,1378.0 1302.8,1378.0 1304.8,1378.0 1306.8,1378.0 1308.8,1378.0 1310.8,1378.0 1312.8,1378.0 1314.8,1378.0 1316.8,1378.0 1318.8,1378.0 1320.8,1378.0 1322.8,1378.0 1324.8,1378.0 1326.8,1378.0 1328.8,1378.0 1330.8,1378.0 1332.8,1378.0 1334.8,1378.0 1336.8,1378.0 1338.8,1378.0 1340.8,1378.0 1342.8,1378.0 1344.8,1378.0 1346.8,1378.0 1348.8,1378.0 1350.8,1378.0 1352.8,1378.0 1354.8,1378.0 1356.8,1378.0 1358.8,1378.0 1360.8,1378.0 1362.8,1378.0 1364.8,1378.0 1366.8,1378.0 1368.8,1378.0 1370.8,1378.0 1372.8,1378.0 1374.8,1378.0 1376.8,1378.0 1378.8,1378.0 1380.8,1378.0 1382.8,1378.0 1384.8,1378.0 1386.8,1378.0 1388.8,1378.0 1390.8,1378.0 1392.8,1378.0 1394.8,1378.0 1396.8,1378.0 1398.8,1378.0 1400.8,1378.0 1402.8,1378.0 1404.8,1378.0 1406.8,1378.0 1408.8,1378.0 1410.8,1378.0 1412.8,1378.0 1414.8,1378.0 1416.8,1378.0 1418.8,1378.0 1420.8,1378.0 1422.8,1378.0 1424.8,1378.0 1426.8,1378.0 1428.8,1378.0 1430.8,1378.0 1432.8,1378.0 1434.8,1378.0 1436.8,1378.0 1438.8,1378.0 1440.8,1378.0 1442.8,1378.0 1444.8,1378.0 1446.8,1378.0 1448.8,1378.0 1450.8,1378.0 1452.8,1378.0 1454.8,1378.0 1456.8,1378.0 1458.8,1378.0 1460.8,1378.0 1462.8,1378.0 1464.8,1378.0 1466.8,1378.0 1468.8,1378.0 1470.8,1378.0 1472.8,1378.0 1474.8,1378.0 1476.8,1378.0 1478.8,1378.0 1480.8,1378.0 1482.8,1378.0 1484.8,1378.0 1486.8,1378.0 1488.8,1378.0 1490.8,1378.0 1492.8,1378.0 1494.8,1378.0 1496.8,1378.0 1498.8,1378.0 1500.8,1378.0 1502.8,1378.0 1504.8,1378.0 1506.8,1378.0 1508.8,1378.0 1510.8,1378.0 1512.8,1378.0 1514.8,1378.0 1516.8,1378.0 1518.8,1378.0 1520.8,1378.0 1522.8,1378.0 1524.8,1378.0 1526.8,1378.0 1528.8,1378.0 1530.8,1378.0 1532.8,1378.0 1534.8,1378.0 1536.8,1378.0 1538.8,1378.0 1540.8,1378.0 1542.8,1378.0 1544.8,1378.0 1546.8,1378.0 1548.8,1378.0 1550.8,1378.0 1552.8,1378.0 1554.8,1378.0 1556.8,1378.0 1558.8,1378.0 1560.8,1378.0 1562.8,1378.0 1564.8,1378.0 1566.8,1378.0 1568.8,1378.0 1570.8,1378.0 1572.8,1378.0 1574.8,1378.0 1576.8,1378.0 1578.8,1378.0 1580.8,1378.0 1582.8,1378.0 1584.8,1378.0 1586.8,1378.0 1588.8,1378.0 1590.8,1378.0 1592.8,1378.0 1594.8,1378.0 1596.8,1378.0 1598.8,1378.0 1600.8,1378.0 1602.8,1378.0 1604.8,1378.0 1606.8,1378.0 1608.8,1378.0 1610.8,1378.0 1612.8,1378.0 1614.8,1378.0 1616.8,1378.0 1618.8,1378.0 1620.8,1378.0 1622.8,1378.0 1624.8,1378.0 1626.8,1378.0 1628.8,1378.0 1630.8,1378.0 1632.8,1378.0 1634.8,1378.0 1636.8,1378.0 1638.8,1378.0 1640.8,1378.0 1642.8,1378.0 1644.8,1378.0 1646.8,1378.0 1648.8,1378.0 1650.8,1378.0 1652.8,1378.0 1654.8,1378.0 1656.8,1378.0 1658.8,1378.0 1660.8,1378.0 1662.8,1378.0 1664.8,1378.0 1666.8,1378.0 1668.8,1378.0 1670.8,1378.0 1672.8,1378.0 1674.8,1378.0 1676.8,1378.0 1678.8,1378.0 1680.8,1378.0 1682.8,1378.0 1684.8,1378.0 1686.8,1378.0 1688.8,1378.0 1690.8,1378.0 1692.8,1378.0 1694.8,1378.0 1696.8,1378.0 1698.8,1378.0 1700.8,1378.0 1702.8,1378.0 1704.8,1378.0 1706.8,1378.0 1708.8,1378.0 1710.8,1378.0 1712.8,1378.0 1714.8,1378.0 1716.8,1378.0 1718.8,1378.0 1720.8,1378.0 1722.8,1378.0 1724.8,1378.0 1726.8,1378.0 1728.8,1378.0 1730.8,1378.0 1732.8,1378.0 1734.8,1378.0 1736.8,1378.0 1738.8,1378.0 1740.8,1378.0 1742.8,1378.0 1744.8,1378.0 1746.8,1378.0 1748.8,1378.0 1750.8,1378.0 1752.8,1378.0 1754.8,1378.0 1756.8,1378.0 1758.8,1378.0 1760.8,1378.0 1762.8,1378.0 1764.8,1378.0 1766.8,1378.0 1768.8,1378.0 1770.8,1378.0 1772.8,1378.0 1774.8,1378.0 1776.8,1378.0 1778.8,1378.0 1780.8,1378.0 1782.8,1378.0 1784.8,1378.0 1786.8,1378.0 1788.8,1378.0 1790.8,1378.0 1792.8,1378.0 1794.8,1378.0 1796.8,1378.0 1798.8,1378.0 1800.8,1378.0 1802.8,1378.0 1804.8,1378.0 1806.8,1378.0 1808.8,1378.0 1810.8,1378.0 1812.8,1378.0 1814.8,1378.0 1816.8,1378.0 1818.8,1378.0 1820.8,1378.0 1822.8,1378.0 1824.8,1378.0 1826.8,1378.0 1828.8,1378.0 1830.8,1378.0 1832.8,1378.0 1834.8,1378.0 1836.8,1378.0 1838.8,1378.0 1840.8,1378.0 1842.8,1378.0 1844.8,1378.0 1846.8,1378.0 1848.8,1378.0 1850.8,1378.0 1852.8,1378.0 1854.8,1378.0 1856.8,1378.0 1858.8,1378.0 1860.8,1378.0 1862.8,1378.0 1864.8,1378.0 1866.8,1378.0 1868.8,1378.0 1870.8,1378.0 1872.8,1378.0 1874.8,1378.0 1876.8,1378.0 1878.8,1378.0 1880.8,1378.0 1882.8,1378.0 1884.8,1378.0 1886.8,1378.0 1888.8,1378.0 1890.8,1378.0 1892.8,1378.0 1894.8,1378.0 1896.8,1378.0 1898.8,1378.0 1900.8,1378.0 1902.8,1378.0 1904.8,1378.0 1906.8,1378.0 1908.8,1378.0 1910.8,1378.0 1912.8,1378.0 1914.8,1378.0 1916.8,1378.0 1918.8,1378.0 1920.8,1378.0 1922.8,1378.0 1924.8,1378.0 1926.8,1378.0 1928.8,1378.0 1930.8,1378.0 1932.8,1378.0 1934.8,1378.0 1936.8,1378.0 1938.8,1378.0 1940.8,1378.0 1942.8,1378.0 1944.8,1378.0 1946.8,1378.0 1948.8,1378.0 1950.8,1378.0 1952.8,1378.0 1954.8,1378.0 1956.8,1378.0 1958.8,1378.0 1960.8,1378.0 1962.8,1378.0 1964.8,1378.0 1966.8,1378.0 1968.8,1378.0 1970.8,1378.0 1972.8,1378.0 1974.8,1378.0 1976.8,1378.0 1978.8,1378.0 1980.8,1378.0 1982.8,1378.0 1984.8,1378.0 1986.8,1378.0 1988.8,1378.0 1990.8,1378.0 1992.8,1378.0 1994.8,1378.0 1996.8,1378.0 1998.8,1378.0 2000.8,1378.0 2002.8,1378.0 2004.8,1378.0 2006.8,1378.0 2008.8,1378.0 2010.8,1378.0 2012.8,1378.0 2014.8,1378.0 2016.8,1378.0 2018.8,1378.0 2020.8,1378.0 2022.8,1378.0 2024.8,1378.0 2026.8,1378.0 2028.8,1378.0 2030.8,1378.0 2032.8,1378.0 2034.8,1378.0 2036.8,1378.0 2038.8,1378.0 2040.8,1378.0 2042.8,1378.0 2044.8,1378.0 2046.8,1378.0 2048.8,1378.0 2050.8,1378.0 2052.8,1378.0 2054.8,1378.0 2056.8,1378.0 2058.8,1378.0 2060.8,1378.0 2062.8,1378.0 2064.8,1378.0 2066.8,1378.0 2068.8,1378.0 2070.8,1378.0 2072.8,1378.0 2074.8,1378.0 2076.8,1378.0 2078.8,1378.0 2080.8,1378.0 2082.8,1378.0 2084.8,1378.0 2086.8,1378.0 2088.8,1378.0 2090.8,1378.0 2092.8,1378.0 2094.8,1378.0 2096.8,1378.0 2098.8,1378.0 2100.8,1378.0 2102.8,1378.0 2104.8,1378.0 2106.8,1378.0 2108.8,1378.0 2110.8,1378.0 2112.8,1378.0 2114.8,1378.0 2116.8,1378.0 2118.8,1378.0 2120.8,1378.0 2122.8,1378.0 2124.8,1378.0 2126.8,1378.0 2128.8,1378.0 2130.8,1378.0 2132.8,1378.0 2134.8,1378.0 2136.8,1378.0 2138.8,1378.0 2140.8,1378.0 2142.8,1378.0 2144.8,1378.0 2146.8,1378.0 2148.8,1378.0 2150.8,1378.0 2152.8,1378.0"/>
<polyline stroke="#ff0000" points="114.8,1377.9 116.8,1377.9 118.8,1377.9 120.8,1377.9 122.8,1377.9 124.8,1377.9 126.8,1377.9 128.8,1377.9 130.8,1377.9 132.8,1377.9 134.8,1377.9 136.8,1377.9 138.8,1377.9 140.8,1377.9 142.8,1377.9 144.8,1377.9 146.8,1377.9 148.8,1377.9 150.8,1377.9 152.8,1377.9 154.8,1377.9 156.8,1377.9 158.8,1377.9 160.8,1377.9 162.8,1377.9 164.8,1377.9 166.8,1377.9 168.8,1377.9 170.8,1377.9 172.8,1377.9 174.8,1377.9 176.8,1377.9 178.8,1377.9 180.8,1377.9 182.8,1377.9 184.8,1377.9 186.8,1377.9 188.8,1377.9 190.8,1377.9 192.8,1377.9 194.8,1377.9 196.8,1377.9 198.8,1377.9 200.8,1377.9 202.8,1377.9 204.8,1377.9 206.8,1377.9 208.8,1377.9 210.8,1377.9 212.8,1377.9 214.8,1377.9 216.8,1377.8 218.8,1377.8 220.8,1377.8 222.8,1377.8 224.8,1377.8 226.8,1377.8 228.8,1377.8 230.8,1377.8 232.8,1377.8 234.8,1377.8 236.8,1377.8 238.8,1377.8 240.8,1377.8 242.8,1377.8 244.8,1377.8 246.8,1377.8 248.8,1377.8 250.8,1377.8 252.8,1377.8 254.8,1377.8 256.8,1377.8 258.8,1377.8 260.8,1377.8 262.8,1377.8 264.8,1377.8 266.8,1377.8 268.8,1377.8 270.8,1377.8 272.8,1377.8 274.8,1377.8 276.8,1377.8 278.8,1377.8 280.8,1377.8 282.8,1377.8 284.8,1377.8 286.8,1377.8 288.8,1377.8 290.8,1377.8 292.8,1377.8 294.8,1377.8 296.8,1377.8 298.8,1377.8 300.8,1377.8 302.8,1377.8 304.8,1377.8 306.8,1377.8 308.8,1377.8 310.8,1377.8 312.8,1377.8 314.8,1377.8 316.8,1377.8 318.8,1377.8 320.8,1377.8 322.8,1377.8 324.8,1377.8 326.8,1377.8 328.8,1377.8 330.8,1377.8 332.8,1377.8 334.8,1377.8 336.8,1377.8 338.8,1377.8 340.8,1377.8 342.8,1377.8 344.8,1377.8 346.8,1377.8 348.8,1377.7 350.8,1377.7 352.8,1377.7 354.8,1377.7 356.8,1377.7 358.8,1377.7 360.8,1377.7 362.8,1377.7 364.8,1377.7 366.8,1377.7 368.8,1377.7 370.8,1377.7 372.8,1377.7 374.8,1377.7 376.8,1377.7 378.8,1377.7 380.8,1377.7 382.8,1377.7 384.8,1377.7 386.8,1377.7 388.8,1377.7 390.8,1377.7 392.8,1377.7 394.8,1377.7 396.8,1377.7 398.8,1377.7 400.8,1377.7 402.8,1377.7 404.8,1377.7 406.8,1377.7 408.8,1377.7 410.8,1377.7 412.8,1377.7 414.8,1377.7 416.8,1377.7 418.8,1377.6 420.8,1377.6 422.8,1377.6 424.8,1377.6 426.8,1377.6 428.8,1377.6 430.8,1377.6 432.8,1377.6 434.8,1377.6 436.8,1377.6 438.8,1377.6 440.8,1377.6 442.8,1377.6 444.8,1377.6 446.8,1377.6 448.8,1377.6 450.8,1377.6 452.8,1377.6 454.8,1377.6 456.8,1377.6 458.8,1377.6 460.8,1377.6 462.8,1377.6 464.8,1377.5 466.8,1377.5 468.8,1377.5 470.8,1377.5 472.8,1377.5 474.8,1377.5 476.8,1377.5 478.8,1377.5 480.8,1377.5 482.8,1377.5 484.8,1377.5 486.8,1377.5 488.8,1377.5 490.8,1377.5 492.8,1377.5 494.8,1377.5 496.8,1377.4 498.8,1377.4 500.8,1377.4 502.8,1377.4 504.8,1377.4 506.8,1377.4 508.8,1377.4 510.8,1377.4 512.8,1377.4 514.8,1377.4 516.8,1377.4 518.8,1377.4 520.8,1377.4 522.8,1377.3 524.8,1377.3 526.8,1377.3 528.8,1377.3 530.8,1377.3 532.8,1377.3 534.8,1377.3 536.8,1377.3 538.8,1377.3 540.8,1377.3 542.8,1377.2 544.8,1377.2 546.8,1377.2 548.8,1377.2 550.8,1377.2 552.8,1377.2 554.8,1377.2 556.8,1377.2 558.8,1377.1 560.8,1377.1 562.8,1377.1 564.8,1377.1 566.8,1377.1 568.8,1377.1 570.8,1377.0 572.8,1377.0 574.8,1377.0 576.8,1377.0 578.8,1377.0 580.8,1377.0 582.8,1376.9 584.8,1376.9 586.8,1376.9 588.8,1376.9 590.8,1376.9 592.8,1376.8 594.8,1376.8 596.8,1376.8 598.8,1376.8 600.8,1376.8 602.8,1376.7 604.8,1376.7 606.8,1376.7 608.8,1376.6 610.8,1376.6 612.8,1376.6 614.8,1376.6 616.8,1376.5 618.8,1376.5 620.8,1376.5 622.8,1376.4 624.8,1376.4 626.8,1376.4 628.8,1376.3 630.8,1376.3 632.8,1376.2 634.8,1376.2 636.8,1376.2 638.8,1376.1 640.8,1376.0 642.8,1376.0 644.8,1375.9 646.8,1375.9 648.8,1375.8 650.8,1375.7 652.8,1375.6 654.8,1375.6 656.8,1375.5 658.8,1375.4 660.8,1375.2 662.8,1375.1 664.8,1375.0 666.8,1374.8 668.8,1374.6 670.8,1374.4 672.8,1374.2 674.8,1373.9 676.8,1373.6 678.8,1373.3 680.8,1372.9 682.8,1372.4 684.8,1372.0 686.8,1371.4 688.8,1370.8 690.8,1370.1 692.8,1369.3 694.8,1368.4 696.8,1367.4 698.8,1366.3 700.8,1365.1 702.8,1363.7 704.8,1362.2 706.8,1360.5 708.8,1358.6 710.8,1356.6 712.8,1354.3 714.8,1351.8 716.8,1349.1 718.8,1346.1 720.8,1342.9 722.8,1339.4 724.8,1335.7 726.8,1331.6 728.8,1327.3 730.8,1322.6 732.8,1317.7 734.8,1312.4 736.8,1306.8 738.8,1301.0 740.8,1294.8 742.8,1288.3 744.8,1281.6 746.8,1274.6 748.8,1267.3 750.8,1259.9 752.8,1252.2 754.8,1244.4 756.8,1236.4 758.8,1228.4 760.8,1220.3 762.8,1212.2 764.8,1204.1 766.8,1196.1 768.8,1188.2 770.8,1180.5 772.8,1173.1 774.8,1165.9 776.8,1159.1 778.8,1152.6 780.8,1146.7 782.8,1141.2 784.8,1136.2 786.8,1131.9 788.8,1128.2 790.8,1125.2 792.8,1122.8 794.8,1121.2 796.8,1120.4 798.8,1120.2 800.8,1120.9 802.8,1122.3 804.8,1124.4 806.8,1127.2 808.8,1130.7 810.8,1134.9 812.8,1139.6 814.8,1145.0 816.8,1150.8 818.8,1157.1 820.8,1163.8 822.8,1170.9 824.8,1178.3 826.8,1185.9 828.8,1193.7 830.8,1201.7 832.8,1209.7 834.8,1217.9 836.8,1226.0 838.8,1234.0 840.8,1242.0 842.8,1249.9 844.8,1257.6 846.8,1265.1 848.8,1272.4 850.8,1279.5 852.8,1286.3 854.8,1292.9 856.8,1299.1 858.8,1305.1 860.8,1310.8 862.8,1316.1 864.8,1321.2 866.8,1325.9 868.8,1330.4 870.8,1334.5 872.8,1338.3 874.8,1341.9 876.8,1345.2 878.8,1348.2 880.8,1351.0 882.8,1353.6 884.8,1355.9 886.8,1358.0 888.8,1360.0 890.8,1361.7 892.8,1363.3 894.8,1364.7 896.8,1366.0 898.8,1367.1 900.8,1368.1 902.8,1369.1 904.8,1369.9 906.8,1370.6 908.8,1371.2 910.8,1371.8 912.8,1372.3 914.8,1372.8 916.8,1373.1 918.8,1373.5 920.8,1373.8 922.8,1374.1 924.8,1374.3 926.8,1374.5 928.8,1374.7 930.8,1374.9 932.8,1375.1 934.8,1375.2 936.8,1375.3 938.8,1375.4 940.8,1375.5 942.8,1375.6 944.8,1375.7 946.8,1375.8 948.8,1375.9 950.8,1375.9 952.8,1376.0 954.8,1376.0 956.8,1376.1 958.8,1376.1 960.8,1376.2 962.8,1376.2 964.8,1376.3 966.8,1376.3 968.8,1376.4 970.8,1376.4 972.8,1376.4 974.8,1376.5 976.8,1376.5 978.8,1376.5 980.8,1376.6 982.8,1376.6 984.8,1376.6 986.8,1376.6 988.8,1376.7 990.8,1376.7 992.8,1376.7 994.8,1376.7 996.8,1376.8 998.8,1376.8 1000.8,1376.8 1002.8,1376.8 1004.8,1376.9 1006.8,1376.9 1008.8,1376.9 1010.8,1376.9 1012.8,1376.9 1014.8,1377.0 1016.8,1377.0 1018.8,1377.0 1020.8,1377.0 1022.8,1377.0 1024.8,1377.0 1026.8,1377.1 1028.8,1377.1 1030.8,1377.1 1032.8,1377.1 1034.8,1377.1 1036.8,1377.1 1038.8,1377.1 1040.8,1377.2 1042.8,1377.2 1044.8,1377.2 1046.8,1377.2 1048.8,1377.2 1050.8,1377.2 1052.8,1377.2 1054.8,1377.2 1056.8,1377.3 1058.8,1377.3 1060.8,1377.3 1062.8,1377.3 1064.8,1377.3 1066.8,1377.3 1068.8,1377.3 1070.8,1377.3 1072.8,1377.3 1074.8,1377.4 1076.8,1377.4 1078.8,1377.4 1080.8,1377.4 1082.8,1377.4 1084.8,1377.4 1086.8,1377.4 1088.8,1377.4 1090.8,1377.4 1092.8,1377.4 1094.8,1377.4 1096.8,1377.4 1098.8,1377.4 1100.8,1377.5 1102.8,1377.5 1104.8,1377.5 1106.8,1377.5 1108.8,1377.5 1110.8,1377.5 1112.8,1377.5 1114.8,1377.5 1116.8,1377.5 1118.8,1377.5 1120.8,1377.5 1122.8,1377.5 1124.8,1377.5 1126.8,1377.5 1128.8,1377.5 1130.8,1377.5 1132.8,1377.6 1134.8,1377.6 1136.8,1377.6 1138.8,1377.6 1140.8,1377.6 1142.8,1377.6 1144.8,1377.6 1146.8,1377.6 1148.8,1377.6 1150.8,1377.6 1152.8,1377.6 1154.8,1377.6 1156.8,1377.6 1158.8,1377.6 1160.8,1377.6 1162.8,1377.6 1164.8,1377.6 1166.8,1377.6 1168.8,1377.6 1170.8,1377.6 1172.8,1377.6 1174.8,1377.6 1176.8,1377.6 1178.8,1377.7 1180.8,1377.7 1182.8,1377.7 1184.8,1377.7 1186.8,1377.7 1188.8,1377.7 1190.8,1377.7 1192.8,1377.7 1194.8,1377.7 1196.8,1377.7 1198.8,1377.7 1200.8,1377.7 1202.8,1377.7 1204.8,1377.7 1206.8,1377.7 1208.8,1377.7 1210.8,1377.7 1212.8,1377.7 1214.8,1377.7 1216.8,1377.7 1218.8,1377.7 1220.8,1377.7 1222.8,1377.7 1224.8,1377.7 1226.8,1377.7 1228.8,1377.7 1230.8,1377.7 1232.8,1377.7 1234.8,1377.7 1236.8,1377.7 1238.8,1377.7 1240.8,1377.7 1242.8,1377.7 1244.8,1377.7 1246.8,1377.7 1248.8,1377.8 1250.8,1377.8 1252.8,1377.8 1254.8,1377.8 1256.8,1377.8 1258.8,1377.8 1260.8,1377.8 1262.8,1377.8 1264.8,1377.8 1266.8,1377.8 1268.8,1377.8 1270.8,1377.8 1272.8,1377.8 1274.8,1377.8 1276.8,1377.8 1278.8,1377.8 1280.8,1377.8 1282.8,1377.8 1284.8,1377.8 1286.8,1377.8 1288.8,1377.8 1290.8,1377.8 1292.8,1377.8 1294.8,1377.8 1296.8,1377.8 1298.8,1377.8 1300.8,1377.8 1302.8,1377.8 1304.8,1377.8 1306.8,1377.8 1308.8,1377.8 1310.8,1377.8 1312.8,1377.8 1314.8,1377.8 1316.8,1377.8 1318.8,1377.8 1320.8,1377.8 1322.8,1377.8 1324.8,1377.8 1326.8,1377.8 1328.8,1377.8 1330.8,1377.8 1332.8,1377.8 1334.8,1377.8 1336.8,1377.8 1338.8,1377.8 1340.8,1377.8 1342.8,1377.8 1344.8,1377.8 1346.8,1377.8 1348.8,1377.8 1350.8,1377.8 1352.8,1377.8 1354.8,1377.8 1356.8,1377.8 1358.8,1377.8 1360.8,1377.8 1362.8,1377.8 1364.8,1377.8 1366.8,1377.8 1368.8,1377.8 1370.8,1377.8 1372.8,1377.8 1374.8,1377.8 1376.8,1377.8 1378.8,1377.8 1380.8,1377.9 1382.8,1377.9 1384.8,1377.9 1386.8,1377.9 1388.8,1377.9 1390.8,1377.9 1392.8,1377.9 1394.8,1377.9 1396.8,1377.9 1398.8,1377.9 1400.8,1377.9 1402.8,1377.9 1404.8,1377.9 1406.8,1377.9 1408.8,1377.9 1410.8,1377.9 1412.8,1377.9 1414.8,1377.9 1416.8,1377.9 1418.8,1377.9 1420.8,1377.9 1422.8,1377.9 1424.8,1377.9 1426.8,1377.9 1428.8,1377.9 1430.8,1377.9 1432.8,1377.9 1434.8,1377.9 1436.8,1377.9 1438.8,1377.9 1440.8,1377.9 1442.8,1377.9 1444.8,1377.9 1446.8,1377.9 1448.8,1377.9 1450.8,1377.9 1452.8,1377.9 1454.8,1377.9 1456.8,1377.9 1458.8,1377.9 1460.8,1377.9 1462.8,1377.9 1464.8,1377.9 1466.8,1377.9 1468.8,1377.9 1470.8,1377.9 1472.8,1377.9 1474.8,1377.9 1476.8,1377.9 1478.8,1377.9 1480.8,1377.9 1482.8,1377.9 1484.8,1377.9 1486.8,1377.9 1488.8,1377.9 1490.8,1377.9 1492.8,1377.9 1494.8,1377.9 1496.8,1377.9 1498.8,1377.9 1500.8,1377.9 1502.8,1377.9 1504.8,1377.9 1506.8,1377.9 1508.8,1377.9 1510.8,1377.9 1512.8,1377.9 1514.8,1377.9 1516.8,1377.9 1518.8,1377.9 1520.8,1377.9 1522.8,1377.9 1524.8,1377.9 1526.8,1377.9 1528.8,1377.9 1530.8,1377.9 1532.8,1377.9 1534.8,1377.9 1536.8,1377.9 1538.8,1377.9 1540.8,1377.9 1542.8,1377.9 1544.8,1377.9 1546.8,1377.9 1548.8,1377.9 1550.8,1377.9 1552.8,1377.9 1554.8,1377.9 1556.8,1377.9 1558.8,1377.9 1560.8,1377.9 1562.8,1377.9 1564.8,1377.9 1566.8,1377.9 1568.8,1377.9 1570.8,1377.9 1572.8,1377.9 1574.8,1377.9 1576.8,1377.9 1578.8,1377.9 1580.8,1377.9 1582.8,1377.9 1584.8,1377.9 1586.8,1377.9 1588.8,1377.9 1590.8,1377.9 1592.8,1377.9 1594.8,1377.9 1596.8,1377.9 1598.8,1377.9 1600.8,1377.9 1602.8,1377.9 1604.8,1377.9 1606.8,1377.9 1608.8,1377.9 1610.8,1377.9 1612.8,1377.9 1614.8,1377.9 1616.8,1377.9 1618.8,1377.9 1620.8,1377.9 1622.8,1377.9 1624.8,1377.9 1626.8,1377.9 1628.8,1377.9 1630.8,1377.9 1632.8,1377.9 1634.8,1377.9 1636.8,1377.9 1638.8,1377.9 1640.8,1377.9 1642.8,1377.9 1644.8,1377.9 1646.8,1377.9 1648.8,1377.9 1650.8,1377.9 1652.8,1377.9 1654.8,1377.9 1656.8,1377.9 1658.8,1377.9 1660.8,1377.9 1662.8,1377.9 1664.8,1377.9 1666.8,1377.9 1668.8,1377.9 1670.8,1377.9 1672.8,1377.9 1674.8,1377.9 1676.8,1377.9 1678.8,1377.9 1680.8,1377.9 1682.8,1377.9 1684.8,1377.9 1686.8,1377.9 1688.8,1377.9 1690.8,1377.9 1692.8,1377.9 1694.8,1377.9 1696.8,1377.9 1698.8,1377.9 1700.8,1377.9 1702.8,1377.9 1704.8,1377.9 1706.8,1377.9 1708.8,1377.9 1710.8,1377.9 1712.8,1377.9 1714.8,1377.9 1716.8,1377.9 1718.8,1377.9 1720.8,1377.9 1722.8,1377.9 1724.8,1377.9 1726.8,1377.9 1728.8,1377.9 1730.8,1377.9 1732.8,1377.9 1734.8,1377.9 1736.8,1377.9 1738.8,1377.9 1740.8,1377.9 1742.8,1377.9 1744.8,1377.9 1746.8,1377.9 1748.8,1377.9 1750.8,1377.9 1752.8,1377.9 1754.8,1377.9 1756.8,1377.9 1758.8,1377.9 1760.8,1377.9 1762.8,1377.9 1764.8,1377.9 1766.8,1377.9 1768.8,1377.9 1770.8,1377.9 1772.8,1377.9 1774.8,1377.9 1776.8,1377.9 1778.8,1377.9 1780.8,1377.9 1782.8,1377.9 1784.8,1377.9 1786.8,1377.9 1788.8,1377.9 1790.8,1377.9 1792.8,1377.9 1794.8,1377.9 1796.8,1377.9 1798.8,1377.9 1800.8,1377.9 1802.8,1377.9 1804.8,1377.9 1806.8,1377.9 1808.8,1378.0 1810.8,1378.0 1812.8,1378.0 1814.8,1378.0 1816.8,1378.0 1818.8,1378.0 1820.8,1378.0 1822.8,1378.0 1824.8,1378.0 1826.8,1378.0 1828.8,1378.0 1830.8,1378.0 1832.8,1378.0 1834.8,1378.0 1836.8,1378.0 1838.8,1378.0 1840.8,1378.0 1842.8,1378.0 1844.8,1378.0 1846.8,1378.0 1848.8,1378.0 1850.8,1378.0 1852.8,1378.0 1854.8,1378.0 1856.8,1378.0 1858.8,1378.0 1860.8,1378.0 1862.8,1378.0 1864.8,1378.0 1866.8,1378.0 1868.8,1378.0 1870.8,1378.0 1872.8,1378.0 1874.8,1378.0 1876.8,1378.0 1878.8,1378.0 1880.8,1378.0 1882.8,1378.0 1884.8,1378.0 1886.8,1378.0 1888.8,1378.0 1890.8,1378.0 1892.8,1378.0 1894.8,1378.0 1896.8,1378.0 1898.8,1378.0 1900.8,1378.0 1902.8,1378.0 1904.8,1378.0 1906.8,1378.0 1908.8,1378.0 1910.8,1378.0 1912.8,1378.0 1914.8,1378.0 1916.8,1378.0 1918.8,1378.0 1920.8,1378.0 1922.8,1378.0 1924.8,1378.0 1926.8,1378.0 1928.8,1378.0 1930.8,1378.0 1932.8,1378.0 1934.8,1378.0 1936.8,1378.0 1938.8,1378.0 1940.8,1378.0 1942.8,1378.0 1944.8,1378.0 1946.8,1378.0 1948.8,1378.0 1950.8,1378.0 1952.8,1378.0 1954.8,1378.0 1956.8,1378.0 1958.8,1378.0 1960.8,1378.0 1962.8,1378.0 1964.8,1378.0 1966.8,1378.0 1968.8,1378.0 1970.8,1378.0 1972.8,1378.0 1974.8,1378.0 1976.8,1378.0 1978.8,1378.0 1980.8,1378.0 1982.8,1378.0 1984.8,1378.0 1986.8,1378.0 1988.8,1378.0 1990.8,1378.0 1992.8,1378.0 1994.8,1378.0 1996.8,1378.0 1998.8,1378.0 2000.8,1378.0 2002.8,1378.0 2004.8,1378.0 2006.8,1378.0 2008.8,1378.0 2010.8,1378.0 2012.8,1378.0 2014.8,1378.0 2016.8,1378.0 2018.8,1378.0 2020.8,1378.0 2022.8,1378.0 2024.8,1378.0 2026.8,1378.0 2028.8,1378.0 2030.8,1378.0 2032.8,1378.0 2034.8,1378.0 2036.8,1378.0 2038.8,1378.0 2040.8,1378.0 2042.8,1378.0 2044.8,1378.0 2046.8,1378.0 2048.8,1378.0 2050.8,1378.0 2052.8,1378.0 2054.8,1378.0 2056.8,1378.0 2058.8,1378.0 2060.8,1378.0 2062.8,1378.0 2064.8,1378.0 2066.8,1378.0 2068.8,1378.0 2070.8,1378.0 2072.8,1378.0 2074.8,1378.0 2076.8,1378.0 2078.8,1378.0 2080.8,1378.0 2082.8,1378.0 2084.8,1378.0 2086.8,1378.0 2088.8,1378.0 2090.8,1378.0 2092.8,1378.0 2094.8,1378.0 2096.8,1378.0 2098.8,1378.0 2100.8,1378.0 2102.8,1378.0 2104.8,1378.0 2106.8,1378.0 2108.8,1378.0 2110.8,1378.0 2112.8,1378.0 2114.8,1378.0 2116.8,1378.0 2118.8,1378.0 2120.8,1378.0 2122.8,1378.0 2124.8,1378.0 2126.8,1378.0 2128.8,1378.0 2130.8,1378.0 2132.8,1378.0 2134.8,1378.0 2136.8,1378.0 2138.8,1378.0 2140.8,1378.0 2142.8,1378.0 2144.8,1378.0 2146.8,1378.0 2148.8,1378.0 2150.8,1378.0 2152.8,1378.0"/>
<polyline stroke="#000000" points="114.8,1378.0 116.8,1378.0 118.8,1378.0 120.8,1378.0 122.8,1378.0 124.8,1378.0 126.8,1378.0 128.8,1378.0 130.8,1378.0 132.8,1378.0 134.8,1378.0 136.8,1378.0 138.8,1378.0 140.8,1378.0 142.8,1378.0 144.8,1378.0 146.8,1378.0 148.8,1378.0 150.8,1378.0 152.8,1378.0 154.8,1378.0 156.8,1378.0 158.8,1378.0 160.8,1378.0 162.8,1378.0 164.8,1378.0 166.8,1378.0 168.8,1378.0 170.8,1378.0 172.8,1378.0 174.8,1378.0 176.8,1378.0 178.8,1378.0 180.8,1378.0 182.8,1378.0 184.8,1378.0 186.8,1378.0 188.8,1378.0 190.8,1378.0 192.8,1378.0 194.8,1378.0 196.8,1378.0 198.8,1378.0 200.8,1378.0 202.8,1378.0 204.8,1378.0 206.8,1378.0 208.8,1378.0 210.8,1378.0 212.8,1378.0 214.8,1378.0 216.8,1378.0 218.8,1378.0 220.8,1378.0 222.8,1378.0 224.8,1378.0 226.8,1378.0 228.8,1378.0 230.8,1378.0 232.8,1378.0 234.8,1378.0 236.8,1378.0 238.8,1378.0 240.8,1378.0 242.8,1378.0 244.8,1378.0 246.8,1378.0 248.8,1378.0 250.8,1378.0 252.8,1378.0 254.8,1378.0 256.8,1378.0 258.8,1378.0 260.8,1378.0 262.8,1378.0 264.8,1378.0 266.8,1378.0 268.8,1378.0 270.8,1378.0 272.8,1378.0 274.8,1378.0 276.8,1378.0 278.8,1378.0 280.8,1378.0 282.8,1378.0 284.8,1378.0 286.8,1378.0 288.8,1378.0 290.8,1378.0 292.8,1378.0 294.8,1378.0 296.8,1378.0 298.8,1378.0 300.8,1378.0 302.8,1378.0 304.8,1378.0 306.8,1378.0 308.8,1378.0 310.8,1378.0 312.8,1378.0 314.8,1378.0 316.8,1378.0 318.8,1378.0 320.8,1378.0 322.8,1378.0 324.8,1378.0 326.8,1378.0 328.8,1378.0 330.8,1378.0 332.8,1378.0 334.8,1378.0 336.8,1378.0 338.8,1378.0 340.8,1378.0 342.8,1378.0 344.8,1378.0 346.8,1378.0 348.8,1378.0 350.8,1378.0 352.8,1378.0 354.8,1378.0 356.8,1378.0 358.8,1378.0 360.8,1378.0 362.8,1378.0 364.8,1378.0 366.8,1378.0 368.8,1378.0 370.8,1378.0 372.8,1378.0 374.8,1378.0 376.8,1378.0 378.8,1378.0 380.8,1378.0 382.8,1378.0 384.8,1378.0 386.8,1378.0 388.8,1378.0 390.8,1378.0 392.8,1378.0 394.8,1378.0 396.8,1378.0 398.8,1378.0 400.8,1378.0 402.8,1378.0 404.8,1378.0 406.8,1378.0 408.8,1378.0 410.8,1378.0 412.8,1378.0 414.8,1378.0 416.8,1378.0 418.8,1378.0 420.8,1378.0 422.8,1378.0 424.8,1378.0 426.8,1378.0 428.8,1378.0 430.8,1378.0 432.8,1378.0 434.8,1378.0 436.8,1378.0 438.8,1378.0 440.8,1378.0 442.8,1378.0 444.8,1378.0 446.8,1378.0 448.8,1378.0 450.8,1378.0 452.8,1378.0 454.8,1378.0 456.8,1378.0 458.8,1378.0 460.8,1378.0 462.8,1378.0 464.8,1378.0 466.8,1378.0 468.8,1378.0 470.8,1378.0 472.8,1378.0 474.8,1378.0 476.8,1378.0 478.8,1378.0 480.8,1378.0 482.8,1378.0 484.8,1378.0 486.8,1378.0 488.8,1378.0 490.8,1378.0 492.8,1378.0 494.8,1378.0 496.8,1378.0 498.8,1378.0 500.8,1378.0 502.8,1378.0 504.8,1378.0 506.8,1378.0 508.8,1378.0 510.8,1378.0 512.8,1378.0 514.8,1378.0 516.8,1378.0 518.8,1378.0 520.8,1378.0 522.8,1378.0 524.8,1378.0 526.8,1378.0 528.8,1378.0 530.8,1378.0 532.8,1378.0 534.8,1378.0 536.8,1378.0 538.8,1378.0 540.8,1378.0 542.8,1378.0 544.8,1378.0 546.8,1378.0 548.8,1378.0 550.8,1378.0 552.8,1378.0 554.8,1378.0 556.8,1378.0 558.8,1378.0 560.8,1378.0 562.8,1378.0 564.8,1378.0 566.8,1378.0 568.8,1378.0 570.8,1378.0 572.8,1378.0 574.8,1378.0 576.8,1378.0 578.8,1378.0 580.8,1378.0 582.8,1378.0 584.8,1378.0 586.8,1378.0 588.8,1378.0 590.8,1378.0 592.8,1378.0 594.8,1378.0 596.8,1378.0 598.8,1378.0 600.8,1378.0 602.8,1377.9 604.8,1377.9 606.8,1377.9 608.8,1377.9 610.8,1377.9 612.8,1377.9 614.8,1377.9 616.8,1377.9 618.8,1377.8 620.8,1377.8 622.8,1377.8 624.8,1377.8 626.8,1377.7 628.8,1377.7 630.8,1377.7 632.8,1377.6 634.8,1377.6 636.8,1377.5 638.8,1377.5 640.8,1377.4 642.8,1377.3 644.8,1377.2 646.8,1377.2 648.8,1377.0 650.8,1376.9 652.8,1376.8 654.8,1376.7 656.8,1376.5 658.8,1376.3 660.8,1376.1 662.8,1375.9 664.8,1375.7 666.8,1375.4 668.8,1375.1 670.8,1374.8 672.8,1374.4 674.8,1374.1 676.8,1373.6 678.8,1373.2 680.8,1372.7 682.8,1372.1 684.8,1371.5 686.8,1370.8 688.8,1370.1 690.8,1369.3 692.8,1368.5 694.8,1367.5 696.8,1366.5 698.8,1365.4 700.8,1364.2 702.8,1362.9 704.8,1361.6 706.8,1360.1 708.8,1358.4 710.8,1356.7 712.8,1354.8 714.8,1352.8 716.8,1350.7 718.8,1348.4 720.8,1345.9 722.8,1343.3 724.8,1340.4 726.8,1337.4 728.8,1334.2 730.8,1330.8 732.8,1327.2 734.8,1323.3 736.8,1319.2 738.8,1314.9 740.8,1310.3 742.8,1305.5 744.8,1300.3 746.8,1295.0 748.8,1289.3 750.8,1283.3 752.8,1277.1 754.8,1270.5 756.8,1263.6 758.8,1256.4 760.8,1248.9 762.8,1241.0 764.8,1232.8 766.8,1224.3 768.8,1215.5 770.8,1206.3 772.8,1196.7 774.8,1186.9 776.8,1176.7 778.8,1166.1 780.8,1155.3 782.8,1144.1 784.8,1132.6 786.8,1120.8 788.8,1108.7 790.8,1096.3 792.8,1083.7 794.8,1070.8 796.8,1057.6 798.8,1044.2 800.8,1030.6 802.8,1016.8 804.8,1002.9 806.8,988.8 808.8,974.6 810.8,960.3 812.8,945.9 814.8,931.4 816.8,917.0 818.8,902.6 820.8,888.2 822.8,873.9 824.8,859.6 826.8,845.6 828.8,831.7 830.8,818.0 832.8,804.5 834.8,791.3 836.8,778.4 838.8,765.9 840.8,753.7 842.8,741.9 844.8,730.5 846.8,719.7 848.8,709.3 850.8,699.4 852.8,690.1 854.8,681.4 856.8,673.2 858.8,665.8 860.8,658.9 862.8,652.7 864.8,647.3 866.8,642.5 868.8,638.4 870.8,635.1 872.8,632.6 874.8,630.8 876.8,629.7 878.8,629.5 880.8,630.0 882.8,631.3 884.8,633.3 886.8,636.1 888.8,639.7 890.8,644.0 892.8,649.0 894.8,654.7 896.8,661.1 898.8,668.1 900.8,675.8 902.8,684.1 904.8,693.1 906.8,702.5 908.8,712.6 910.8,723.1 912.8,734.2 914.8,745.7 916.8,757.6 918.8,769.9 920.8,782.6 922.8,795.5 924.8,808.8 926.8,822.4 928.8,836.1 930.8,850.1 932.8,864.2 934.8,878.5 936.8,892.8 938.8,907.2 940.8,921.7 942.8,936.1 944.8,950.5 946.8,964.9 948.8,979.2 950.8,993.4 952.8,1007.4 954.8,1021.3 956.8,1035.0 958.8,1048.6 960.8,1061.9 962.8,1075.0 964.8,1087.8 966.8,1100.4 968.8,1112.6 970.8,1124.6 972.8,1136.4 974.8,1147.7 976.8,1158.8 978.8,1169.6 980.8,1180.0 982.8,1190.1 984.8,1199.9 986.8,1209.3 988.8,1218.4 990.8,1227.1 992.8,1235.5 994.8,1243.6 996.8,1251.3 998.8,1258.8 1000.8,1265.9 1002.8,1272.6 1004.8,1279.1 1006.8,1285.3 1008.8,1291.2 1010.8,1296.7 1012.8,1302.0 1014.8,1307.1 1016.8,1311.8 1018.8,1316.3 1020.8,1320.6 1022.8,1324.6 1024.8,1328.4 1026.8,1331.9 1028.8,1335.3 1030.8,1338.4 1032.8,1341.4 1034.8,1344.1 1036.8,1346.7 1038.8,1349.1 1040.8,1351.4 1042.8,1353.5 1044.8,1355.5 1046.8,1357.3 1048.8,1359.0 1050.8,1360.6 1052.8,1362.0 1054.8,1363.4 1056.8,1364.6 1058.8,1365.8 1060.8,1366.9 1062.8,1367.8 1064.8,1368.7 1066.8,1369.6 1068.8,1370.3 1070.8,1371.0 1072.8,1371.7 1074.8,1372.3 1076.8,1372.8 1078.8,1373.3 1080.8,1373.8 1082.8,1374.2 1084.8,1374.6 1086.8,1374.9 1088.8,1375.2 1090.8,1375.5 1092.8,1375.7 1094.8,1376.0 1096.8,1376.2 1098.8,1376.4 1100.8,1376.6 1102.8,1376.7 1104.8,1376.8 1106.8,1377.0 1108.8,1377.1 1110.8,1377.2 1112.8,1377.3 1114.8,1377.4 1116.8,1377.4 1118.8,1377.5 1120.8,1377.6 1122.8,1377.6 1124.8,1377.6 1126.8,1377.7 1128.8,1377.7 1130.8,1377.8 1132.8,1377.8 1134.8,1377.8 1136.8,1377.8 1138.8,1377.9 1140.8,1377.9 1142.8,1377.9 1144.8,1377.9 1146.8,1377.9 1148.8,1377.9 1150.8,1377.9 1152.8,1377.9 1154.8,1378.0 1156.8,1378.0 1158.8,1378.0 1160.8,1378.0 1162.8,1378.0 1164.8,1378.0 1166.8,1378.0 1168.8,1378.0 1170.8,1378.0 1172.8,1378.0 1174.8,1378.0 1176.8,1378.0 1178.8,1378.0 1180.8,1378.0 1182.8,1378.0 1184.8,1378.0 1186.8,1378.0 1188.8,1378.0 1190.8,1378.0 1192.8,1378.0 1194.8,1378.0 1196.8,1378.0 1198.8,1378.0 1200.8,1378.0 1202.8,1378.0 1204.8,1378.0 1206.8,1378.0 1208.8,1378.0 1210.8,1378.0 1212.8,1378.0 1214.8,1378.0 1216.8,1378.0 1218.8,1378.0 1220.8,1378.0 1222.8,1378.0 1224.8,1378.0 1226.8,1378.0 1228.8,1378.0 1230.8,1378.0 1232.8,1378.0 1234.8,1378.0 1236.8,1378.0 1238.8,1378.0 1240.8,1378.0 1242.8,1378.0 1244.8,1378.0 1246.8,1378.0 1248.8,1378.0 1250.8,1378.0 1252.8,1378.0 1254.8,1378.0 1256.8,1378.0 1258.8,1378.0 1260.8,1378.0 1262.8,1378.0 1264.8,1378.0 1266.8,1378.0 1268.8,1378.0 1270.8,1378.0 1272.8,1378.0 1274.8,1378.0 1276.8,1378.0 1278.8,1378.0 1280.8,1378.0 1282.8,1378.0 1284.8,1378.0 1286.8,1378.0 1288.8,1378.0 1290.8,1378.0 1292.8,1378.0 1294.8,1378.0 1296.8,1378.0 1298.8,1378.0 1300.8,1378.0 1302.8,1378.0 1304.8,1378.0 1306.8,1378.0 1308.8,1378.0 1310.8,1378.0 1312.8,1378.0 1314.8,1378.0 1316.8,1378.0 1318.8,1378.0 1320.8,1378.0 1322.8,1378.0 1324.8,1378.0 1326.8,1378.0 1328.8,1378.0 1330.8,1378.0 1332.8,1378.0 1334.8,1378.0 1336.8,1378.0 1338.8,1378.0 1340.8,1378.0 1342.8,1378.0 1344.8,1378.0 1346.8,1378.0 1348.8,1378.0 1350.8,1378.0 1352.8,1378.0 1354.8,1378.0 1356.8,1378.0 1358.8,1378.0 1360.8,1378.0 1362.8,1378.0 1364.8,1378.0 1366.8,1378.0 1368.8,1378.0 1370.8,1378.0 1372.8,1378.0 1374.8,1378.0 1376.8,1378.0 1378.8,1378.0 1380.8,1378.0 1382.8,1378.0 1384.8,1378.0 1386.8,1378.0 1388.8,1378.0 1390.8,1378.0 1392.8,1378.0 1394.8,1378.0 1396.8,1378.0 1398.8,1378.0 1400.8,1378.0 1402.8,1378.0 1404.8,1378.0 1406.8,1378.0 1408.8,1378.0 1410.8,1378.0 1412.8,1378.0 1414.8,1378.0 1416.8,1378.0 1418.8,1378.0 1420.8,1378.0 1422.8,1378.0 1424.8,1378.0 1426.8,1378.0 1428.8,1378.0 1430.8,1378.0 1432.8,1378.0 1434.8,1378.0 1436.8,1378.0 1438.8,1378.0 1440.8,1378.0 1442.8,1378.0 1444.8,1378.0 1446.8,1378.0 1448.8,1378.0 1450.8,1378.0 1452.8,1378.0 1454.8,1378.0 1456.8,1378.0 1458.8,1378.0 1460.8,1378.0 1462.8,1378.0 1464.8,1378.0 1466.8,1378.0 1468.8,1378.0 1470.8,1378.0 1472.8,1378.0 1474.8,1378.0 1476.8,1378.0 1478.8,1378.0 1480.8,1378.0 1482.8,1378.0 1484.8,1378.0 1486.8,1378.0 1488.8,1378.0 1490.8,1378.0 1492.8,1378.0 1494.8,1378.0 1496.8,1378.0 1498.8,1378.0 1500.8,1378.0 1502.8,1378.0 1504.8,1378.0 1506.8,1378.0 1508.8,1378.0 1510.8,1378.0 1512.8,1378.0 1514.8,1378.0 1516.8,1378.0 1518.8,1378.0 1520.8,1378.0 1522.8,1378.0 1524.8,1378.0 1526.8,1378.0 1528.8,1378.0 1530.8,1378.0 1532.8,1378.0 1534.8,1378.0 1536.8,1378.0 1538.8,1378.0 1540.8,1378.0 1542.8,1378.0 1544.8,1378.0 1546.8,1378.0 1548.8,1378.0 1550.8,1378.0 1552.8,1378.0 1554.8,1378.0 1556.8,1378.0 1558.8,1378.0 1560.8,1378.0 1562.8,1378.0 1564.8,1378.0 1566.8,1378.0 1568.8,1378.0 1570.8,1378.0 1572.8,1378.0 1574.8,1378.0 1576.8,1378.0 1578.8,1378.0 1580.8,1378.0 1582.8,1378.0 1584.8,1378.0 1586.8,1378.0 1588.8,1378.0 1590.8,1378.0 1592.8,1378.0 1594.8,1378.0 1596.8,1378.0 1598.8,1378.0 1600.8,1378.0 1602.8,1378.0 1604.8,1378.0 1606.8,1378.0 1608.8,1378.0 1610.8,1378.0 1612.8,1378.0 1614.8,1378.0 1616.8,1378.0 1618.8,1378.0 1620.8,1378.0 1622.8,1378.0 1624.8,1378.0 1626.8,1378.0 1628.8,1378.0 1630.8,1378.0 1632.8,1378.0 1634.8,1378.0 1636.8,1378.0 1638.8,1378.0 1640.8,1378.0 1642.8,1378.0 1644.8,1378.0 1646.8,1378.0 1648.8,1378.0 1650.8,1378.0 1652.8,1378.0 1654.8,1378.0 1656.8,1378.0 1658.8,1378.0 1660.8,1378.0 1662.8,1378.0 1664.8,1378.0 1666.8,1378.0 1668.8,1378.0 1670.8,1378.0 1672.8,1378.0 1674.8,1378.0 1676.8,1378.0 1678.8,1378.0 1680.8,1378.0 1682.8,1378.0 1684.8,1378.0 1686.8,1378.0 1688.8,1378.0 1690.8,1378.0 1692.8,1378.0 1694.8,1378.0 1696.8,1378.0 1698.8,1378.0 1700.8,1378.0 1702.8,1378.0 1704.8,1378.0 1706.8,1378.0 1708.8,1378.0 1710.8,1378.0 1712.8,1378.0 1714.8,1378.0 1716.8,1378.0 1718.8,1378.0 1720.8,1378.0 1722.8,1378.0 1724.8,1378.0 1726.8,1378.0 1728.8,1378.0 1730.8,1378.0 1732.8,1378.0 1734.8,1378.0 1736.8,1378.0 1738.8,1378.0 1740.8,1378.0 1742.8,1378.0 1744.8,1378.0 1746.8,1378.0 1748.8,1378.0 1750.8,1378.0 1752.8,1378.0 1754.8,1378.0 1756.8,1378.0 1758.8,1378.0 1760.8,1378.0 1762.8,1378.0 1764.8,1378.0 1766.8,1378.0 1768.8,1378.0 1770.8,1378.0 1772.8,1378.0 1774.8,1378.0 1776.8,1378.0 1778.8,1378.0 1780.8,1378.0 1782.8,1378.0 1784.8,1378.0 1786.8,1378.0 1788.8,1378.0 1790.8,1378.0 1792.8,1378.0 1794.8,1378.0 1796.8,1378.0 1798.8,1378.0 1800.8,1378.0 1802.8,1378.0 1804.8,1378.0 1806.8,1378.0 1808.8,1378.0 1810.8,1378.0 1812.8,1378.0 1814.8,1378.0 1816.8,1378.0 1818.8,1378.0 1820.8,1378.0 1822.8,1378.0 1824.8,1378.0 1826.8,1378.0 1828.8,1378.0 1830.8,1378.0 1832.8,1378.0 1834.8,1378.0 1836.8,1378.0 1838.8,1378.0 1840.8,1378.0 1842.8,1378.0 1844.8,1378.0 1846.8,1378.0 1848.8,1378.0 1850.8,1378.0 1852.8,1378.0 1854.8,1378.0 1856.8,1378.0 1858.8,1378.0 1860.8,1378.0 1862.8,1378.0 1864.8,1378.0 1866.8,1378.0 1868.8,1378.0 1870.8,1378.0 1872.8,1378.0 1874.8,1378.0 1876.8,1378.0 1878.8,1378.0 1880.8,1378.0 1882.8,1378.0 1884.8,1378.0 1886.8,1378.0 1888.8,1378.0 1890.8,1378.0 1892.8,1378.0 1894.8,1378.0 1896.8,1378.0 1898.8,1378.0 1900.8,1378.0 1902.8,1378.0 1904.8,1378.0 1906.8,1378.0 1908.8,1378.0 1910.8,1378.0 1912.8,1378.0 1914.8,1378.0 1916.8,1378.0 1918.8,1378.0 1920.8,1378.0 1922.8,1378.0 1924.8,1378.0 1926.8,1378.0 1928.8,1378.0 1930.8,1378.0 1932.8,1378.0 1934.8,1378.0 1936.8,1378.0 1938.8,1378.0 1940.8,1378.0 1942.8,1378.0 1944.8,1378.0 1946.8,1378.0 1948.8,1378.0 1950.8,1378.0 1952.8,1378.0 1954.8,1378.0 1956.8,1378.0 1958.8,1378.0 1960.8,1378.0 1962.8,1378.0 1964.8,1378.0 1966.8,1378.0 1968.8,1378.0 1970.8,1378.0 1972.8,1378.0 1974.8,1378.0 1976.8,1378.0 1978.8,1378.0 1980.8,1378.0 1982.8,1378.0 1984.8,1378.0 1986.8,1378.0 1988.8,1378.0 1990.8,1378.0 1992.8,1378.0 1994.8,1378.0 1996.8,1378.0 1998.8,1378.0 2000.8,1378.0 2002.8,1378.0 2004.8,1378.0 2006.8,1378.0 2008.8,1378.0 2010.8,1378.0 2012.8,1378.0 2014.8,1378.0 2016.8,1378.0 2018.8,1378.0 2020.8,1378.0 2022.8,1378.0 2024.8,1378.0 2026.8,1378.0 2028.8,1378.0 2030.8,1378.0 2032.8,1378.0 2034.8,1378.0 2036.8,1378.0 2038.8,1378.0 2040.8,1378.0 2042.8,1378.0 2044.8,1378.0 2046.8,1378.0 2048.8,1378.0 2050.8,1378.0 2052.8,1378.0 2054.8,1378.0 2056.8,1378.0 2058.8,1378.0 2060.8,1378.0 2062.8,1378.0 2064.8,1378.0 2066.8,1378.0 2068.8,1378.0 2070.8,1378.0 2072.8,1378.0 2074.8,1378.0 2076.8,1378.0 2078.8,1378.0 2080.8,1378.0 2082.8,1378.0 2084.8,1378.0 2086.8,1378.0 2088.8,1378.0 2090.8,1378.0 2092.8,1378.0 2094.8,1378.0 2096.8,1378.0 2098.8,1378.0 2100.8,1378.0 2102.8,1378.0 2104.8,1378.0 2106.8,1378.0 2108.8,1378.0 2110.8,1378.0 2112.8,1378.0 2114.8,1378.0 2116.8,1378.0 2118.8,1378.0 2120.8,1378.0 2122.8,1378.0 2124.8,1378.0 2126.8,1378.0 2128.8,1378.0 2130.8,1378.0 2132.8,1378.0 2134.8,1378.0 2136.8,1378.0 2138.8,1378.0 2140.8,1378.0 2142.8,1378.0 2144.8,1378.0 2146.8,1378.0 2148.8,1378.0 2150.8,1378.0 2152.8,1378.0"/>
<polyline stroke="#008000" points="114.8,1378.0 116.8,1378.0 118.8,1378.0 120.8,1378.0 122.8,1378.0 124.8,1378.0 126.8,1378.0 128.8,1378.0 130.8,1378.0 132.8,1378.0 134.8,1378.0 136.8,1378.0 138.8,1378.0 140.8,1378.0 142.8,1378.0 144.8,1378.0 146.8,1378.0 148.8,1378.0 150.8,1378.0 152.8,1378.0 154.8,1378.0 156.8,1378.0 158.8,1378.0 160.8,1378.0 162.8,1378.0 164.8,1378.0 166.8,1378.0 168.8,1378.0 170.8,1378.0 172.8,1378.0 174.8,1378.0 176.8,1378.0 178.8,1378.0 180.8,1378.0 182.8,1378.0 184.8,1378.0 186.8,1378.0 188.8,1378.0 190.8,1378.0 192.8,1378.0 194.8,1378.0 196.8,1378.0 198.8,1378.0 200.8,1378.0 202.8,1378.0 204.8,1378.0 206.8,1378.0 208.8,1378.0 210.8,1378.0 212.8,1378.0 214.8,1378.0 216.8,1378.0 218.8,1378.0 220.8,1378.0 222.8,1378.0 224.8,1378.0 226.8,1378.0 228.8,1378.0 230.8,1378.0 232.8,1378.0 234.8,1378.0 236.8,1378.0 238.8,1378.0 240.8,1378.0 242.8,1378.0 244.8,1378.0 246.8,1378.0 248.8,1378.0 250.8,1378.0 252.8,1378.0 254.8,1378.0 256.8,1378.0 258.8,1378.0 260.8,1378.0 262.8,1378.0 264.8,1378.0 266.8,1378.0 268.8,1378.0 270.8,1378.0 272.8,1378.0 274.8,1378.0 276.8,1378.0 278.8,1378.0 280.8,1378.0 282.8,1378.0 284.8,1378.0 286.8,1378.0 288.8,1378.0 290.8,1378.0 292.8,1378.0 294.8,1378.0 296.8,1378.0 298.8,1378.0 300.8,1378.0 302.8,1378.0 304.8,1378.0 306.8,1378.0 308.8,1378.0 310.8,1378.0 312.8,1378.0 314.8,1378.0 316.8,1378.0 318.8,1378.0 320.8,1378.0 322.8,1378.0 324.8,1378.0 326.8,1378.0 328.8,1378.0 330.8,1378.0 332.8,1378.0 334.8,1378.0 336.8,1378.0 338.8,1378.0 340.8,1378.0 342.8,1378.0 344.8,1378.0 346.8,1378.0 348.8,1378.0 350.8,1378.0 352.8,1378.0 354.8,1378.0 356.8,1378.0 358.8,1378.0 360.8,1378.0 362.8,1378.0 364.8,1378.0 366.8,1378.0 368.8,1378.0 370.8,1378.0 372.8,1378.0 374.8,1378.0 376.8,1378.0 378.8,1378.0 380.8,1378.0 382.8,1378.0 384.8,1378.0 386.8,1378.0 388.8,1378.0 390.8,1378.0 392.8,1378.0 394.8,1378.0 396.8,1378.0 398.8,1378.0 400.8,1378.0 402.8,1378.0 404.8,1378.0 406.8,1378.0 408.8,1378.0 410.8,1378.0 412.8,1378.0 414.8,1378.0 416.8,1378.0 418.8,1378.0 420.8,1378.0 422.8,1378.0 424.8,1378.0 426.8,1378.0 428.8,1378.0 430.8,1378.0 432.8,1378.0 434.8,1378.0 436.8,1378.0 438.8,1378.0 440.8,1378.0 442.8,1378.0 444.8,1378.0 446.8,1378.0 448.8,1378.0 450.8,1378.0 452.8,1378.0 454.8,1378.0 456.8,1378.0 458.8,1378.0 460.8,1378.0 462.8,1378.0 464.8,1378.0 466.8,1378.0 468.8,1378.0 470.8,1378.0 472.8,1378.0 474.8,1378.0 476.8,1378.0 478.8,1378.0 480.8,1378.0 482.8,1378.0 484.8,1378.0 486.8,1378.0 488.8,1378.0 490.8,1378.0 492.8,1378.0 494.8,1378.0 496.8,1378.0 498.8,1378.0 500.8,1378.0 502.8,1378.0 504.8,1378.0 506.8,1378.0 508.8,1378.0 510.8,1378.0 512.8,1378.0 514.8,1378.0 516.8,1378.0 518.8,1378.0 520.8,1378.0 522.8,1378.0 524.8,1378.0 526.8,1378.0 528.8,1378.0 530.8,1378.0 532.8,1378.0 534.8,1378.0 536.8,1378.0 538.8,1378.0 540.8,1378.0 542.8,1378.0 544.8,1378.0 546.8,1378.0 548.8,1378.0 550.8,1378.0 552.8,1378.0 554.8,1378.0 556.8,1378.0 558.8,1378.0 560.8,1378.0 562.8,1378.0 564.8,1378.0 566.8,1378.0 568.8,1378.0 570.8,1378.0 572.8,1378.0 574.8,1378.0 576.8,1378.0 578.8,1378.0 580.8,1378.0 582.8,1378.0 584.8,1378.0 586.8,1378.0 588.8,1378.0 590.8,1378.0 592.8,1378.0 594.8,1378.0 596.8,1378.0 598.8,1378.0 600.8,1378.0 602.8,1378.0 604.8,1378.0 606.8,1378.0 608.8,1378.0 610.8,1378.0 612.8,1378.0 614.8,1378.0 616.8,1378.0 618.8,1378.0 620.8,1378.0 622.8,1378.0 624.8,1378.0 626.8,1378.0 628.8,1378.0 630.8,1378.0 632.8,1378.0 634.8,1378.0 636.8,1378.0 638.8,1378.0 640.8,1378.0 642.8,1378.0 644.8,1378.0 646.8,1378.0 648.8,1378.0 650.8,1378.0 652.8,1378.0 654.8,1378.0 656.8,1378.0 658.8,1378.0 660.8,1378.0 662.8,1378.0 664.8,1377.9 666.8,1377.9 668.8,1377.9 670.8,1377.9 672.8,1377.9 674.8,1377.9 676.8,1377.9 678.8,1377.9 680.8,1377.9 682.8,1377.9 684.8,1377.8 686.8,1377.8 688.8,1377.8 690.8,1377.8 692.8,1377.8 694.8,1377.8 696.8,1377.7 698.8,1377.7 700.8,1377.7 702.8,1377.6 704.8,1377.6 706.8,1377.6 708.8,1377.5 710.8,1377.5 712.8,1377.4 714.8,1377.4 716.8,1377.3 718.8,1377.3 720.8,1377.2 722.8,1377.1 724.8,1377.0 726.8,1376.9 728.8,1376.8 730.8,1376.7 732.8,1376.6 734.8,1376.5 736.8,1376.4 738.8,1376.2 740.8,1376.1 742.8,1375.9 744.8,1375.7 746.8,1375.5 748.8,1375.3 750.8,1375.1 752.8,1374.9 754.8,1374.6 756.8,1374.3 758.8,1374.0 760.8,1373.7 762.8,1373.4 764.8,1373.0 766.8,1372.6 768.8,1372.2 770.8,1371.8 772.8,1371.3 774.8,1370.8 776.8,1370.2 778.8,1369.7 780.8,1369.0 782.8,1368.4 784.8,1367.7 786.8,1366.9 788.8,1366.1 790.8,1365.3 792.8,1364.4 794.8,1363.5 796.8,1362.5 798.8,1361.4 800.8,1360.3 802.8,1359.1 804.8,1357.8 806.8,1356.5 808.8,1355.1 810.8,1353.6 812.8,1352.0 814.8,1350.4 816.8,1348.6 818.8,1346.8 820.8,1344.9 822.8,1342.8 824.8,1340.7 826.8,1338.5 828.8,1336.1 830.8,1333.7 832.8,1331.1 834.8,1328.4 836.8,1325.6 838.8,1322.7 840.8,1319.6 842.8,1316.4 844.8,1313.0 846.8,1309.6 848.8,1305.9 850.8,1302.1 852.8,1298.2 854.8,1294.1 856.8,1289.9 858.8,1285.5 860.8,1280.9 862.8,1276.2 864.8,1271.3 866.8,1266.2 868.8,1260.9 870.8,1255.5 872.8,1249.9 874.8,1244.2 876.8,1238.2 878.8,1232.1 880.8,1225.8 882.8,1219.3 884.8,1212.7 886.8,1205.8 888.8,1198.8 890.8,1191.6 892.8,1184.3 894.8,1176.7 896.8,1169.0 898.8,1161.2 900.8,1153.2 902.8,1145.0 904.8,1136.6 906.8,1128.2 908.8,1119.5 910.8,1110.8 912.8,1101.9 914.8,1092.9 916.8,1083.7 918.8,1074.5 920.8,1065.1 922.8,1055.7 924.8,1046.2 926.8,1036.6 928.8,1026.9 930.8,1017.2 932.8,1007.4 934.8,997.7 936.8,987.8 938.8,978.0 940.8,968.2 942.8,958.4 944.8,948.6 946.8,938.9 948.8,929.2 950.8,919.6 952.8,910.1 954.8,900.7 956.8,891.4 958.8,882.2 960.8,873.1 962.8,864.2 964.8,855.5 966.8,847.0 968.8,838.6 970.8,830.5 972.8,822.6 974.8,815.0 976.8,807.6 978.8,800.4 980.8,793.6 982.8,787.0 984.8,780.8 986.8,774.9 988.8,769.3 990.8,764.0 992.8,759.1 994.8,754.6 996.8,750.5 998.8,746.8 1000.8,743.4 1002.8,740.5 1004.8,738.0 1006.8,735.9 1008.8,734.2 1010.8,733.0 1012.8,732.3 1014.8,732.0 1016.8,732.3 1018.8,733.0 1020.8,734.2 1022.8,735.9 1024.8,738.0 1026.8,740.5 1028.8,743.4 1030.8,746.8 1032.8,750.5 1034.8,754.6 1036.8,759.1 1038.8,764.0 1040.8,769.3 1042.8,774.9 1044.8,780.8 1046.8,787.0 1048.8,793.6 1050.8,800.4 1052.8,807.6 1054.8,815.0 1056.8,822.6 1058.8,830.5 1060.8,838.6 1062.8,847.0 1064.8,855.5 1066.8,864.2 1068.8,873.1 1070.8,882.2 1072.8,891.4 1074.8,900.7 1076.8,910.1 1078.8,919.6 1080.8,929.2 1082.8,938.9 1084.8,948.6 1086.8,958.4 1088.8,968.2 1090.8,978.0 1092.8,987.8 1094.8,997.7 1096.8,1007.4 1098.8,1017.2 1100.8,1026.9 1102.8,1036.6 1104.8,1046.2 1106.8,1055.7 1108.8,1065.1 1110.8,1074.5 1112.8,1083.7 1114.8,1092.9 1116.8,1101.9 1118.8,1110.8 1120.8,1119.5 1122.8,1128.2 1124.8,1136.6 1126.8,1145.0 1128.8,1153.2 1130.8,1161.2 1132.8,1169.0 1134.8,1176.7 1136.8,1184.3 1138.8,1191.6 1140.8,1198.8 1142.8,1205.8 1144.8,1212.7 1146.8,1219.3 1148.8,1225.8 1150.8,1232.1 1152.8,1238.2 1154.8,1244.2 1156.8,1249.9 1158.8,1255.5 1160.8,1260.9 1162.8,1266.2 1164.8,1271.3 1166.8,1276.2 1168.8,1280.9 1170.8,1285.5 1172.8,1289.9 1174.8,1294.1 1176.8,1298.2 1178.8,1302.1 1180.8,1305.9 1182.8,1309.6 1184.8,1313.0 1186.8,1316.4 1188.8,1319.6 1190.8,1322.7 1192.8,1325.6 1194.8,1328.4 1196.8,1331.1 1198.8,1333.7 1200.8,1336.1 1202.8,1338.5 1204.8,1340.7 1206.8,1342.8 1208.8,1344.9 1210.8,1346.8 1212.8,1348.6 1214.8,1350.4 1216.8,1352.0 1218.8,1353.6 1220.8,1355.1 1222.8,1356.5 1224.8,1357.8 1226.8,1359.1 1228.8,1360.3 1230.8,1361.4 1232.8,1362.5 1234.8,1363.5 1236.8,1364.4 1238.8,1365.3 1240.8,1366.1 1242.8,1366.9 1244.8,1367.7 1246.8,1368.4 1248.8,1369.0 1250.8,1369.7 1252.8,1370.2 1254.8,1370.8 1256.8,1371.3 1258.8,1371.8 1260.8,1372.2 1262.8,1372.6 1264.8,1373.0 1266.8,1373.4 1268.8,1373.7 1270.8,1374.0 1272.8,1374.3 1274.8,1374.6 1276.8,1374.9 1278.8,1375.1 1280.8,1375.3 1282.8,1375.5 1284.8,1375.7 1286.8,1375.9 1288.8,1376.1 1290.8,1376.2 1292.8,1376.4 1294.8,1376.5 1296.8,1376.6 1298.8,1376.7 1300.8,1376.8 1302.8,1376.9 1304.8,1377.0 1306.8,1377.1 1308.8,1377.2 1310.8,1377.3 1312.8,1377.3 1314.8,1377.4 1316.8,1377.4 1318.8,1377.5 1320.8,1377.5 1322.8,1377.6 1324.8,1377.6 1326.8,1377.6 1328.8,1377.7 1330.8,1377.7 1332.8,1377.7 1334.8,1377.8 1336.8,1377.8 1338.8,1377.8 1340.8,1377.8 1342.8,1377.8 1344.8,1377.8 1346.8,1377.9 1348.8,1377.9 1350.8,1377.9 1352.8,1377.9 1354.8,1377.9 1356.8,1377.9 1358.8,1377.9 1360.8,1377.9 1362.8,1377.9 1364.8,1377.9 1366.8,1378.0 1368.8,1378.0 1370.8,1378.0 1372.8,1378.0 1374.8,1378.0 1376.8,1378.0 1378.8,1378.0 1380.8,1378.0 1382.8,1378.0 1384.8,1378.0 1386.8,1378.0 1388.8,1378.0 1390.8,1378.0 1392.8,1378.0 1394.8,1378.0 1396.8,1378.0 1398.8,1378.0 1400.8,1378.0 1402.8,1378.0 1404.8,1378.0 1406.8,1378.0 1408.8,1378.0 1410.8,1378.0 1412.8,1378.0 1414.8,1378.0 1416.8,1378.0 1418.8,1378.0 1420.8,1378.0 1422.8,1378.0 1424.8,1378.0 1426.8,1378.0 1428.8,1378.0 1430.8,1378.0 1432.8,1378.0 1434.8,1378.0 1436.8,1378.0 1438.8,1378.0 1440.8,1378.0 1442.8,1378.0 1444.8,1378.0 1446.8,1378.0 1448.8,1378.0 1450.8,1378.0 1452.8,1378.0 1454.8,1378.0 1456.8,1378.0 1458.8,1378.0 1460.8,1378.0 1462.8,1378.0 1464.8,1378.0 1466.8,1378.0 1468.8,1378.0 1470.8,1378.0 1472.8,1378.0 1474.8,1378.0 1476.8,1378.0 1478.8,1378.0 1480.8,1378.0 1482.8,1378.0 1484.8,1378.0 1486.8,1378.0 1488.8,1378.0 1490.8,1378.0 1492.8,1378.0 1494.8,1378.0 1496.8,1378.0 1498.8,1378.0 1500.8,1378.0 1502.8,1378.0 1504.8,1378.0 1506.8,1378.0 1508.8,1378.0 1510.8,1378.0 1512.8,1378.0 1514.8,1378.0 1516.8,1378.0 1518.8,1378.0 1520.8,1378.0 1522.8,1378.0 1524.8,1378.0 1526.8,1378.0 1528.8,1378.0 1530.8,1378.0 1532.8,1378.0 1534.8,1378.0 1536.8,1378.0 1538.8,1378.0 1540.8,1378.0 1542.8,1378.0 1544.8,1378.0 1546.8,1378.0 1548.8,1378.0 1550.8,1378.0 1552.8,1378.0 1554.8,1378.0 1556.8,1378.0 1558.8,1378.0 1560.8,1378.0 1562.8,1378.0 1564.8,1378.0 1566.8,1378.0 1568.8,1378.0 1570.8,1378.0 1572.8,1378.0 1574.8,1378.0 1576.8,1378.0 1578.8,1378.0 1580.8,1378.0 1582.8,1378.0 1584.8,1378.0 1586.8,1378.0 1588.8,1378.0 1590.8,1378.0 1592.8,1378.0 1594.8,1378.0 1596.8,1378.0 1598.8,1378.0 1600.8,1378.0 1602.8,1378.0 1604.8,1378.0 1606.8,1378.0 1608.8,1378.0 1610.8,1378.0 1612.8,1378.0 1614.8,1378.0 1616.8,1378.0 1618.8,1378.0 1620.8,1378.0 1622.8,1378.0 1624.8,1378.0 1626.8,1378.0 1628.8,1378.0 1630.8,1378.0 1632.8,1378.0 1634.8,1378.0 1636.8,1378.0 1638.8,1378.0 1640.8,1378.0 1642.8,1378.0 1644.8,1378.0 1646.8,1378.0 1648.8,1378.0 1650.8,1378.0 1652.8,1378.0 1654.8,1378.0 1656.8,1378.0 1658.8,1378.0 1660.8,1378.0 1662.8,1378.0 1664.8,1378.0 1666.8,1378.0 1668.8,1378.0 1670.8,1378.0 1672.8,1378.0 1674.8,1378.0 1676.8,1378.0 1678.8,1378.0 1680.8,1378.0 1682.8,1378.0 1684.8,1378.0 1686.8,1378.0 1688.8,1378.0 1690.8,1378.0 1692.8,1378.0 1694.8,1378.0 1696.8,1378.0 1698.8,1378.0 1700.8,1378.0 1702.8,1378.0 1704.8,1378.0 1706.8,1378.0 1708.8,1378.0 1710.8,1378.0 1712.8,1378.0 1714.8,1378.0 1716.8,1378.0 1718.8,1378.0 1720.8,1378.0 1722.8,1378.0 1724.8,1378.0 1726.8,1378.0 1728.8,1378.0 1730.8,1378.0 1732.8,1378.0 1734.8,1378.0 1736.8,1378.0 1738.8,1378.0 1740.8,1378.0 1742.8,1378.0 1744.8,1378.0 1746.8,1378.0 1748.8,1378.0 1750.8,1378.0 1752.8,1378.0 1754.8,1378.0 1756.8,1378.0 1758.8,1378.0 1760.8,1378.0 1762.8,1378.0 1764.8,1378.0 1766.8,1378.0 1768.8,1378.0 1770.8,1378.0 1772.8,1378.0 1774.8,1378.0 1776.8,1378.0 1778.8,1378.0 1780.8,1378.0 1782.8,1378.0 1784.8,1378.0 1786.8,1378.0 1788.8,1378.0 1790.8,1378.0 1792.8,1378.0 1794.8,1378.0 1796.8,1378.0 1798.8,1378.0 1800.8,1378.0 1802.8,1378.0 1804.8,1378.0 1806.8,1378.0 1808.8,1378.0 1810.8,1378.0 1812.8,1378.0 1814.8,1378.0 1816.8,1378.0 1818.8,1378.0 1820.8,1378.0 1822.8,1378.0 1824.8,1378.0 1826.8,1378.0 1828.8,1378.0 1830.8,1378.0 1832.8,1378.0 1834.8,1378.0 1836.8,1378.0 1838.8,1378.0 1840.8,1378.0 1842.8,1378.0 1844.8,1378.0 1846.8,1378.0 1848.8,1378.0 1850.8,1378.0 1852.8,1378.0 1854.8,1378.0 1856.8,1378.0 1858.8,1378.0 1860.8,1378.0 1862.8,1378.0 1864.8,1378.0 1866.8,1378.0 1868.8,1378.0 1870.8,1378.0 1872.8,1378.0 1874.8,1378.0 1876.8,1378.0 1878.8,1378.0 1880.8,1378.0 1882.8,1378.0 1884.8,1378.0 1886.8,1378.0 1888.8,1378.0 1890.8,1378.0 1892.8,1378.0 1894.8,1378.0 1896.8,1378.0 1898.8,1378.0 1900.8,1378.0 1902.8,1378.0 1904.8,1378.0 1906.8,1378.0 1908.8,1378.0 1910.8,1378.0 1912.8,1378.0 1914.8,1378.0 1916.8,1378.0 1918.8,1378.0 1920.8,1378.0 1922.8,1378.0 1924.8,1378.0 1926.8,1378.0 1928.8,1378.0 1930.8,1378.0 1932.8,1378.0 1934.8,1378.0 1936.8,1378.0 1938.8,1378.0 1940.8,1378.0 1942.8,1378.0 1944.8,1378.0 1946.8,1378.0 1948.8,1378.0 1950.8,1378.0 1952.8,1378.0 1954.8,1378.0 1956.8,1378.0 1958.8,1378.0 1960.8,1378.0 1962.8,1378.0 1964.8,1378.0 1966.8,1378.0 1968.8,1378.0 1970.8,1378.0 1972.8,1378.0 1974.8,1378.0 1976.8,1378.0 1978.8,1378.0 1980.8,1378.0 1982.8,1378.0 1984.8,1378.0 1986.8,1378.0 1988.8,1378.0 1990.8,1378.0 1992.8,1378.0 1994.8,1378.0 1996.8,1378.0 1998.8,1378.0 2000.8,1378.0 2002.8,1378.0 2004.8,1378.0 2006.8,1378.0 2008.8,1378.0 2010.8,1378.0 2012.8,1378.0 2014.8,1378.0 2016.8,1378.0 2018.8,1378.0 2020.8,1378.0 2022.8,1378.0 2024.8,1378.0 2026.8,1378.0 2028.8,1378.0 2030.8,1378.0 2032.8,1378.0 2034.8,1378.0 2036.8,1378.0 2038.8,1378.0 2040.8,1378.0 2042.8,1378.0 2044.8,1378.0 2046.8,1378.0 2048.8,1378.0 2050.8,1378.0 2052.8,1378.0 2054.8,1378.0 2056.8,1378.0 2058.8,1378.0 2060.8,1378.0 2062.8,1378.0 2064.8,1378.0 2066.8,1378.0 2068.8,1378.0 2070.8,1378.0 2072.8,1378.0 2074.8,1378.0 2076.8,1378.0 2078.8,1378.0 2080.8,1378.0 2082.8,1378.0 2084.8,1378.0 2086.8,1378.0 2088.8,1378.0 2090.8,1378.0 2092.8,1378.0 2094.8,1378.0 2096.8,1378.0 2098.8,1378.0 2100.8,1378.0 2102.8,1378.0 2104.8,1378.0 2106.8,1378.0 2108.8,1378.0 2110.8,1378.0 2112.8,1378.0 2114.8,1378.0 2116.8,1378.0 2118.8,1378.0 2120.8,1378.0 2122.8,1378.0 2124.8,1378.0 2126.8,1378.0 2128.8,1378.0 2130.8,1378.0 2132.8,1378.0 2134.8,1378.0 2136.8,1378.0 2138.8,1378.0 2140.8,1378.0 2142.8,1378.0 2144.8,1378.0 2146.8,1378.0 2148.8,1378.0 2150.8,1378.0 2152.8,1378.0"/>
<polyline stroke="#ff0000" points="114.8,1378.0 116.8,1378.0 118.8,1378.0 120.8,1378.0 122.8,1378.0 124.8,1378.0 126.8,1378.0 128.8,1378.0 130.8,1378.0 132.8,1378.0 134.8,1378.0 136.8,1378.0 138.8,1378.0 140.8,1378.0 142.8,1378.0 144.8,1378.0 146.8,1378.0 148.8,1378.0 150.8,1378.0 152.8,1378.0 154.8,1378.0 156.8,1378.0 158.8,1378.0 160.8,1378.0 162.8,1378.0 164.8,1378.0 166.8,1378.0 168.8,1378.0 170.8,1378.0 172.8,1378.0 174.8,1378.0 176.8,1378.0 178.8,1378.0 180.8,1378.0 182.8,1378.0 184.8,1378.0 186.8,1378.0 188.8,1378.0 190.8,1378.0 192.8,1378.0 194.8,1378.0 196.8,1378.0 198.8,1378.0 200.8,1378.0 202.8,1378.0 204.8,1378.0 206.8,1378.0 208.8,1378.0 210.8,1378.0 212.8,1378.0 214.8,1378.0 216.8,1378.0 218.8,1378.0 220.8,1378.0 222.8,1378.0 224.8,1378.0 226.8,1378.0 228.8,1378.0 230.8,1378.0 232.8,1378.0 234.8,1378.0 236.8,1378.0 238.8,1378.0 240.8,1378.0 242.8,1378.0 244.8,1378.0 246.8,1378.0 248.8,1378.0 250.8,1378.0 252.8,1378.0 254.8,1378.0 256.8,1378.0 258.8,1378.0 260.8,1378.0 262.8,1378.0 264.8,1378.0 266.8,1378.0 268.8,1378.0 270.8,1378.0 272.8,1378.0 274.8,1378.0 276.8,1378.0 278.8,1378.0 280.8,1378.0 282.8,1378.0 284.8,1378.0 286.8,1378.0 288.8,1378.0 290.8,1378.0 292.8,1378.0 294.8,1378.0 296.8,1378.0 298.8,1378.0 300.8,1378.0 302.8,1378.0 304.8,1378.0 306.8,1378.0 308.8,1378.0 310.8,1378.0 312.8,1378.0 314.8,1378.0 316.8,1378.0 318.8,1378.0 320.8,1378.0 322.8,1378.0 324.8,1378.0 326.8,1378.0 328.8,1378.0 330.8,1378.0 332.8,1378.0 334.8,1378.0 336.8,1378.0 338.8,1378.0 340.8,1378.0 342.8,1378.0 344.8,1378.0 346.8,1378.0 348.8,1378.0 350.8,1378.0 352.8,1378.0 354.8,1378.0 356.8,1378.0 358.8,1378.0 360.8,1378.0 362.8,1378.0 364.8,1378.0 366.8,1378.0 368.8,1378.0 370.8,1378.0 372.8,1378.0 374.8,1378.0 376.8,1378.0 378.8,1378.0 380.8,1378.0 382.8,1378.0 384.8,1378.0 386.8,1378.0 388.8,1378.0 390.8,1378.0 392.8,1378.0 394.8,1378.0 396.8,1378.0 398.8,1378.0 400.8,1378.0 402.8,1378.0 404.8,1378.0 406.8,1378.0 408.8,1378.0 410.8,1378.0 412.8,1378.0 414.8,1378.0 416.8,1378.0 418.8,1378.0 420.8,1378.0 422.8,1378.0 424.8,1378.0 426.8,1378.0 428.8,1378.0 430.8,1378.0 432.8,1378.0 434.8,1378.0 436.8,1378.0 438.8,1378.0 440.8,1378.0 442.8,1378.0 444.8,1378.0 446.8,1378.0 448.8,1378.0 450.8,1378.0 452.8,1378.0 454.8,1378.0 456.8,1378.0 458.8,1378.0 460.8,1378.0 462.8,1378.0 464.8,1378.0 466.8,1378.0 468.8,1378.0 470.8,1378.0 472.8,1378.0 474.8,1378.0 476.8,1378.0 478.8,1378.0 480.8,1378.0 482.8,1378.0 484.8,1378.0 486.8,1378.0 488.8,1378.0 490.8,1378.0 492.8,1378.0 494.8,1378.0 496.8,1378.0 498.8,1378.0 500.8,1378.0 502.8,1378.0 504.8,1378.0 506.8,1378.0 508.8,1378.0 510.8,1378.0 512.8,1378.0 514.8,1378.0 516.8,1378.0 518.8,1378.0 520.8,1378.0 522.8,1378.0 524.8,1378.0 526.8,1378.0 528.8,1378.0 530.8,1378.0 532.8,1378.0 534.8,1378.0 536.8,1378.0 538.8,1378.0 540.8,1378.0 542.8,1378.0 544.8,1378.0 546.8,1378.0 548.8,1378.0 550.8,1378.0 552.8,1378.0 554.8,1378.0 556.8,1378.0 558.8,1378.0 560.8,1378.0 562.8,1378.0 564.8,1378.0 566.8,1378.0 568.8,1378.0 570.8,1378.0 572.8,1378.0 574.8,1378.0 576.8,1378.0 578.8,1378.0 580.8,1378.0 582.8,1378.0 584.8,1378.0 586.8,1378.0 588.8,1378.0 590.8,1378.0 592.8,1378.0 594.8,1378.0 596.8,1378.0 598.8,1378.0 600.8,1378.0 602.8,1378.0 604.8,1378.0 606.8,1378.0 608.8,1378.0 610.8,1378.0 612.8,1378.0 614.8,1378.0 616.8,1378.0 618.8,1378.0 620.8,1378.0 622.8,1378.0 624.8,1378.0 626.8,1378.0 628.8,1378.0 630.8,1378.0 632.8,1378.0 634.8,1378.0 636.8,1378.0 638.8,1378.0 640.8,1378.0 642.8,1378.0 644.8,1378.0 646.8,1378.0 648.8,1378.0 650.8,1378.0 652.8,1378.0 654.8,1378.0 656.8,1378.0 658.8,1378.0 660.8,1378.0 662.8,1378.0 664.8,1378.0 666.8,1378.0 668.8,1378.0 670.8,1378.0 672.8,1378.0 674.8,1378.0 676.8,1378.0 678.8,1378.0 680.8,1378.0 682.8,1377.9 684.8,1377.9 686.8,1377.9 688.8,1377.9 690.8,1377.9 692.8,1377.9 694.8,1377.9 696.8,1377.9 698.8,1377.9 700.8,1377.9 702.8,1377.9 704.8,1377.9 706.8,1377.9 708.8,1377.9 710.8,1377.8 712.8,1377.8 714.8,1377.8 716.8,1377.8 718.8,1377.8 720.8,1377.8 722.8,1377.8 724.8,1377.7 726.8,1377.7 728.8,1377.7 730.8,1377.7 732.8,1377.7 734.8,1377.6 736.8,1377.6 738.8,1377.6 740.8,1377.6 742.8,1377.5 744.8,1377.5 746.8,1377.5 748.8,1377.4 750.8,1377.4 752.8,1377.3 754.8,1377.3 756.8,1377.2 758.8,1377.2 760.8,1377.1 762.8,1377.1 764.8,1377.0 766.8,1376.9 768.8,1376.9 770.8,1376.8 772.8,1376.7 774.8,1376.6 776.8,1376.5 778.8,1376.4 780.8,1376.3 782.8,1376.2 784.8,1376.1 786.8,1376.0 788.8,1375.8 790.8,1375.7 792.8,1375.6 794.8,1375.4 796.8,1375.2 798.8,1375.1 800.8,1374.9 802.8,1374.7 804.8,1374.5 806.8,1374.3 808.8,1374.1 810.8,1373.8 812.8,1373.6 814.8,1373.3 816.8,1373.0 818.8,1372.7 820.8,1372.4 822.8,1372.1 824.8,1371.8 826.8,1371.4 828.8,1371.0 830.8,1370.6 832.8,1370.2 834.8,1369.8 836.8,1369.3 838.8,1368.8 840.8,1368.3 842.8,1367.8 844.8,1367.3 846.8,1366.7 848.8,1366.1 850.8,1365.4 852.8,1364.8 854.8,1364.1 856.8,1363.3 858.8,1362.6 860.8,1361.8 862.8,1361.0 864.8,1360.1 866.8,1359.2 868.8,1358.2 870.8,1357.3 872.8,1356.2 874.8,1355.2 876.8,1354.0 878.8,1352.9 880.8,1351.7 882.8,1350.4 884.8,1349.1 886.8,1347.7 888.8,1346.3 890.8,1344.8 892.8,1343.3 894.8,1341.7 896.8,1340.1 898.8,1338.4 900.8,1336.6 902.8,1334.8 904.8,1332.9 906.8,1330.9 908.8,1328.8 910.8,1326.7 912.8,1324.5 914.8,1322.3 916.8,1319.9 918.8,1317.5 920.8,1315.0 922.8,1312.5 924.8,1309.8 926.8,1307.1 928.8,1304.2 930.8,1301.3 932.8,1298.3 934.8,1295.2 936.8,1292.0 938.8,1288.7 940.8,1285.3 942.8,1281.9 944.8,1278.3 946.8,1274.6 948.8,1270.9 950.8,1267.0 952.8,1263.0 954.8,1258.9 956.8,1254.7 958.8,1250.5 960.8,1246.1 962.8,1241.6 964.8,1237.0 966.8,1232.3 968.8,1227.4 970.8,1222.5 972.8,1217.5 974.8,1212.3 976.8,1207.1 978.8,1201.7 980.8,1196.3 982.8,1190.7 984.8,1185.0 986.8,1179.2 988.8,1173.4 990.8,1167.4 992.8,1161.3 994.8,1155.1 996.8,1148.8 998.8,1142.4 1000.8,1135.9 1002.8,1129.3 1004.8,1122.6 1006.8,1115.8 1008.8,1108.9 1010.8,1101.9 1012.8,1094.9 1014.8,1087.8 1016.8,1080.5 1018.8,1073.3 1020.8,1065.9 1022.8,1058.5 1024.8,1050.9 1026.8,1043.4 1028.8,1035.7 1030.8,1028.1 1032.8,1020.3 1034.8,1012.5 1036.8,1004.7 1038.8,996.8 1040.8,988.9 1042.8,981.0 1044.8,973.0 1046.8,965.0 1048.8,957.0 1050.8,949.0 1052.8,940.9 1054.8,932.9 1056.8,924.9 1058.8,916.9 1060.8,908.9 1062.8,900.9 1064.8,893.0 1066.8,885.1 1068.8,877.2 1070.8,869.3 1072.8,861.6 1074.8,853.8 1076.8,846.2 1078.8,838.6 1080.8,831.1 1082.8,823.7 1084.8,816.3 1086.8,809.1 1088.8,801.9 1090.8,794.9 1092.8,788.0 1094.8,781.2 1096.8,774.5 1098.8,767.9 1100.8,761.5 1102.8,755.3 1104.8,749.1 1106.8,743.2 1108.8,737.4 1110.8,731.8 1112.8,726.3 1114.8,721.0 1116.8,715.9 1118.8,711.0 1120.8,706.3 1122.8,701.8 1124.8,697.5 1126.8,693.3 1128.8,689.4 1130.8,685.8 1132.8,682.3 1134.8,679.1 1136.8,676.0 1138.8,673.3 1140.8,670.7 1142.8,668.4 1144.8,666.3 1146.8,664.5 1148.8,662.9 1150.8,661.6 1152.8,660.5 1154.8,659.7 1156.8,659.1 1158.8,658.8 1160.8,658.7 1162.8,658.9 1164.8,659.4 1166.8,660.1 1168.8,661.1 1170.8,662.3 1172.8,663.8 1174.8,665.5 1176.8,667.5 1178.8,669.7 1180.8,672.2 1182.8,674.9 1184.8,677.8 1186.8,680.9 1188.8,684.3 1190.8,687.9 1192.8,691.7 1194.8,695.7 1196.8,699.9 1198.8,704.4 1200.8,709.0 1202.8,713.8 1204.8,718.9 1206.8,724.1 1208.8,729.4 1210.8,735.0 1212.8,740.7 1214.8,746.6 1216.8,752.7 1218.8,758.9 1220.8,765.2 1222.8,771.7 1224.8,778.3 1226.8,785.1 1228.8,792.0 1230.8,799.0 1232.8,806.1 1234.8,813.3 1236.8,820.6 1238.8,828.0 1240.8,835.4 1242.8,843.0 1244.8,850.6 1246.8,858.3 1248.8,866.1 1250.8,873.9 1252.8,881.7 1254.8,889.6 1256.8,897.6 1258.8,905.5 1260.8,913.5 1262.8,921.5 1264.8,929.6 1266.8,937.6 1268.8,945.6 1270.8,953.6 1272.8,961.7 1274.8,969.7 1276.8,977.6 1278.8,985.6 1280.8,993.5 1282.8,1001.4 1284.8,1009.3 1286.8,1017.1 1288.8,1024.8 1290.8,1032.5 1292.8,1040.2 1294.8,1047.8 1296.8,1055.3 1298.8,1062.8 1300.8,1070.2 1302.8,1077.5 1304.8,1084.8 1306.8,1091.9 1308.8,1099.0 1310.8,1106.0 1312.8,1112.9 1314.8,1119.7 1316.8,1126.5 1318.8,1133.1 1320.8,1139.6 1322.8,1146.1 1324.8,1152.4 1326.8,1158.7 1328.8,1164.8 1330.8,1170.9 1332.8,1176.8 1334.8,1182.6 1336.8,1188.3 1338.8,1194.0 1340.8,1199.5 1342.8,1204.9 1344.8,1210.2 1346.8,1215.3 1348.8,1220.4 1350.8,1225.4 1352.8,1230.3 1354.8,1235.0 1356.8,1239.7 1358.8,1244.2 1360.8,1248.6 1362.8,1253.0 1364.8,1257.2 1366.8,1261.3 1368.8,1265.3 1370.8,1269.2 1372.8,1273.1 1374.8,1276.8 1376.8,1280.4 1378.8,1283.9 1380.8,1287.3 1382.8,1290.6 1384.8,1293.9 1386.8,1297.0 1388.8,1300.1 1390.8,1303.0 1392.8,1305.9 1394.8,1308.7 1396.8,1311.4 1398.8,1314.0 1400.8,1316.5 1402.8,1318.9 1404.8,1321.3 1406.8,1323.6 1408.8,1325.8 1410.8,1328.0 1412.8,1330.0 1414.8,1332.0 1416.8,1334.0 1418.8,1335.8 1420.8,1337.6 1422.8,1339.4 1424.8,1341.0 1426.8,1342.7 1428.8,1344.2 1430.8,1345.7 1432.8,1347.1 1434.8,1348.5 1436.8,1349.9 1438.8,1351.1 1440.8,1352.4 1442.8,1353.6 1444.8,1354.7 1446.8,1355.8 1448.8,1356.8 1450.8,1357.8 1452.8,1358.8 1454.8,1359.7 1456.8,1360.6 1458.8,1361.4 1460.8,1362.3 1462.8,1363.0 1464.8,1363.8 1466.8,1364.5 1468.8,1365.2 1470.8,1365.8 1472.8,1366.4 1474.8,1367.0 1476.8,1367.6 1478.8,1368.1 1480.8,1368.6 1482.8,1369.1 1484.8,1369.6 1486.8,1370.0 1488.8,1370.5 1490.8,1370.9 1492.8,1371.3 1494.8,1371.6 1496.8,1372.0 1498.8,1372.3 1500.8,1372.6 1502.8,1372.9 1504.8,1373.2 1506.8,1373.5 1508.8,1373.7 1510.8,1374.0 1512.8,1374.2 1514.8,1374.4 1516.8,1374.6 1518.8,1374.8 1520.8,1375.0 1522.8,1375.2 1524.8,1375.3 1526.8,1375.5 1528.8,1375.6 1530.8,1375.8 1532.8,1375.9 1534.8,1376.0 1536.8,1376.2 1538.8,1376.3 1540.8,1376.4 1542.8,1376.5 1544.8,1376.6 1546.8,1376.7 1548.8,1376.7 1550.8,1376.8 1552.8,1376.9 1554.8,1377.0 1556.8,1377.0 1558.8,1377.1 1560.8,1377.2 1562.8,1377.2 1564.8,1377.3 1566.8,1377.3 1568.8,1377.4 1570.8,1377.4 1572.8,1377.4 1574.8,1377.5 1576.8,1377.5 1578.8,1377.5 1580.8,1377.6 1582.8,1377.6 1584.8,1377.6 1586.8,1377.7 1588.8,1377.7 1590.8,1377.7 1592.8,1377.7 1594.8,1377.7 1596.8,1377.8 1598.8,1377.8 1600.8,1377.8 1602.8,1377.8 1604.8,1377.8 1606.8,1377.8 1608.8,1377.8 1610.8,1377.9 1612.8,1377.9 1614.8,1377.9 1616.8,1377.9 1618.8,1377.9 1620.8,1377.9 1622.8,1377.9 1624.8,1377.9 1626.8,1377.9 1628.8,1377.9 1630.8,1377.9 1632.8,1377.9 1634.8,1377.9 1636.8,1377.9 1638.8,1378.0 1640.8,1378.0 1642.8,1378.0 1644.8,1378.0 1646.8,1378.0 1648.8,1378.0 1650.8,1378.0 1652.8,1378.0 1654.8,1378.0 1656.8,1378.0 1658.8,1378.0 1660.8,1378.0 1662.8,1378.0 1664.8,1378.0 1666.8,1378.0 1668.8,1378.0 1670.8,1378.0 1672.8,1378.0 1674.8,1378.0 1676.8,1378.0 1678.8,1378.0 1680.8,1378.0 1682.8,1378.0 1684.8,1378.0 1686.8,1378.0 1688.8,1378.0 1690.8,1378.0 1692.8,1378.0 1694.8,1378.0 1696.8,1378.0 1698.8,1378.0 1700.8,1378.0 1702.8,1378.0 1704.8,1378.0 1706.8,1378.0 1708.8,1378.0 1710.8,1378.0 1712.8,1378.0 1714.8,1378.0 1716.8,1378.0 1718.8,1378.0 1720.8,1378.0 1722.8,1378.0 1724.8,1378.0 1726.8,1378.0 1728.8,1378.0 1730.8,1378.0 1732.8,1378.0 1734.8,1378.0 1736.8,1378.0 1738.8,1378.0 1740.8,1378.0 1742.8,1378.0 1744.8,1378.0 1746.8,1378.0 1748.8,1378.0 1750.8,1378.0 1752.8,1378.0 1754.8,1378.0 1756.8,1378.0 1758.8,1378.0 1760.8,1378.0 1762.8,1378.0 1764.8,1378.0 1766.8,1378.0 1768.8,1378.0 1770.8,1378.0 1772.8,1378.0 1774.8,1378.0 1776.8,1378.0 1778.8,1378.0 1780.8,1378.0 1782.8,1378.0 1784.8,1378.0 1786.8,1378.0 1788.8,1378.0 1790.8,1378.0 1792.8,1378.0 1794.8,1378.0 1796.8,1378.0 1798.8,1378.0 1800.8,1378.0 1802.8,1378.0 1804.8,1378.0 1806.8,1378.0 1808.8,1378.0 1810.8,1378.0 1812.8,1378.0 1814.8,1378.0 1816.8,1378.0 1818.8,1378.0 1820.8,1378.0 1822.8,1378.0 1824.8,1378.0 1826.8,1378.0 1828.8,1378.0 1830.8,1378.0 1832.8,1378.0 1834.8,1378.0 1836.8,1378.0 1838.8,1378.0 1840.8,1378.0 1842.8,1378.0 1844.8,1378.0 1846.8,1378.0 1848.8,1378.0 1850.8,1378.0 1852.8,1378.0 1854.8,1378.0 1856.8,1378.0 1858.8,1378.0 1860.8,1378.0 1862.8,1378.0 1864.8,1378.0 1866.8,1378.0 1868.8,1378.0 1870.8,1378.0 1872.8,1378.0 1874.8,1378.0 1876.8,1378.0 1878.8,1378.0 1880.8,1378.0 1882.8,1378.0 1884.8,1378.0 1886.8,1378.0 1888.8,1378.0 1890.8,1378.0 1892.8,1378.0 1894.8,1378.0 1896.8,1378.0 1898.8,1378.0 1900.8,1378.0 1902.8,1378.0 1904.8,1378.0 1906.8,1378.0 1908.8,1378.0 1910.8,1378.0 1912.8,1378.0 1914.8,1378.0 1916.8,1378.0 1918.8,1378.0 1920.8,1378.0 1922.8,1378.0 1924.8,1378.0 1926.8,1378.0 1928.8,1378.0 1930.8,1378.0 1932.8,1378.0 1934.8,1378.0 1936.8,1378.0 1938.8,1378.0 1940.8,1378.0 1942.8,1378.0 1944.8,1378.0 1946.8,1378.0 1948.8,1378.0 1950.8,1378.0 1952.8,1378.0 1954.8,1378.0 1956.8,1378.0 1958.8,1378.0 1960.8,1378.0 1962.8,1378.0 1964.8,1378.0 1966.8,1378.0 1968.8,1378.0 1970.8,1378.0 1972.8,1378.0 1974.8,1378.0 1976.8,1378.0 1978.8,1378.0 1980.8,1378.0 1982.8,1378.0 1984.8,1378.0 1986.8,1378.0 1988.8,1378.0 1990.8,1378.0 1992.8,1378.0 1994.8,1378.0 1996.8,1378.0 1998.8,1378.0 2000.8,1378.0 2002.8,1378.0 2004.8,1378.0 2006.8,1378.0 2008.8,1378.0 2010.8,1378.0 2012.8,1378.0 2014.8,1378.0 2016.8,1378.0 2018.8,1378.0 2020.8,1378.0 2022.8,1378.0 2024.8,1378.0 2026.8,1378.0 2028.8,1378.0 2030.8,1378.0 2032.8,1378.0 2034.8,1378.0 2036.8,1378.0 2038.8,1378.0 2040.8,1378.0 2042.8,1378.0 2044.8,1378.0 2046.8,1378.0 2048.8,1378.0 2050.8,1378.0 2052.8,1378.0 2054.8,1378.0 2056.8,1378.0 2058.8,1378.0 2060.8,1378.0 2062.8,1378.0 2064.8,1378.0 2066.8,1378.0 2068.8,1378.0 2070.8,1378.0 2072.8,1378.0 2074.8,1378.0 2076.8,1378.0 2078.8,1378.0 2080.8,1378.0 2082.8,1378.0 2084.8,1378.0 2086.8,1378.0 2088.8,1378.0 2090.8,1378.0 2092.8,1378.0 2094.8,1378.0 2096.8,1378.0 2098.8,1378.0 2100.8,1378.0 2102.8,1378.0 2104.8,1378.0 2106.8,1378.0 2108.8,1378.0 2110.8,1378.0 2112.8,1378.0 2114.8,1378.0 2116.8,1378.0 2118.8,1378.0 2120.8,1378.0 2122.8,1378.0 2124.8,1378.0 2126.8,1378.0 2128.8,1378.0 2130.8,1378.0 2132.8,1378.0 2134.8,1378.0 2136.8,1378.0 2138.8,1378.0 2140.8,1378.0 2142.8,1378.0 2144.8,1378.0 2146.8,1378.0 2148.8,1378.0 2150.8,1378.0 2152.8,1378.0"/>
<polyline stroke="#000000" points="114.8,1378.0 116.8,1378.0 118.8,1378.0 120.8,1378.0 122.8,1378.0 124.8,1378.0 126.8,1378.0 128.8,1378.0 130.8,1378.0 132.8,1378.0 134.8,1378.0 136.8,1378.0 138.8,1378.0 140.8,1378.0 142.8,1378.0 144.8,1378.0 146.8,1378.0 148.8,1378.0 150.8,1378.0 152.8,1378.0 154.8,1378.0 156.8,1378.0 158.8,1378.0 160.8,1378.0 162.8,1378.0 164.8,1378.0 166.8,1378.0 168.8,1378.0 170.8,1378.0 172.8,1378.0 174.8,1378.0 176.8,1378.0 178.8,1378.0 180.8,1378.0 182.8,1378.0 184.8,1378.0 186.8,1378.0 188.8,1378.0 190.8,1378.0 192.8,1378.0 194.8,1378.0 196.8,1378.0 198.8,1378.0 200.8,1378.0 202.8,1378.0 204.8,1378.0 206.8,1378.0 208.8,1378.0 210.8,1378.0 212.8,1378.0 214.8,1378.0 216.8,1378.0 218.8,1378.0 220.8,1378.0 222.8,1378.0 224.8,1378.0 226.8,1378.0 228.8,1378.0 230.8,1378.0 232.8,1378.0 234.8,1378.0 236.8,1378.0 238.8,1378.0 240.8,1378.0 242.8,1378.0 244.8,1378.0 246.8,1378.0 248.8,1378.0 250.8,1378.0 252.8,1378.0 254.8,1378.0 256.8,1378.0 258.8,1378.0 260.8,1378.0 262.8,1378.0 264.8,1378.0 266.8,1378.0 268.8,1378.0 270.8,1378.0 272.8,1378.0 274.8,1378.0 276.8,1378.0 278.8,1378.0 280.8,1378.0 282.8,1378.0 284.8,1378.0 286.8,1378.0 288.8,1378.0 290.8,1378.0 292.8,1378.0 294.8,1378.0 296.8,1378.0 298.8,1378.0 300.8,1378.0 302.8,1378.0 304.8,1378.0 306.8,1378.0 308.8,1378.0 310.8,1378.0 312.8,1378.0 314.8,1378.0 316.8,1378.0 318.8,1378.0 320.8,1378.0 322.8,1378.0 324.8,1378.0 326.8,1378.0 328.8,1378.0 330.8,1378.0 332.8,1378.0 334.8,1378.0 336.8,1378.0 338.8,1378.0 340.8,1378.0 342.8,1378.0 344.8,1378.0 346.8,1378.0 348.8,1378.0 350.8,1378.0 352.8,1378.0 354.8,1378.0 356.8,1378.0 358.8,1378.0 360.8,1378.0 362.8,1378.0 364.8,1378.0 366.8,1378.0 368.8,1378.0 370.8,1378.0 372.8,1378.0 374.8,1378.0 376.8,1378.0 378.8,1378.0 380.8,1378.0 382.8,1378.0 384.8,1378.0 386.8,1378.0 388.8,1378.0 390.8,1378.0 392.8,1378.0 394.8,1378.0 396.8,1378.0 398.8,1378.0 400.8,1378.0 402.8,1378.0 404.8,1378.0 406.8,1378.0 408.8,1378.0 410.8,1378.0 412.8,1378.0 414.8,1378.0 416.8,1378.0 418.8,1378.0 420.8,1378.0 422.8,1378.0 424.8,1378.0 426.8,1378.0 428.8,1378.0 430.8,1378.0 432.8,1378.0 434.8,1378.0 436.8,1378.0 438.8,1378.0 440.8,1378.0 442.8,1378.0 444.8,1378.0 446.8,1378.0 448.8,1378.0 450.8,1378.0 452.8,1378.0 454.8,1378.0 456.8,1378.0 458.8,1378.0 460.8,1378.0 462.8,1378.0 464.8,1378.0 466.8,1378.0 468.8,1378.0 470.8,1378.0 472.8,1378.0 474.8,1378.0 476.8,1378.0 478.8,1378.0 480.8,1378.0 482.8,1378.0 484.8,1378.0 486.8,1378.0 488.8,1378.0 490.8,1378.0 492.8,1378.0 494.8,1378.0 496.8,1378.0 498.8,1378.0 500.8,1378.0 502.8,1378.0 504.8,1378.0 506.8,1378.0 508.8,1378.0 510.8,1378.0 512.8,1378.0 514.8,1378.0 516.8,1378.0 518.8,1378.0 520.8,1378.0 522.8,1378.0 524.8,1378.0 526.8,1378.0 528.8,1378.0 530.8,1378.0 532.8,1378.0 534.8,1378.0 536.8,1378.0 538.8,1378.0 540.8,1378.0 542.8,1378.0 544.8,1378.0 546.8,1378.0 548.8,1378.0 550.8,1378.0 552.8,1378.0 554.8,1378.0 556.8,1378.0 558.8,1378.0 560.8,1378.0 562.8,1378.0 564.8,1378.0 566.8,1378.0 568.8,1378.0 570.8,1378.0 572.8,1378.0 574.8,1378.0 576.8,1378.0 578.8,1378.0 580.8,1378.0 582.8,1378.0 584.8,1378.0 586.8,1378.0 588.8,1378.0 590.8,1378.0 592.8,1378.0 594.8,1378.0 596.8,1378.0 598.8,1378.0 600.8,1378.0 602.8,1378.0 604.8,1378.0 606.8,1378.0 608.8,1378.0 610.8,1378.0 612.8,1378.0 614.8,1378.0 616.8,1378.0 618.8,1378.0 620.8,1378.0 622.8,1378.0 624.8,1378.0 626.8,1378.0 628.8,1378.0 630.8,1378.0 632.8,1378.0 634.8,1378.0 636.8,1378.0 638.8,1378.0 640.8,1378.0 642.8,1378.0 644.8,1378.0 646.8,1378.0 648.8,1378.0 650.8,1378.0 652.8,1378.0 654.8,1378.0 656.8,1378.0 658.8,1378.0 660.8,1378.0 662.8,1378.0 664.8,1378.0 666.8,1378.0 668.8,1378.0 670.8,1378.0 672.8,1378.0 674.8,1378.0 676.8,1378.0 678.8,1378.0 680.8,1378.0 682.8,1378.0 684.8,1378.0 686.8,1378.0 688.8,1378.0 690.8,1378.0 692.8,1378.0 694.8,1378.0 696.8,1378.0 698.8,1378.0 700.8,1378.0 702.8,1378.0 704.8,1378.0 706.8,1378.0 708.8,1378.0 710.8,1378.0 712.8,1378.0 714.8,1378.0 716.8,1378.0 718.8,1378.0 720.8,1378.0 722.8,1378.0 724.8,1378.0 726.8,1378.0 728.8,1378.0 730.8,1378.0 732.8,1378.0 734.8,1378.0 736.8,1378.0 738.8,1378.0 740.8,1378.0 742.8,1378.0 744.8,1378.0 746.8,1378.0 748.8,1378.0 750.8,1378.0 752.8,1378.0 754.8,1378.0 756.8,1378.0 758.8,1378.0 760.8,1378.0 762.8,1378.0 764.8,1378.0 766.8,1378.0 768.8,1378.0 770.8,1378.0 772.8,1378.0 774.8,1378.0 776.8,1378.0 778.8,1378.0 780.8,1378.0 782.8,1378.0 784.8,1378.0 786.8,1378.0 788.8,1378.0 790.8,1378.0 792.8,1378.0 794.8,1378.0 796.8,1378.0 798.8,1378.0 800.8,1378.0 802.8,1378.0 804.8,1378.0 806.8,1378.0 808.8,1378.0 810.8,1378.0 812.8,1378.0 814.8,1378.0 816.8,1378.0 818.8,1378.0 820.8,1378.0 822.8,1378.0 824.8,1378.0 826.8,1378.0 828.8,1378.0 830.8,1378.0 832.8,1378.0 834.8,1378.0 836.8,1378.0 838.8,1378.0 840.8,1378.0 842.8,1378.0 844.8,1378.0 846.8,1378.0 848.8,1378.0 850.8,1378.0 852.8,1378.0 854.8,1378.0 856.8,1378.0 858.8,1378.0 860.8,1378.0 862.8,1378.0 864.8,1378.0 866.8,1378.0 868.8,1378.0 870.8,1378.0 872.8,1378.0 874.8,1378.0 876.8,1378.0 878.8,1378.0 880.8,1378.0 882.8,1378.0 884.8,1378.0 886.8,1378.0 888.8,1378.0 890.8,1378.0 892.8,1378.0 894.8,1378.0 896.8,1378.0 898.8,1377.9 900.8,1377.9 902.8,1377.9 904.8,1377.9 906.8,1377.9 908.8,1377.9 910.8,1377.9 912.8,1377.9 914.8,1377.9 916.8,1377.9 918.8,1377.9 920.8,1377.9 922.8,1377.9 924.8,1377.9 926.8,1377.9 928.8,1377.8 930.8,1377.8 932.8,1377.8 934.8,1377.8 936.8,1377.8 938.8,1377.8 940.8,1377.8 942.8,1377.8 944.8,1377.7 946.8,1377.7 948.8,1377.7 950.8,1377.7 952.8,1377.7 954.8,1377.6 956.8,1377.6 958.8,1377.6 960.8,1377.6 962.8,1377.5 964.8,1377.5 966.8,1377.5 968.8,1377.4 970.8,1377.4 972.8,1377.4 974.8,1377.3 976.8,1377.3 978.8,1377.2 980.8,1377.2 982.8,1377.1 984.8,1377.1 986.8,1377.0 988.8,1376.9 990.8,1376.9 992.8,1376.8 994.8,1376.7 996.8,1376.7 998.8,1376.6 1000.8,1376.5 1002.8,1376.4 1004.8,1376.3 1006.8,1376.2 1008.8,1376.1 1010.8,1376.0 1012.8,1375.9 1014.8,1375.7 1016.8,1375.6 1018.8,1375.5 1020.8,1375.3 1022.8,1375.2 1024.8,1375.0 1026.8,1374.8 1028.8,1374.7 1030.8,1374.5 1032.8,1374.3 1034.8,1374.1 1036.8,1373.9 1038.8,1373.7 1040.8,1373.4 1042.8,1373.2 1044.8,1372.9 1046.8,1372.7 1048.8,1372.4 1050.8,1372.1 1052.8,1371.8 1054.8,1371.5 1056.8,1371.1 1058.8,1370.8 1060.8,1370.4 1062.8,1370.1 1064.8,1369.7 1066.8,1369.3 1068.8,1368.8 1070.8,1368.4 1072.8,1367.9 1074.8,1367.4 1076.8,1366.9 1078.8,1366.4 1080.8,1365.9 1082.8,1365.3 1084.8,1364.7 1086.8,1364.1 1088.8,1363.5 1090.8,1362.8 1092.8,1362.2 1094.8,1361.5 1096.8,1360.7 1098.8,1360.0 1100.8,1359.2 1102.8,1358.4 1104.8,1357.5 1106.8,1356.7 1108.8,1355.8 1110.8,1354.8 1112.8,1353.9 1114.8,1352.9 1116.8,1351.9 1118.8,1350.8 1120.8,1349.7 1122.8,1348.6 1124.8,1347.4 1126.8,1346.2 1128.8,1345.0 1130.8,1343.7 1132.8,1342.4 1134.8,1341.1 1136.8,1339.7 1138.8,1338.3 1140.8,1336.8 1142.8,1335.3 1144.8,1333.8 1146.8,1332.2 1148.8,1330.6 1150.8,1328.9 1152.8,1327.2 1154.8,1325.5 1156.8,1323.7 1158.8,1321.8 1160.8,1319.9 1162.8,1318.0 1164.8,1316.0 1166.8,1314.0 1168.8,1312.0 1170.8,1309.9 1172.8,1307.7 1174.8,1305.5 1176.8,1303.3 1178.8,1301.0 1180.8,1298.7 1182.8,1296.3 1184.8,1293.9 1186.8,1291.5 1188.8,1289.0 1190.8,1286.4 1192.8,1283.9 1194.8,1281.2 1196.8,1278.6 1198.8,1275.9 1200.8,1273.1 1202.8,1270.3 1204.8,1267.5 1206.8,1264.7 1208.8,1261.8 1210.8,1258.8 1212.8,1255.9 1214.8,1252.9 1216.8,1249.8 1218.8,1246.8 1220.8,1243.7 1222.8,1240.5 1224.8,1237.4 1226.8,1234.2 1228.8,1231.0 1230.8,1227.8 1232.8,1224.5 1234.8,1221.2 1236.8,1218.0 1238.8,1214.6 1240.8,1211.3 1242.8,1208.0 1244.8,1204.6 1246.8,1201.3 1248.8,1197.9 1250.8,1194.6 1252.8,1191.2 1254.8,1187.8 1256.8,1184.5 1258.8,1181.1 1260.8,1177.7 1262.8,1174.4 1264.8,1171.0 1266.8,1167.7 1268.8,1164.4 1270.8,1161.1 1272.8,1157.8 1274.8,1154.6 1276.8,1151.3 1278.8,1148.1 1280.8,1145.0 1282.8,1141.8 1284.8,1138.7 1286.8,1135.6 1288.8,1132.6 1290.8,1129.6 1292.8,1126.7 1294.8,1123.8 1296.8,1120.9 1298.8,1118.1 1300.8,1115.4 1302.8,1112.7 1304.8,1110.0 1306.8,1107.5 1308.8,1105.0 1310.8,1102.5 1312.8,1100.1 1314.8,1097.8 1316.8,1095.6 1318.8,1093.4 1320.8,1091.4 1322.8,1089.4 1324.8,1087.4 1326.8,1085.6 1328.8,1083.8 1330.8,1082.1 1332.8,1080.5 1334.8,1079.0 1336.8,1077.6 1338.8,1076.3 1340.8,1075.0 1342.8,1073.9 1344.8,1072.9 1346.8,1071.9 1348.8,1071.0 1350.8,1070.3 1352.8,1069.6 1354.8,1069.0 1356.8,1068.6 1358.8,1068.2 1360.8,1067.9 1362.8,1067.8 1364.8,1067.7 1366.8,1067.7 1368.8,1067.8 1370.8,1068.1 1372.8,1068.4 1374.8,1068.8 1376.8,1069.4 1378.8,1070.0 1380.8,1070.7 1382.8,1071.5 1384.8,1072.5 1386.8,1073.5 1388.8,1074.6 1390.8,1075.8 1392.8,1077.1 1394.8,1078.5 1396.8,1079.9 1398.8,1081.5 1400.8,1083.1 1402.8,1084.9 1404.8,1086.7 1406.8,1088.6 1408.8,1090.5 1410.8,1092.6 1412.8,1094.7 1414.8,1096.9 1416.8,1099.2 1418.8,1101.6 1420.8,1104.0 1422.8,1106.5 1424.8,1109.0 1426.8,1111.6 1428.8,1114.3 1430.8,1117.0 1432.8,1119.8 1434.8,1122.6 1436.8,1125.5 1438.8,1128.4 1440.8,1131.4 1442.8,1134.4 1444.8,1137.5 1446.8,1140.6 1448.8,1143.7 1450.8,1146.9 1452.8,1150.0 1454.8,1153.3 1456.8,1156.5 1458.8,1159.8 1460.8,1163.1 1462.8,1166.4 1464.8,1169.7 1466.8,1173.0 1468.8,1176.4 1470.8,1179.7 1472.8,1183.1 1474.8,1186.5 1476.8,1189.8 1478.8,1193.2 1480.8,1196.6 1482.8,1199.9 1484.8,1203.3 1486.8,1206.7 1488.8,1210.0 1490.8,1213.3 1492.8,1216.6 1494.8,1219.9 1496.8,1223.2 1498.8,1226.5 1500.8,1229.7 1502.8,1232.9 1504.8,1236.1 1506.8,1239.3 1508.8,1242.4 1510.8,1245.5 1512.8,1248.6 1514.8,1251.6 1516.8,1254.7 1518.8,1257.6 1520.8,1260.6 1522.8,1263.5 1524.8,1266.4 1526.8,1269.2 1528.8,1272.0 1530.8,1274.8 1532.8,1277.5 1534.8,1280.2 1536.8,1282.8 1538.8,1285.4 1540.8,1288.0 1542.8,1290.5 1544.8,1293.0 1546.8,1295.4 1548.8,1297.8 1550.8,1300.1 1552.8,1302.4 1554.8,1304.7 1556.8,1306.9 1558.8,1309.0 1560.8,1311.1 1562.8,1313.2 1564.8,1315.3 1566.8,1317.2 1568.8,1319.2 1570.8,1321.1 1572.8,1322.9 1574.8,1324.7 1576.8,1326.5 1578.8,1328.2 1580.8,1329.9 1582.8,1331.6 1584.8,1333.2 1586.8,1334.7 1588.8,1336.2 1590.8,1337.7 1592.8,1339.1 1594.8,1340.5 1596.8,1341.9 1598.8,1343.2 1600.8,1344.5 1602.8,1345.8 1604.8,1347.0 1606.8,1348.1 1608.8,1349.3 1610.8,1350.4 1612.8,1351.4 1614.8,1352.5 1616.8,1353.5 1618.8,1354.5 1620.8,1355.4 1622.8,1356.3 1624.8,1357.2 1626.8,1358.0 1628.8,1358.9 1630.8,1359.7 1632.8,1360.4 1634.8,1361.2 1636.8,1361.9 1638.8,1362.6 1640.8,1363.2 1642.8,1363.9 1644.8,1364.5 1646.8,1365.1 1648.8,1365.7 1650.8,1366.2 1652.8,1366.7 1654.8,1367.2 1656.8,1367.7 1658.8,1368.2 1660.8,1368.7 1662.8,1369.1 1664.8,1369.5 1666.8,1369.9 1668.8,1370.3 1670.8,1370.7 1672.8,1371.0 1674.8,1371.3 1676.8,1371.7 1678.8,1372.0 1680.8,1372.3 1682.8,1372.6 1684.8,1372.8 1686.8,1373.1 1688.8,1373.3 1690.8,1373.6 1692.8,1373.8 1694.8,1374.0 1696.8,1374.2 1698.8,1374.4 1700.8,1374.6 1702.8,1374.8 1704.8,1374.9 1706.8,1375.1 1708.8,1375.3 1710.8,1375.4 1712.8,1375.6 1714.8,1375.7 1716.8,1375.8 1718.8,1375.9 1720.8,1376.0 1722.8,1376.2 1724.8,1376.3 1726.8,1376.4 1728.8,1376.4 1730.8,1376.5 1732.8,1376.6 1734.8,1376.7 1736.8,1376.8 1738.8,1376.8 1740.8,1376.9 1742.8,1377.0 1744.8,1377.0 1746.8,1377.1 1748.8,1377.1 1750.8,1377.2 1752.8,1377.2 1754.8,1377.3 1756.8,1377.3 1758.8,1377.4 1760.8,1377.4 1762.8,1377.4 1764.8,1377.5 1766.8,1377.5 1768.8,1377.5 1770.8,1377.6 1772.8,1377.6 1774.8,1377.6 1776.8,1377.6 1778.8,1377.7 1780.8,1377.7 1782.8,1377.7 1784.8,1377.7 1786.8,1377.7 1788.8,1377.8 1790.8,1377.8 1792.8,1377.8 1794.8,1377.8 1796.8,1377.8 1798.8,1377.8 1800.8,1377.8 1802.8,1377.9 1804.8,1377.9 1806.8,1377.9 1808.8,1377.9 1810.8,1377.9 1812.8,1377.9 1814.8,1377.9 1816.8,1377.9 1818.8,1377.9 1820.8,1377.9 1822.8,1377.9 1824.8,1377.9 1826.8,1377.9 1828.8,1377.9 1830.8,1377.9 1832.8,1378.0 1834.8,1378.0 1836.8,1378.0 1838.8,1378.0 1840.8,1378.0 1842.8,1378.0 1844.8,1378.0 1846.8,1378.0 1848.8,1378.0 1850.8,1378.0 1852.8,1378.0 1854.8,1378.0 1856.8,1378.0 1858.8,1378.0 1860.8,1378.0 1862.8,1378.0 1864.8,1378.0 1866.8,1378.0 1868.8,1378.0 1870.8,1378.0 1872.8,1378.0 1874.8,1378.0 1876.8,1378.0 1878.8,1378.0 1880.8,1378.0 1882.8,1378.0 1884.8,1378.0 1886.8,1378.0 1888.8,1378.0 1890.8,1378.0 1892.8,1378.0 1894.8,1378.0 1896.8,1378.0 1898.8,1378.0 1900.8,1378.0 1902.8,1378.0 1904.8,1378.0 1906.8,1378.0 1908.8,1378.0 1910.8,1378.0 1912.8,1378.0 1914.8,1378.0 1916.8,1378.0 1918.8,1378.0 1920.8,1378.0 1922.8,1378.0 1924.8,1378.0 1926.8,1378.0 1928.8,1378.0 1930.8,1378.0 1932.8,1378.0 1934.8,1378.0 1936.8,1378.0 1938.8,1378.0 1940.8,1378.0 1942.8,1378.0 1944.8,1378.0 1946.8,1378.0 1948.8,1378.0 1950.8,1378.0 1952.8,1378.0 1954.8,1378.0 1956.8,1378.0 1958.8,1378.0 1960.8,1378.0 1962.8,1378.0 1964.8,1378.0 1966.8,1378.0 1968.8,1378.0 1970.8,1378.0 1972.8,1378.0 1974.8,1378.0 1976.8,1378.0 1978.8,1378.0 1980.8,1378.0 1982.8,1378.0 1984.8,1378.0 1986.8,1378.0 1988.8,1378.0 1990.8,1378.0 1992.8,1378.0 1994.8,1378.0 1996.8,1378.0 1998.8,1378.0 2000.8,1378.0 2002.8,1378.0 2004.8,1378.0 2006.8,1378.0 2008.8,1378.0 2010.8,1378.0 2012.8,1378.0 2014.8,1378.0 2016.8,1378.0 2018.8,1378.0 2020.8,1378.0 2022.8,1378.0 2024.8,1378.0 2026.8,1378.0 2028.8,1378.0 2030.8,1378.0 2032.8,1378.0 2034.8,1378.0 2036.8,1378.0 2038.8,1378.0 2040.8,1378.0 2042.8,1378.0 2044.8,1378.0 2046.8,1378.0 2048.8,1378.0 2050.8,1378.0 2052.8,1378.0 2054.8,1378.0 2056.8,1378.0 2058.8,1378.0 2060.8,1378.0 2062.8,1378.0 2064.8,1378.0 2066.8,1378.0 2068.8,1378.0 2070.8,1378.0 2072.8,1378.0 2074.8,1378.0 2076.8,1378.0 2078.8,1378.0 2080.8,1378.0 2082.8,1378.0 2084.8,1378.0 2086.8,1378.0 2088.8,1378.0 2090.8,1378.0 2092.8,1378.0 2094.8,1378.0 2096.8,1378.0 2098.8,1378.0 2100.8,1378.0 2102.8,1378.0 2104.8,1378.0 2106.8,1378.0 2108.8,1378.0 2110.8,1378.0 2112.8,1378.0 2114.8,1378.0 2116.8,1378.0 2118.8,1378.0 2120.8,1378.0 2122.8,1378.0 2124.8,1378.0 2126.8,1378.0 2128.8,1378.0 2130.8,1378.0 2132.8,1378.0 2134.8,1378.0 2136.8,1378.0 2138.8,1378.0 2140.8,1378.0 2142.8,1378.0 2144.8,1378.0 2146.8,1378.0 2148.8,1378.0 2150.8,1378.0 2152.8,1378.0"/>
<polyline stroke="#008000" points="114.8,1377.9 116.8,1377.9 118.8,1377.9 120.8,1377.9 122.8,1377.9 124.8,1377.9 126.8,1377.9 128.8,1377.9 130.8,1377.9 132.8,1377.9 134.8,1377.9 136.8,1377.9 138.8,1377.9 140.8,1377.9 142.8,1377.9 144.8,1377.9 146.8,1377.9 148.8,1377.9 150.8,1377.9 152.8,1377.9 154.8,1377.9 156.8,1377.9 158.8,1377.9 160.8,1377.9 162.8,1377.9 164.8,1377.9 166.8,1377.9 168.8,1377.9 170.8,1377.9 172.8,1377.9 174.8,1377.9 176.8,1377.9 178.8,1377.9 180.8,1377.9 182.8,1377.9 184.8,1377.9 186.8,1377.9 188.8,1377.9 190.8,1377.9 192.8,1377.9 194.8,1377.9 196.8,1377.9 198.8,1377.9 200.8,1377.9 202.8,1377.9 204.8,1377.9 206.8,1377.9 208.8,1377.9 210.8,1377.9 212.8,1377.9 214.8,1377.9 216.8,1377.9 218.8,1377.9 220.8,1377.9 222.8,1377.9 224.8,1377.9 226.8,1377.9 228.8,1377.9 230.8,1377.9 232.8,1377.9 234.8,1377.9 236.8,1377.9 238.8,1377.9 240.8,1377.9 242.8,1377.9 244.8,1377.9 246.8,1377.9 248.8,1377.9 250.8,1377.9 252.8,1377.9 254.8,1377.9 256.8,1377.9 258.8,1377.9 260.8,1377.9 262.8,1377.9 264.8,1377.9 266.8,1377.9 268.8,1377.9 270.8,1377.9 272.8,1377.9 274.8,1377.9 276.8,1377.9 278.8,1377.9 280.8,1377.9 282.8,1377.9 284.8,1377.9 286.8,1377.9 288.8,1377.9 290.8,1377.9 292.8,1377.9 294.8,1377.9 296.8,1377.9 298.8,1377.9 300.8,1377.9 302.8,1377.9 304.8,1377.9 306.8,1377.9 308.8,1377.9 310.8,1377.9 312.8,1377.9 314.8,1377.9 316.8,1377.9 318.8,1377.9 320.8,1377.9 322.8,1377.9 324.8,1377.9 326.8,1377.9 328.8,1377.9 330.8,1377.9 332.8,1377.9 334.8,1377.9 336.8,1377.9 338.8,1377.9 340.8,1377.9 342.8,1377.9 344.8,1377.9 346.8,1377.9 348.8,1377.9 350.8,1377.9 352.8,1377.9 354.8,1377.9 356.8,1377.9 358.8,1377.9 360.8,1377.9 362.8,1377.9 364.8,1377.9 366.8,1377.9 368.8,1377.9 370.8,1377.9 372.8,1377.9 374.8,1377.9 376.8,1377.9 378.8,1377.9 380.8,1377.9 382.8,1377.9 384.8,1377.9 386.8,1377.9 388.8,1377.9 390.8,1377.9 392.8,1377.9 394.8,1377.9 396.8,1377.9 398.8,1377.9 400.8,1377.9 402.8,1377.9 404.8,1377.9 406.8,1377.9 408.8,1377.9 410.8,1377.9 412.8,1377.9 414.8,1377.9 416.8,1377.9 418.8,1377.9 420.8,1377.9 422.8,1377.9 424.8,1377.9 426.8,1377.9 428.8,1377.9 430.8,1377.9 432.8,1377.9 434.8,1377.9 436.8,1377.9 438.8,1377.9 440.8,1377.9 442.8,1377.9 444.8,1377.9 446.8,1377.9 448.8,1377.9 450.8,1377.9 452.8,1377.9 454.8,1377.9 456.8,1377.9 458.8,1377.9 460.8,1377.9 462.8,1377.9 464.8,1377.9 466.8,1377.9 468.8,1377.9 470.8,1377.9 472.8,1377.9 474.8,1377.9 476.8,1377.9 478.8,1377.9 480.8,1377.9 482.8,1377.9 484.8,1377.9 486.8,1377.9 488.8,1377.9 490.8,1377.9 492.8,1377.9 494.8,1377.9 496.8,1377.9 498.8,1377.9 500.8,1377.9 502.8,1377.9 504.8,1377.9 506.8,1377.9 508.8,1377.9 510.8,1377.9 512.8,1377.9 514.8,1377.9 516.8,1377.9 518.8,1377.9 520.8,1377.9 522.8,1377.9 524.8,1377.9 526.8,1377.9 528.8,1377.9 530.8,1377.9 532.8,1377.9 534.8,1377.9 536.8,1377.9 538.8,1377.9 540.8,1377.9 542.8,1377.9 544.8,1377.9 546.8,1377.9 548.8,1377.9 550.8,1377.9 552.8,1377.9 554.8,1377.9 556.8,1377.9 558.8,1377.9 560.8,1377.9 562.8,1377.9 564.8,1377.9 566.8,1377.9 568.8,1377.9 570.8,1377.9 572.8,1377.9 574.8,1377.9 576.8,1377.9 578.8,1377.9 580.8,1377.9 582.8,1377.9 584.8,1377.9 586.8,1377.9 588.8,1377.9 590.8,1377.9 592.8,1377.9 594.8,1377.9 596.8,1377.9 598.8,1377.9 600.8,1377.9 602.8,1377.9 604.8,1377.9 606.8,1377.9 608.8,1377.9 610.8,1377.9 612.8,1377.9 614.8,1377.9 616.8,1377.9 618.8,1377.9 620.8,1377.9 622.8,1377.9 624.8,1377.9 626.8,1377.9 628.8,1377.9 630.8,1377.9 632.8,1377.9 634.8,1377.9 636.8,1377.9 638.8,1377.9 640.8,1377.9 642.8,1377.9 644.8,1377.9 646.8,1377.9 648.8,1377.9 650.8,1377.9 652.8,1377.9 654.8,1377.9 656.8,1377.9 658.8,1377.9 660.8,1377.9 662.8,1377.9 664.8,1377.9 666.8,1377.9 668.8,1377.9 670.8,1377.9 672.8,1377.9 674.8,1377.9 676.8,1377.9 678.8,1377.9 680.8,1377.9 682.8,1377.9 684.8,1377.9 686.8,1377.9 688.8,1377.9 690.8,1377.9 692.8,1377.9 694.8,1377.9 696.8,1377.9 698.8,1377.9 700.8,1377.9 702.8,1377.9 704.8,1377.9 706.8,1377.9 708.8,1377.9 710.8,1377.9 712.8,1377.9 714.8,1377.9 716.8,1377.9 718.8,1377.9 720.8,1377.8 722.8,1377.8 724.8,1377.8 726.8,1377.8 728.8,1377.8 730.8,1377.8 732.8,1377.8 734.8,1377.8 736.8,1377.8 738.8,1377.8 740.8,1377.8 742.8,1377.8 744.8,1377.8 746.8,1377.8 748.8,1377.8 750.8,1377.8 752.8,1377.8 754.8,1377.8 756.8,1377.8 758.8,1377.8 760.8,1377.8 762.8,1377.8 764.8,1377.8 766.8,1377.8 768.8,1377.8 770.8,1377.8 772.8,1377.8 774.8,1377.8 776.8,1377.8 778.8,1377.8 780.8,1377.8 782.8,1377.8 784.8,1377.8 786.8,1377.8 788.8,1377.8 790.8,1377.8 792.8,1377.8 794.8,1377.8 796.8,1377.8 798.8,1377.8 800.8,1377.8 802.8,1377.8 804.8,1377.8 806.8,1377.8 808.8,1377.8 810.8,1377.8 812.8,1377.8 814.8,1377.8 816.8,1377.8 818.8,1377.8 820.8,1377.8 822.8,1377.8 824.8,1377.8 826.8,1377.8 828.8,1377.8 830.8,1377.8 832.8,1377.8 834.8,1377.8 836.8,1377.8 838.8,1377.8 840.8,1377.8 842.8,1377.8 844.8,1377.8 846.8,1377.8 848.8,1377.8 850.8,1377.8 852.8,1377.8 854.8,1377.8 856.8,1377.8 858.8,1377.8 860.8,1377.8 862.8,1377.8 864.8,1377.8 866.8,1377.8 868.8,1377.8 870.8,1377.8 872.8,1377.8 874.8,1377.8 876.8,1377.8 878.8,1377.8 880.8,1377.8 882.8,1377.8 884.8,1377.8 886.8,1377.8 888.8,1377.8 890.8,1377.8 892.8,1377.8 894.8,1377.8 896.8,1377.8 898.8,1377.8 900.8,1377.8 902.8,1377.8 904.8,1377.8 906.8,1377.8 908.8,1377.8 910.8,1377.8 912.8,1377.8 914.8,1377.8 916.8,1377.8 918.8,1377.8 920.8,1377.8 922.8,1377.7 924.8,1377.7 926.8,1377.7 928.8,1377.7 930.8,1377.7 932.8,1377.7 934.8,1377.7 936.8,1377.7 938.8,1377.7 940.8,1377.7 942.8,1377.7 944.8,1377.7 946.8,1377.7 948.8,1377.7 950.8,1377.7 952.8,1377.7 954.8,1377.7 956.8,1377.7 958.8,1377.7 960.8,1377.7 962.8,1377.7 964.8,1377.7 966.8,1377.7 968.8,1377.7 970.8,1377.7 972.8,1377.7 974.8,1377.7 976.8,1377.7 978.8,1377.7 980.8,1377.7 982.8,1377.7 984.8,1377.7 986.8,1377.7 988.8,1377.7 990.8,1377.7 992.8,1377.7 994.8,1377.7 996.8,1377.7 998.8,1377.7 1000.8,1377.7 1002.8,1377.7 1004.8,1377.7 1006.8,1377.7 1008.8,1377.7 1010.8,1377.7 1012.8,1377.7 1014.8,1377.7 1016.8,1377.7 1018.8,1377.7 1020.8,1377.7 1022.8,1377.7 1024.8,1377.7 1026.8,1377.7 1028.8,1377.7 1030.8,1377.6 1032.8,1377.6 1034.8,1377.6 1036.8,1377.6 1038.8,1377.6 1040.8,1377.6 1042.8,1377.6 1044.8,1377.6 1046.8,1377.6 1048.8,1377.6 1050.8,1377.6 1052.8,1377.6 1054.8,1377.6 1056.8,1377.6 1058.8,1377.6 1060.8,1377.6 1062.8,1377.6 1064.8,1377.6 1066.8,1377.6 1068.8,1377.6 1070.8,1377.6 1072.8,1377.6 1074.8,1377.6 1076.8,1377.6 1078.8,1377.6 1080.8,1377.6 1082.8,1377.6 1084.8,1377.6 1086.8,1377.6 1088.8,1377.5 1090.8,1377.5 1092.8,1377.5 1094.8,1377.5 1096.8,1377.5 1098.8,1377.5 1100.8,1377.5 1102.8,1377.5 1104.8,1377.5 1106.8,1377.5 1108.8,1377.5 1110.8,1377.5 1112.8,1377.5 1114.8,1377.5 1116.8,1377.5 1118.8,1377.5 1120.8,1377.4 1122.8,1377.4 1124.8,1377.4 1126.8,1377.4 1128.8,1377.4 1130.8,1377.4 1132.8,1377.4 1134.8,1377.4 1136.8,1377.4 1138.8,1377.3 1140.8,1377.3 1142.8,1377.3 1144.8,1377.3 1146.8,1377.3 1148.8,1377.3 1150.8,1377.3 1152.8,1377.2 1154.8,1377.2 1156.8,1377.2 1158.8,1377.2 1160.8,1377.2 1162.8,1377.1 1164.8,1377.1 1166.8,1377.1 1168.8,1377.1 1170.8,1377.1 1172.8,1377.0 1174.8,1377.0 1176.8,1377.0 1178.8,1376.9 1180.8,1376.9 1182.8,1376.9 1184.8,1376.8 1186.8,1376.8 1188.8,1376.8 1190.8,1376.7 1192.8,1376.7 1194.8,1376.6 1196.8,1376.6 1198.8,1376.5 1200.8,1376.5 1202.8,1376.4 1204.8,1376.4 1206.8,1376.3 1208.8,1376.3 1210.8,1376.2 1212.8,1376.1 1214.8,1376.1 1216.8,1376.0 1218.8,1375.9 1220.8,1375.8 1222.8,1375.7 1224.8,1375.7 1226.8,1375.6 1228.8,1375.5 1230.8,1375.4 1232.8,1375.3 1234.8,1375.2 1236.8,1375.1 1238.8,1374.9 1240.8,1374.8 1242.8,1374.7 1244.8,1374.6 1246.8,1374.4 1248.8,1374.3 1250.8,1374.1 1252.8,1374.0 1254.8,1373.8 1256.8,1373.6 1258.8,1373.5 1260.8,1373.3 1262.8,1373.1 1264.8,1372.9 1266.8,1372.7 1268.8,1372.5 1270.8,1372.3 1272.8,1372.0 1274.8,1371.8 1276.8,1371.6 1278.8,1371.3 1280.8,1371.0 1282.8,1370.8 1284.8,1370.5 1286.8,1370.2 1288.8,1369.9 1290.8,1369.6 1292.8,1369.2 1294.8,1368.9 1296.8,1368.6 1298.8,1368.2 1300.8,1367.8 1302.8,1367.4 1304.8,1367.0 1306.8,1366.6 1308.8,1366.2 1310.8,1365.8 1312.8,1365.3 1314.8,1364.8 1316.8,1364.4 1318.8,1363.9 1320.8,1363.4 1322.8,1362.8 1324.8,1362.3 1326.8,1361.7 1328.8,1361.2 1330.8,1360.6 1332.8,1360.0 1334.8,1359.3 1336.8,1358.7 1338.8,1358.0 1340.8,1357.4 1342.8,1356.7 1344.8,1355.9 1346.8,1355.2 1348.8,1354.5 1350.8,1353.7 1352.8,1352.9 1354.8,1352.1 1356.8,1351.3 1358.8,1350.4 1360.8,1349.6 1362.8,1348.7 1364.8,1347.8 1366.8,1346.8 1368.8,1345.9 1370.8,1344.9 1372.8,1343.9 1374.8,1342.9 1376.8,1341.9 1378.8,1340.9 1380.8,1339.8 1382.8,1338.7 1384.8,1337.6 1386.8,1336.4 1388.8,1335.3 1390.8,1334.1 1392.8,1332.9 1394.8,1331.7 1396.8,1330.5 1398.8,1329.2 1400.8,1327.9 1402.8,1326.6 1404.8,1325.3 1406.8,1324.0 1408.8,1322.6 1410.8,1321.3 1412.8,1319.9 1414.8,1318.5 1416.8,1317.0 1418.8,1315.6 1420.8,1314.1 1422.8,1312.6 1424.8,1311.1 1426.8,1309.6 1428.8,1308.1 1430.8,1306.6 1432.8,1305.0 1434.8,1303.4 1436.8,1301.8 1438.8,1300.2 1440.8,1298.6 1442.8,1297.0 1444.8,1295.4 1446.8,1293.7 1448.8,1292.1 1450.8,1290.4 1452.8,1288.8 1454.8,1287.1 1456.8,1285.4 1458.8,1283.7 1460.8,1282.0 1462.8,1280.3 1464.8,1278.6 1466.8,1276.9 1468.8,1275.2 1470.8,1273.5 1472.8,1271.8 1474.8,1270.1 1476.8,1268.4 1478.8,1266.7 1480.8,1265.0 1482.8,1263.4 1484.8,1261.7 1486.8,1260.0 1488.8,1258.4 1490.8,1256.7 1492.8,1255.1 1494.8,1253.4 1496.8,1251.8 1498.8,1250.2 1500.8,1248.6 1502.8,1247.1 1504.8,1245.5 1506.8,1244.0 1508.8,1242.5 1510.8,1241.0 1512.8,1239.5 1514.8,1238.0 1516.8,1236.6 1518.8,1235.2 1520.8,1233.8 1522.8,1232.5 1524.8,1231.1 1526.8,1229.8 1528.8,1228.6 1530.8,1227.3 1532.8,1226.1 1534.8,1224.9 1536.8,1223.8 1538.8,1222.7 1540.8,1221.6 1542.8,1220.6 1544.8,1219.6 1546.8,1218.6 1548.8,1217.7 1550.8,1216.8 1552.8,1215.9 1554.8,1215.1 1556.8,1214.3 1558.8,1213.6 1560.8,1212.9 1562.8,1212.3 1564.8,1211.7 1566.8,1211.1 1568.8,1210.6 1570.8,1210.1 1572.8,1209.7 1574.8,1209.3 1576.8,1209.0 1578.8,1208.7 1580.8,1208.4 1582.8,1208.2 1584.8,1208.0 1586.8,1207.9 1588.8,1207.8 1590.8,1207.8 1592.8,1207.8 1594.8,1207.9 1596.8,1208.0 1598.8,1208.1 1600.8,1208.3 1602.8,1208.5 1604.8,1208.8 1606.8,1209.1 1608.8,1209.4 1610.8,1209.9 1612.8,1210.3 1614.8,1210.8 1616.8,1211.3 1618.8,1211.9 1620.8,1212.5 1622.8,1213.2 1624.8,1213.9 1626.8,1214.6 1628.8,1215.4 1630.8,1216.3 1632.8,1217.1 1634.8,1218.0 1636.8,1219.0 1638.8,1220.0 1640.8,1221.0 1642.8,1222.0 1644.8,1223.1 1646.8,1224.2 1648.8,1225.4 1650.8,1226.6 1652.8,1227.8 1654.8,1229.1 1656.8,1230.3 1658.8,1231.7 1660.8,1233.0 1662.8,1234.4 1664.8,1235.8 1666.8,1237.2 1668.8,1238.6 1670.8,1240.1 1672.8,1241.6 1674.8,1243.1 1676.8,1244.6 1678.8,1246.1 1680.8,1247.7 1682.8,1249.3 1684.8,1250.9 1686.8,1252.5 1688.8,1254.1 1690.8,1255.7 1692.8,1257.4 1694.8,1259.0 1696.8,1260.7 1698.8,1262.4 1700.8,1264.0 1702.8,1265.7 1704.8,1267.4 1706.8,1269.1 1708.8,1270.8 1710.8,1272.5 1712.8,1274.2 1714.8,1275.9 1716.8,1277.6 1718.8,1279.3 1720.8,1281.0 1722.8,1282.7 1724.8,1284.4 1726.8,1286.1 1728.8,1287.8 1730.8,1289.4 1732.8,1291.1 1734.8,1292.7 1736.8,1294.4 1738.8,1296.0 1740.8,1297.7 1742.8,1299.3 1744.8,1300.9 1746.8,1302.5 1748.8,1304.1 1750.8,1305.6 1752.8,1307.2 1754.8,1308.7 1756.8,1310.2 1758.8,1311.7 1760.8,1313.2 1762.8,1314.7 1764.8,1316.2 1766.8,1317.6 1768.8,1319.0 1770.8,1320.4 1772.8,1321.8 1774.8,1323.2 1776.8,1324.5 1778.8,1325.8 1780.8,1327.2 1782.8,1328.4 1784.8,1329.7 1786.8,1331.0 1788.8,1332.2 1790.8,1333.4 1792.8,1334.6 1794.8,1335.8 1796.8,1336.9 1798.8,1338.0 1800.8,1339.1 1802.8,1340.2 1804.8,1341.3 1806.8,1342.3 1808.8,1343.3 1810.8,1344.3 1812.8,1345.3 1814.8,1346.3 1816.8,1347.2 1818.8,1348.1 1820.8,1349.0 1822.8,1349.9 1824.8,1350.8 1826.8,1351.6 1828.8,1352.4 1830.8,1353.2 1832.8,1354.0 1834.8,1354.8 1836.8,1355.5 1838.8,1356.2 1840.8,1356.9 1842.8,1357.6 1844.8,1358.3 1846.8,1359.0 1848.8,1359.6 1850.8,1360.2 1852.8,1360.8 1854.8,1361.4 1856.8,1362.0 1858.8,1362.5 1860.8,1363.0 1862.8,1363.6 1864.8,1364.1 1866.8,1364.6 1868.8,1365.0 1870.8,1365.5 1872.8,1365.9 1874.8,1366.4 1876.8,1366.8 1878.8,1367.2 1880.8,1367.6 1882.8,1368.0 1884.8,1368.3 1886.8,1368.7 1888.8,1369.0 1890.8,1369.4 1892.8,1369.7 1894.8,1370.0 1896.8,1370.3 1898.8,1370.6 1900.8,1370.9 1902.8,1371.1 1904.8,1371.4 1906.8,1371.7 1908.8,1371.9 1910.8,1372.1 1912.8,1372.4 1914.8,1372.6 1916.8,1372.8 1918.8,1373.0 1920.8,1373.2 1922.8,1373.4 1924.8,1373.5 1926.8,1373.7 1928.8,1373.9 1930.8,1374.0 1932.8,1374.2 1934.8,1374.3 1936.8,1374.5 1938.8,1374.6 1940.8,1374.7 1942.8,1374.9 1944.8,1375.0 1946.8,1375.1 1948.8,1375.2 1950.8,1375.3 1952.8,1375.4 1954.8,1375.5 1956.8,1375.6 1958.8,1375.7 1960.8,1375.8 1962.8,1375.9 1964.8,1375.9 1966.8,1376.0 1968.8,1376.1 1970.8,1376.2 1972.8,1376.2 1974.8,1376.3 1976.8,1376.3 1978.8,1376.4 1980.8,1376.5 1982.8,1376.5 1984.8,1376.6 1986.8,1376.6 1988.8,1376.7 1990.8,1376.7 1992.8,1376.7 1994.8,1376.8 1996.8,1376.8 1998.8,1376.9 2000.8,1376.9 2002.8,1376.9 2004.8,1376.9 2006.8,1377.0 2008.8,1377.0 2010.8,1377.0 2012.8,1377.1 2014.8,1377.1 2016.8,1377.1 2018.8,1377.1 2020.8,1377.2 2022.8,1377.2 2024.8,1377.2 2026.8,1377.2 2028.8,1377.2 2030.8,1377.3 2032.8,1377.3 2034.8,1377.3 2036.8,1377.3 2038.8,1377.3 2040.8,1377.3 2042.8,1377.3 2044.8,1377.4 2046.8,1377.4 2048.8,1377.4 2050.8,1377.4 2052.8,1377.4 2054.8,1377.4 2056.8,1377.4 2058.8,1377.4 2060.8,1377.4 2062.8,1377.4 2064.8,1377.5 2066.8,1377.5 2068.8,1377.5 2070.8,1377.5 2072.8,1377.5 2074.8,1377.5 2076.8,1377.5 2078.8,1377.5 2080.8,1377.5 2082.8,1377.5 2084.8,1377.5 2086.8,1377.5 2088.8,1377.5 2090.8,1377.5 2092.8,1377.5 2094.8,1377.5 2096.8,1377.6 2098.8,1377.6 2100.8,1377.6 2102.8,1377.6 2104.8,1377.6 2106.8,1377.6 2108.8,1377.6 2110.8,1377.6 2112.8,1377.6 2114.8,1377.6 2116.8,1377.6 2118.8,1377.6 2120.8,1377.6 2122.8,1377.6 2124.8,1377.6 2126.8,1377.6 2128.8,1377.6 2130.8,1377.6 2132.8,1377.6 2134.8,1377.6 2136.8,1377.6 2138.8,1377.6 2140.8,1377.6 2142.8,1377.6 2144.8,1377.6 2146.8,1377.6 2148.8,1377.6 2150.8,1377.6 2152.8,1377.6"/>
<polyline stroke="#0000ff" points="114.8,803.0 116.8,797.5 118.8,792.8 120.8,789.3 122.8,786.9 124.8,785.2 126.8,784.1 128.8,783.3 130.8,782.6 132.8,781.8 134.8,780.6 136.8,779.0 138.8,777.2 140.8,775.2 142.8,772.8 144.8,770.3 146.8,767.6 148.8,764.7 150.8,761.7 152.8,758.6 154.8,755.4 156.8,752.2 158.8,749.0 160.8,745.9 162.8,742.8 164.8,739.9 166.8,737.2 168.8,734.7 170.8,732.4 172.8,730.4 174.8,728.6 176.8,727.2 178.8,726.0 180.8,725.2 182.8,724.6 184.8,724.3 186.8,724.4 188.8,724.7 190.8,725.4 192.8,726.3 194.8,727.6 196.8,729.0 198.8,730.7 200.8,732.6 202.8,734.8 204.8,737.1 206.8,739.6 208.8,742.3 210.8,745.2 212.8,748.1 214.8,751.2 216.8,754.4 218.8,757.8 220.8,761.1 222.8,764.6 224.8,768.1 226.8,771.7 228.8,775.3 230.8,778.9 232.8,782.5 234.8,786.2 236.8,789.9 238.8,793.6 240.8,797.3 242.8,801.0 244.8,804.7 246.8,808.5 248.8,812.2 250.8,815.9 252.8,819.6 254.8,823.3 256.8,826.9 258.8,830.5 260.8,834.1 262.8,837.7 264.8,841.3 266.8,844.7 268.8,848.2 270.8,851.6 272.8,854.9 274.8,858.2 276.8,861.5 278.8,864.6 280.8,867.7 282.8,870.7 284.8,873.7 286.8,876.5 288.8,879.3 290.8,882.0 292.8,884.6 294.8,887.1 296.8,889.5 298.8,891.8 300.8,894.0 302.8,896.1 304.8,898.0 306.8,899.8 308.8,901.4 310.8,902.8 312.8,904.1 314.8,905.1 316.8,905.8 318.8,906.3 320.8,906.5 322.8,906.4 324.8,905.9 326.8,904.8 328.8,903.0 330.8,900.6 332.8,897.6 334.8,894.3 336.8,890.7 338.8,887.0 340.8,883.4 342.8,879.9 344.8,876.8 346.8,874.2 348.8,872.2 350.8,870.9 352.8,870.3 354.8,870.5 356.8,871.4 358.8,873.1 360.8,875.6 362.8,878.9 364.8,883.1 366.8,888.0 368.8,893.8 370.8,900.3 372.8,907.3 374.8,914.5 376.8,921.7 378.8,928.6 380.8,935.3 382.8,941.9 384.8,948.2 386.8,954.2 388.8,960.1 390.8,965.6 392.8,970.9 394.8,976.0 396.8,980.9 398.8,985.6 400.8,990.2 402.8,994.5 404.8,998.7 406.8,1002.8 408.8,1006.7 410.8,1010.6 412.8,1014.4 414.8,1018.1 416.8,1021.7 418.8,1025.3 420.8,1028.8 422.8,1032.4 424.8,1035.9 426.8,1039.5 428.8,1043.1 430.8,1046.6 432.8,1050.2 434.8,1053.6 436.8,1057.0 438.8,1060.3 440.8,1063.5 442.8,1066.6 444.8,1069.5 446.8,1072.2 448.8,1074.7 450.8,1077.0 452.8,1079.1 454.8,1081.1 456.8,1083.0 458.8,1085.1 460.8,1087.4 462.8,1090.1 464.8,1093.2 466.8,1096.9 468.8,1101.2 470.8,1106.1 472.8,1111.6 474.8,1117.7 476.8,1124.4 478.8,1131.6 480.8,1139.5 482.8,1147.9 484.8,1156.8 486.8,1166.3 488.8,1176.3 490.8,1186.7 492.8,1197.3 494.8,1208.1 496.8,1218.9 498.8,1229.7 500.8,1240.3 502.8,1250.5 504.8,1260.4 506.8,1269.8 508.8,1278.6 510.8,1286.6 512.8,1293.8 514.8,1300.2 516.8,1305.9 518.8,1311.0 520.8,1315.4 522.8,1319.3 524.8,1322.7 526.8,1325.7 528.8,1328.3 530.8,1330.5 532.8,1332.5 534.8,1334.2 536.8,1335.7 538.8,1336.8 540.8,1337.6 542.8,1338.1 544.8,1338.3 546.8,1338.2 548.8,1337.7 550.8,1336.8 552.8,1335.6 554.8,1334.0 556.8,1332.0 558.8,1329.6 560.8,1326.7 562.8,1323.5 564.8,1320.0 566.8,1316.1 568.8,1312.0 570.8,1307.8 572.8,1303.4 574.8,1298.9 576.8,1294.4 578.8,1289.9 580.8,1285.4 582.8,1280.9 584.8,1276.4 586.8,1272.0 588.8,1267.7 590.8,1263.4 592.8,1259.2 594.8,1255.1 596.8,1251.1 598.8,1247.2 600.8,1243.4 602.8,1239.8 604.8,1236.4 606.8,1233.0 608.8,1229.9 610.8,1226.8 612.8,1223.9 614.8,1221.0 616.8,1218.4 618.8,1215.8 620.8,1213.4 622.8,1211.3 624.8,1209.4 626.8,1207.8 628.8,1206.6 630.8,1205.8 632.8,1205.4 634.8,1205.5 636.8,1206.2 638.8,1207.4 640.8,1209.3 642.8,1211.8 644.8,1215.0 646.8,1219.0 648.8,1223.6 650.8,1228.8 652.8,1234.5 654.8,1240.6 656.8,1247.1 658.8,1253.7 660.8,1260.4 662.8,1267.2 664.8,1273.9 666.8,1280.5 668.8,1286.8 670.8,1293.0 672.8,1298.8 674.8,1304.4 676.8,1309.7 678.8,1314.5 680.8,1319.1 682.8,1323.1 684.8,1326.8 686.8,1329.9 688.8,1332.5 690.8,1334.6 692.8,1336.1 694.8,1336.9 696.8,1337.2 698.8,1336.7 700.8,1335.5 702.8,1333.6 704.8,1330.9 706.8,1327.4 708.8,1323.0 710.8,1317.8 712.8,1311.7 714.8,1304.6 716.8,1296.5 718.8,1287.5 720.8,1277.5 722.8,1266.6 724.8,1254.9 726.8,1242.4 728.8,1229.4 730.8,1215.8 732.8,1201.8 734.8,1187.4 736.8,1172.7 738.8,1157.8 740.8,1142.8 742.8,1127.8 744.8,1112.9 746.8,1098.1 748.8,1083.5 750.8,1069.1 752.8,1054.8 754.8,1040.8 756.8,1026.9 758.8,1013.1 760.8,999.5 762.8,986.1 764.8,972.8 766.8,959.6 768.8,946.6 770.8,933.7 772.8,920.9 774.8,908.2 776.8,895.6 778.8,883.1 780.8,870.7 782.8,858.3 784.8,846.1 786.8,833.9 788.8,821.7 790.8,809.7 792.8,797.6 794.8,785.6 796.8,773.6 798.8,761.7 800.8,749.8 802.8,737.9 804.8,726.0 806.8,714.1 808.8,702.4 810.8,690.9 812.8,679.6 814.8,668.7 816.8,658.1 818.8,648.0 820.8,638.4 822.8,629.1 824.8,620.3 826.8,611.8 828.8,603.7 830.8,595.9 832.8,588.3 834.8,581.0 836.8,573.8 838.8,566.9 840.8,560.0 842.8,553.3 844.8,546.6 846.8,540.0 848.8,533.4 850.8,526.8 852.8,520.2 854.8,513.7 856.8,507.2 858.8,500.8 860.8,494.6 862.8,488.4 864.8,482.5 866.8,476.6 868.8,471.0 870.8,465.5 872.8,460.3 874.8,455.3 876.8,450.6 878.8,446.2 880.8,442.0 882.8,438.2 884.8,434.7 886.8,431.6 888.8,428.8 890.8,426.4 892.8,424.3 894.8,422.6 896.8,421.2 898.8,420.0 900.8,419.1 902.8,418.5 904.8,418.1 906.8,418.0 908.8,418.0 910.8,418.1 912.8,418.5 914.8,419.0 916.8,419.6 918.8,420.2 920.8,421.0 922.8,421.8 924.8,422.7 926.8,423.6 928.8,424.5 930.8,425.4 932.8,426.2 934.8,427.0 936.8,427.8 938.8,428.5 940.8,429.1 942.8,429.7 944.8,430.2 946.8,430.6 948.8,431.0 950.8,431.2 952.8,431.4 954.8,431.4 956.8,431.3 958.8,431.1 960.8,430.8 962.8,430.4 964.8,429.8 966.8,429.1 968.8,428.2 970.8,427.1 972.8,425.9 974.8,424.5 976.8,423.0 978.8,421.2 980.8,419.3 982.8,417.1 984.8,414.8 986.8,412.2 988.8,409.5 990.8,406.5 992.8,403.4 994.8,400.1 996.8,396.8 998.8,393.4 1000.8,390.0 1002.8,386.5 1004.8,383.1 1006.8,379.7 1008.8,376.4 1010.8,373.3 1012.8,370.2 1014.8,367.4 1016.8,364.7 1018.8,362.3 1020.8,360.1 1022.8,358.2 1024.8,356.4 1026.8,354.9 1028.8,353.6 1030.8,352.5 1032.8,351.5 1034.8,350.6 1036.8,349.9 1038.8,349.2 1040.8,348.6 1042.8,348.1 1044.8,347.7 1046.8,347.4 1048.8,347.2 1050.8,347.1 1052.8,347.1 1054.8,347.3 1056.8,347.7 1058.8,348.2 1060.8,349.0 1062.8,349.9 1064.8,351.1 1066.8,352.5 1068.8,354.2 1070.8,356.1 1072.8,358.3 1074.8,360.7 1076.8,363.3 1078.8,366.0 1080.8,368.9 1082.8,371.8 1084.8,374.8 1086.8,377.8 1088.8,380.7 1090.8,383.7 1092.8,386.7 1094.8,389.7 1096.8,392.6 1098.8,395.6 1100.8,398.6 1102.8,401.6 1104.8,404.6 1106.8,407.5 1108.8,410.5 1110.8,413.5 1112.8,416.5 1114.8,419.6 1116.8,422.6 1118.8,425.6 1120.8,428.7 1122.8,431.7 1124.8,434.8 1126.8,437.9 1128.8,441.0 1130.8,444.2 1132.8,447.3 1134.8,450.5 1136.8,453.7 1138.8,456.9 1140.8,460.2 1142.8,463.4 1144.8,466.7 1146.8,470.1 1148.8,473.4 1150.8,476.8 1152.8,480.2 1154.8,483.7 1156.8,487.1 1158.8,490.6 1160.8,494.2 1162.8,497.8 1164.8,501.4 1166.8,505.1 1168.8,508.8 1170.8,512.5 1172.8,516.3 1174.8,520.2 1176.8,524.0 1178.8,528.0 1180.8,531.9 1182.8,535.9 1184.8,540.0 1186.8,544.0 1188.8,548.1 1190.8,552.2 1192.8,556.3 1194.8,560.4 1196.8,564.6 1198.8,568.7 1200.8,572.9 1202.8,577.0 1204.8,581.2 1206.8,585.3 1208.8,589.4 1210.8,593.5 1212.8,597.5 1214.8,601.6 1216.8,605.7 1218.8,609.7 1220.8,613.8 1222.8,617.8 1224.8,621.9 1226.8,626.0 1228.8,630.1 1230.8,634.2 1232.8,638.4 1234.8,642.6 1236.8,646.9 1238.8,651.1 1240.8,655.5 1242.8,659.8 1244.8,664.2 1246.8,668.7 1248.8,673.1 1250.8,677.6 1252.8,682.1 1254.8,686.7 1256.8,691.2 1258.8,695.8 1260.8,700.4 1262.8,705.1 1264.8,709.7 1266.8,714.4 1268.8,719.1 1270.8,723.8 1272.8,728.5 1274.8,733.3 1276.8,738.0 1278.8,742.7 1280.8,747.5 1282.8,752.2 1284.8,757.0 1286.8,761.7 1288.8,766.5 1290.8,771.2 1292.8,775.9 1294.8,780.6 1296.8,785.2 1298.8,789.8 1300.8,794.4 1302.8,799.0 1304.8,803.5 1306.8,808.0 1308.8,812.4 1310.8,816.8 1312.8,821.1 1314.8,825.4 1316.8,829.6 1318.8,833.8 1320.8,837.8 1322.8,841.8 1324.8,845.8 1326.8,849.6 1328.8,853.4 1330.8,857.2 1332.8,860.9 1334.8,864.5 1336.8,868.0 1338.8,871.5 1340.8,875.0 1342.8,878.4 1344.8,881.8 1346.8,885.1 1348.8,888.4 1350.8,891.6 1352.8,894.8 1354.8,898.0 1356.8,901.2 1358.8,904.3 1360.8,907.4 1362.8,910.5 1364.8,913.5 1366.8,916.6 1368.8,919.6 1370.8,922.6 1372.8,925.6 1374.8,928.6 1376.8,931.6 1378.8,934.6 1380.8,937.6 1382.8,940.6 1384.8,943.6 1386.8,946.6 1388.8,949.7 1390.8,952.7 1392.8,955.7 1394.8,958.8 1396.8,961.8 1398.8,964.9 1400.8,967.9 1402.8,971.0 1404.8,974.0 1406.8,977.1 1408.8,980.1 1410.8,983.1 1412.8,986.1 1414.8,989.1 1416.8,992.1 1418.8,995.1 1420.8,998.0 1422.8,1001.0 1424.8,1003.9 1426.8,1006.7 1428.8,1009.6 1430.8,1012.4 1432.8,1015.3 1434.8,1018.0 1436.8,1020.8 1438.8,1023.5 1440.8,1026.2 1442.8,1028.8 1444.8,1031.5 1446.8,1034.0 1448.8,1036.6 1450.8,1039.1 1452.8,1041.6 1454.8,1044.1 1456.8,1046.6 1458.8,1049.0 1460.8,1051.4 1462.8,1053.8 1464.8,1056.1 1466.8,1058.4 1468.8,1060.7 1470.8,1063.0 1472.8,1065.2 1474.8,1067.4 1476.8,1069.6 1478.8,1071.7 1480.8,1073.9 1482.8,1076.0 1484.8,1078.1 1486.8,1080.2 1488.8,1082.2 1490.8,1084.2 1492.8,1086.2 1494.8,1088.2 1496.8,1090.2 1498.8,1092.1 1500.8,1094.0 1502.8,1095.9 1504.8,1097.8 1506.8,1099.7 1508.8,1101.5 1510.8,1103.4 1512.8,1105.2 1514.8,1107.0 1516.8,1108.7 1518.8,1110.5 1520.8,1112.2 1522.8,1113.9 1524.8,1115.7 1526.8,1117.3 1528.8,1119.0 1530.8,1120.7 1532.8,1122.3 1534.8,1124.0 1536.8,1125.6 1538.8,1127.2 1540.8,1128.8 1542.8,1130.4 1544.8,1131.9 1546.8,1133.5 1548.8,1135.1 1550.8,1136.6 1552.8,1138.1 1554.8,1139.6 1556.8,1141.1 1558.8,1142.6 1560.8,1144.1 1562.8,1145.6 1564.8,1147.1 1566.8,1148.5 1568.8,1150.0 1570.8,1151.5 1572.8,1152.9 1574.8,1154.3 1576.8,1155.8 1578.8,1157.2 1580.8,1158.7 1582.8,1160.1 1584.8,1161.5 1586.8,1162.9 1588.8,1164.4 1590.8,1165.8 1592.8,1167.2 1594.8,1168.6 1596.8,1170.1 1598.8,1171.5 1600.8,1172.9 1602.8,1174.3 1604.8,1175.8 1606.8,1177.2 1608.8,1178.7 1610.8,1180.1 1612.8,1181.6 1614.8,1183.0 1616.8,1184.5 1618.8,1186.0 1620.8,1187.4 1622.8,1188.9 1624.8,1190.4 1626.8,1191.9 1628.8,1193.5 1630.8,1195.0 1632.8,1196.5 1634.8,1198.1 1636.8,1199.6 1638.8,1201.2 1640.8,1202.8 1642.8,1204.4 1644.8,1206.0 1646.8,1207.6 1648.8,1209.2 1650.8,1210.8 1652.8,1212.5 1654.8,1214.1 1656.8,1215.7 1658.8,1217.4 1660.8,1219.0 1662.8,1220.6 1664.8,1222.3 1666.8,1223.9 1668.8,1225.6 1670.8,1227.2 1672.8,1228.8 1674.8,1230.5 1676.8,1232.1 1678.8,1233.7 1680.8,1235.3 1682.8,1237.0 1684.8,1238.6 1686.8,1240.2 1688.8,1241.8 1690.8,1243.4 1692.8,1244.9 1694.8,1246.5 1696.8,1248.1 1698.8,1249.7 1700.8,1251.2 1702.8,1252.7 1704.8,1254.3 1706.8,1255.8 1708.8,1257.3 1710.8,1258.8 1712.8,1260.3 1714.8,1261.8 1716.8,1263.2 1718.8,1264.7 1720.8,1266.1 1722.8,1267.6 1724.8,1269.0 1726.8,1270.4 1728.8,1271.7 1730.8,1273.1 1732.8,1274.4 1734.8,1275.8 1736.8,1277.1 1738.8,1278.4 1740.8,1279.7 1742.8,1280.9 1744.8,1282.2 1746.8,1283.4 1748.8,1284.6 1750.8,1285.7 1752.8,1286.9 1754.8,1288.0 1756.8,1289.2 1758.8,1290.3 1760.8,1291.4 1762.8,1292.4 1764.8,1293.5 1766.8,1294.5 1768.8,1295.5 1770.8,1296.5 1772.8,1297.5 1774.8,1298.5 1776.8,1299.5 1778.8,1300.4 1780.8,1301.4 1782.8,1302.3 1784.8,1303.2 1786.8,1304.1 1788.8,1305.0 1790.8,1305.8 1792.8,1306.7 1794.8,1307.6 1796.8,1308.4 1798.8,1309.2 1800.8,1310.0 1802.8,1310.9 1804.8,1311.7 1806.8,1312.5 1808.8,1313.3 1810.8,1314.0 1812.8,1314.8 1814.8,1315.6 1816.8,1316.3 1818.8,1317.1 1820.8,1317.8 1822.8,1318.6 1824.8,1319.3 1826.8,1320.0 1828.8,1320.7 1830.8,1321.4 1832.8,1322.1 1834.8,1322.8 1836.8,1323.5 1838.8,1324.2 1840.8,1324.9 1842.8,1325.5 1844.8,1326.2 1846.8,1326.8 1848.8,1327.5 1850.8,1328.1 1852.8,1328.8 1854.8,1329.4 1856.8,1330.0 1858.8,1330.6 1860.8,1331.3 1862.8,1331.9 1864.8,1332.5 1866.8,1333.1 1868.8,1333.7 1870.8,1334.3 1872.8,1334.9 1874.8,1335.4 1876.8,1336.0 1878.8,1336.6 1880.8,1337.2 1882.8,1337.7 1884.8,1338.3 1886.8,1338.9 1888.8,1339.4 1890.8,1340.0 1892.8,1340.5 1894.8,1341.1 1896.8,1341.6 1898.8,1342.2 1900.8,1342.7 1902.8,1343.3 1904.8,1343.8 1906.8,1344.3 1908.8,1344.9 1910.8,1345.4 1912.8,1345.9 1914.8,1346.5 1916.8,1347.0 1918.8,1347.5 1920.8,1348.0 1922.8,1348.5 1924.8,1349.1 1926.8,1349.6 1928.8,1350.1 1930.8,1350.6 1932.8,1351.1 1934.8,1351.7 1936.8,1352.2 1938.8,1352.7 1940.8,1353.2 1942.8,1353.7 1944.8,1354.2 1946.8,1354.7 1948.8,1355.2 1950.8,1355.7 1952.8,1356.1 1954.8,1356.6 1956.8,1357.1 1958.8,1357.5 1960.8,1358.0 1962.8,1358.5 1964.8,1358.9 1966.8,1359.3 1968.8,1359.8 1970.8,1360.2 1972.8,1360.6 1974.8,1361.0 1976.8,1361.4 1978.8,1361.8 1980.8,1362.1 1982.8,1362.5 1984.8,1362.8 1986.8,1363.2 1988.8,1363.5 1990.8,1363.8 1992.8,1364.1 1994.8,1364.4 1996.8,1364.7 1998.8,1364.9 2000.8,1365.2 2002.8,1365.4 2004.8,1365.6 2006.8,1365.8 2008.8,1366.0 2010.8,1366.2 2012.8,1366.3 2014.8,1366.5 2016.8,1366.6 2018.8,1366.6 2020.8,1366.7 2022.8,1366.7 2024.8,1366.7 2026.8,1366.6 2028.8,1366.5 2030.8,1366.3 2032.8,1366.1 2034.8,1365.9 2036.8,1365.6 2038.8,1365.2 2040.8,1364.9 2042.8,1364.6 2044.8,1364.3 2046.8,1364.1 2048.8,1364.1 2050.8,1364.2 2052.8,1364.4 2054.8,1364.9 2056.8,1365.6 2058.8,1366.4 2060.8,1367.4 2062.8,1368.5 2064.8,1369.4 2066.8,1370.3 2068.8,1371.0 2070.8,1371.6 2072.8,1372.0 2074.8,1372.4 2076.8,1372.7 2078.8,1373.0 2080.8,1373.2 2082.8,1373.4 2084.8,1373.5 2086.8,1373.6 2088.8,1373.8 2090.8,1373.9 2092.8,1374.0 2094.8,1374.1 2096.8,1374.2 2098.8,1374.3 2100.8,1374.4 2102.8,1374.5 2104.8,1374.6 2106.8,1374.7 2108.8,1374.7 2110.8,1374.8 2112.8,1374.9 2114.8,1374.9 2116.8,1375.0 2118.8,1375.0 2120.8,1375.1 2122.8,1375.1 2124.8,1375.2 2126.8,1375.2 2128.8,1375.2 2130.8,1375.3 2132.8,1375.3 2134.8,1375.3 2136.8,1375.3 2138.8,1375.3 2140.8,1375.3 2142.8,1375.3 2144.8,1375.3 2146.8,1375.3 2148.8,1375.3 2150.8,1375.3 2152.8,1375.3"/>
<polyline stroke="#000000" points="114.8,588.0 116.8,585.6 118.8,583.1 120.8,580.9 122.8,578.8 124.8,577.0 126.8,575.5 128.8,574.1 130.8,572.8 132.8,571.8 134.8,570.9 136.8,569.9 138.8,568.8 140.8,567.2 142.8,565.1 144.8,562.7 146.8,559.8 148.8,556.7 150.8,553.4 152.8,550.0 154.8,546.5 156.8,543.0 158.8,539.6 160.8,536.3 162.8,533.2 164.8,530.4 166.8,527.9 168.8,525.6 170.8,523.6 172.8,521.9 174.8,520.4 176.8,519.2 178.8,518.2 180.8,517.5 182.8,517.0 184.8,516.8 186.8,516.8 188.8,517.0 190.8,517.5 192.8,518.2 194.8,519.1 196.8,520.2 198.8,521.5 200.8,523.1 202.8,524.8 204.8,526.8 206.8,528.9 208.8,531.3 210.8,533.8 212.8,536.5 214.8,539.4 216.8,542.4 218.8,545.6 220.8,549.0 222.8,552.4 224.8,556.0 226.8,559.7 228.8,563.5 230.8,567.4 232.8,571.3 234.8,575.3 236.8,579.4 238.8,583.6 240.8,587.7 242.8,592.0 244.8,596.2 246.8,600.4 248.8,604.7 250.8,608.9 252.8,613.1 254.8,617.3 256.8,621.5 258.8,625.6 260.8,629.6 262.8,633.6 264.8,637.5 266.8,641.3 268.8,645.0 270.8,648.6 272.8,652.1 274.8,655.5 276.8,658.7 278.8,661.8 280.8,664.7 282.8,667.5 284.8,670.0 286.8,672.4 288.8,674.7 290.8,676.7 292.8,678.6 294.8,680.4 296.8,682.1 298.8,683.7 300.8,685.1 302.8,686.5 304.8,687.9 306.8,689.1 308.8,690.4 310.8,691.6 312.8,692.8 314.8,694.0 316.8,695.2 318.8,696.3 320.8,697.3 322.8,698.0 324.8,698.3 326.8,698.1 328.8,697.3 330.8,695.7 332.8,693.4 334.8,690.3 336.8,686.4 338.8,682.0 340.8,677.5 342.8,673.0 344.8,668.8 346.8,665.2 348.8,662.3 350.8,660.4 352.8,659.5 354.8,659.7 356.8,660.9 358.8,663.0 360.8,665.9 362.8,669.6 364.8,674.0 366.8,679.0 368.8,684.6 370.8,690.5 372.8,696.8 374.8,703.3 376.8,709.9 378.8,716.5 380.8,723.0 382.8,729.3 384.8,735.2 386.8,740.9 388.8,746.3 390.8,751.6 392.8,756.8 394.8,762.0 396.8,767.1 398.8,772.2 400.8,777.2 402.8,782.1 404.8,787.0 406.8,791.8 408.8,796.5 410.8,801.1 412.8,805.5 414.8,809.9 416.8,814.1 418.8,818.1 420.8,821.9 422.8,825.6 424.8,829.2 426.8,832.6 428.8,835.9 430.8,839.0 432.8,842.1 434.8,844.9 436.8,847.7 438.8,850.4 440.8,853.0 442.8,855.4 444.8,857.8 446.8,860.1 448.8,862.3 450.8,864.4 452.8,866.5 454.8,868.6 456.8,870.8 458.8,873.1 460.8,875.8 462.8,878.8 464.8,882.2 466.8,886.1 468.8,890.6 470.8,895.8 472.8,901.7 474.8,908.3 476.8,915.5 478.8,923.2 480.8,931.5 482.8,940.2 484.8,949.2 486.8,958.5 488.8,968.1 490.8,977.9 492.8,987.8 494.8,997.8 496.8,1007.7 498.8,1017.6 500.8,1027.3 502.8,1036.9 504.8,1046.2 506.8,1055.2 508.8,1063.8 510.8,1072.0 512.8,1079.7 514.8,1086.8 516.8,1093.4 518.8,1099.2 520.8,1104.3 522.8,1108.7 524.8,1112.4 526.8,1115.4 528.8,1117.9 530.8,1120.0 532.8,1121.7 534.8,1123.0 536.8,1124.0 538.8,1124.6 540.8,1124.9 542.8,1124.9 544.8,1124.5 546.8,1123.9 548.8,1122.9 550.8,1121.6 552.8,1119.9 554.8,1118.0 556.8,1115.9 558.8,1113.4 560.8,1110.7 562.8,1107.8 564.8,1104.7 566.8,1101.3 568.8,1097.8 570.8,1094.2 572.8,1090.4 574.8,1086.5 576.8,1082.5 578.8,1078.4 580.8,1074.2 582.8,1070.0 584.8,1065.8 586.8,1061.5 588.8,1057.3 590.8,1053.1 592.8,1048.9 594.8,1044.8 596.8,1040.7 598.8,1036.8 600.8,1032.9 602.8,1029.2 604.8,1025.7 606.8,1022.3 608.8,1019.1 610.8,1016.1 612.8,1013.3 614.8,1010.8 616.8,1008.5 618.8,1006.5 620.8,1004.7 622.8,1003.3 624.8,1002.2 626.8,1001.5 628.8,1001.0 630.8,1000.9 632.8,1001.2 634.8,1001.8 636.8,1002.8 638.8,1004.1 640.8,1005.9 642.8,1008.0 644.8,1010.6 646.8,1013.5 648.8,1016.9 650.8,1020.7 652.8,1025.0 654.8,1029.7 656.8,1034.9 658.8,1040.5 660.8,1046.6 662.8,1053.0 664.8,1059.7 666.8,1066.5 668.8,1073.4 670.8,1080.3 672.8,1087.2 674.8,1093.8 676.8,1100.3 678.8,1106.3 680.8,1112.0 682.8,1117.2 684.8,1121.9 686.8,1125.9 688.8,1129.3 690.8,1132.0 692.8,1133.9 694.8,1134.9 696.8,1135.1 698.8,1134.2 700.8,1132.4 702.8,1129.6 704.8,1125.9 706.8,1121.2 708.8,1115.6 710.8,1109.0 712.8,1101.5 714.8,1093.1 716.8,1083.7 718.8,1073.6 720.8,1062.7 722.8,1051.1 724.8,1038.9 726.8,1026.1 728.8,1012.8 730.8,999.2 732.8,985.2 734.8,970.9 736.8,956.4 738.8,941.8 740.8,927.1 742.8,912.4 744.8,897.8 746.8,883.3 748.8,868.9 750.8,854.8 752.8,840.8 754.8,827.0 756.8,813.3 758.8,799.8 760.8,786.5 762.8,773.2 764.8,760.1 766.8,747.1 768.8,734.2 770.8,721.5 772.8,708.8 774.8,696.2 776.8,683.7 778.8,671.3 780.8,658.9 782.8,646.7 784.8,634.5 786.8,622.4 788.8,610.4 790.8,598.5 792.8,586.7 794.8,575.0 796.8,563.5 798.8,552.0 800.8,540.7 802.8,529.5 804.8,518.5 806.8,507.6 808.8,496.8 810.8,486.2 812.8,475.7 814.8,465.4 816.8,455.3 818.8,445.4 820.8,435.6 822.8,426.0 824.8,416.6 826.8,407.4 828.8,398.4 830.8,389.6 832.8,381.0 834.8,372.6 836.8,364.3 838.8,356.3 840.8,348.5 842.8,340.9 844.8,333.5 846.8,326.3 848.8,319.3 850.8,312.5 852.8,306.0 854.8,299.6 856.8,293.4 858.8,287.5 860.8,281.7 862.8,276.2 864.8,270.8 866.8,265.7 868.8,260.8 870.8,256.1 872.8,251.6 874.8,247.4 876.8,243.3 878.8,239.5 880.8,235.9 882.8,232.5 884.8,229.3 886.8,226.3 888.8,223.6 890.8,221.0 892.8,218.7 894.8,216.6 896.8,214.8 898.8,213.1 900.8,211.7 902.8,210.5 904.8,209.5 906.8,208.8 908.8,208.2 910.8,207.8 912.8,207.7 914.8,207.6 916.8,207.8 918.8,208.1 920.8,208.6 922.8,209.1 924.8,209.8 926.8,210.6 928.8,211.5 930.8,212.5 932.8,213.6 934.8,214.7 936.8,215.9 938.8,217.1 940.8,218.3 942.8,219.6 944.8,220.9 946.8,222.1 948.8,223.3 950.8,224.3 952.8,225.2 954.8,226.0 956.8,226.5 958.8,226.7 960.8,226.7 962.8,226.3 964.8,225.5 966.8,224.4 968.8,222.8 970.8,220.8 972.8,218.6 974.8,216.0 976.8,213.2 978.8,210.2 980.8,207.1 982.8,203.9 984.8,200.5 986.8,197.2 988.8,193.8 990.8,190.4 992.8,187.0 994.8,183.6 996.8,180.2 998.8,176.9 1000.8,173.6 1002.8,170.4 1004.8,167.3 1006.8,164.2 1008.8,161.3 1010.8,158.5 1012.8,155.8 1014.8,153.3 1016.8,151.0 1018.8,148.8 1020.8,146.8 1022.8,145.1 1024.8,143.5 1026.8,142.2 1028.8,141.1 1030.8,140.2 1032.8,139.5 1034.8,138.9 1036.8,138.5 1038.8,138.3 1040.8,138.3 1042.8,138.4 1044.8,138.6 1046.8,139.0 1048.8,139.4 1050.8,140.0 1052.8,140.7 1054.8,141.5 1056.8,142.4 1058.8,143.4 1060.8,144.5 1062.8,145.7 1064.8,147.0 1066.8,148.3 1068.8,149.8 1070.8,151.3 1072.8,153.0 1074.8,154.7 1076.8,156.5 1078.8,158.4 1080.8,160.3 1082.8,162.4 1084.8,164.5 1086.8,166.7 1088.8,169.0 1090.8,171.4 1092.8,173.8 1094.8,176.4 1096.8,179.0 1098.8,181.6 1100.8,184.3 1102.8,187.1 1104.8,190.0 1106.8,192.9 1108.8,195.9 1110.8,198.9 1112.8,202.0 1114.8,205.1 1116.8,208.3 1118.8,211.5 1120.8,214.7 1122.8,218.0 1124.8,221.4 1126.8,224.7 1128.8,228.2 1130.8,231.6 1132.8,235.0 1134.8,238.5 1136.8,242.0 1138.8,245.6 1140.8,249.1 1142.8,252.7 1144.8,256.2 1146.8,259.8 1148.8,263.4 1150.8,267.0 1152.8,270.6 1154.8,274.2 1156.8,277.8 1158.8,281.4 1160.8,285.0 1162.8,288.7 1164.8,292.3 1166.8,295.9 1168.8,299.6 1170.8,303.2 1172.8,306.9 1174.8,310.6 1176.8,314.3 1178.8,318.0 1180.8,321.7 1182.8,325.4 1184.8,329.1 1186.8,332.9 1188.8,336.7 1190.8,340.5 1192.8,344.3 1194.8,348.1 1196.8,351.9 1198.8,355.8 1200.8,359.7 1202.8,363.6 1204.8,367.5 1206.8,371.4 1208.8,375.4 1210.8,379.4 1212.8,383.4 1214.8,387.5 1216.8,391.5 1218.8,395.6 1220.8,399.7 1222.8,403.9 1224.8,408.1 1226.8,412.3 1228.8,416.5 1230.8,420.8 1232.8,425.1 1234.8,429.4 1236.8,433.8 1238.8,438.2 1240.8,442.6 1242.8,447.1 1244.8,451.6 1246.8,456.2 1248.8,460.8 1250.8,465.4 1252.8,470.0 1254.8,474.7 1256.8,479.5 1258.8,484.3 1260.8,489.1 1262.8,494.0 1264.8,498.9 1266.8,503.8 1268.8,508.7 1270.8,513.7 1272.8,518.7 1274.8,523.7 1276.8,528.7 1278.8,533.7 1280.8,538.8 1282.8,543.8 1284.8,548.7 1286.8,553.7 1288.8,558.7 1290.8,563.6 1292.8,568.5 1294.8,573.3 1296.8,578.1 1298.8,582.9 1300.8,587.6 1302.8,592.2 1304.8,596.8 1306.8,601.3 1308.8,605.8 1310.8,610.2 1312.8,614.4 1314.8,618.7 1316.8,622.8 1318.8,626.9 1320.8,630.9 1322.8,634.8 1324.8,638.7 1326.8,642.5 1328.8,646.3 1330.8,650.0 1332.8,653.6 1334.8,657.2 1336.8,660.8 1338.8,664.3 1340.8,667.7 1342.8,671.1 1344.8,674.5 1346.8,677.9 1348.8,681.2 1350.8,684.5 1352.8,687.8 1354.8,691.0 1356.8,694.2 1358.8,697.4 1360.8,700.6 1362.8,703.8 1364.8,706.9 1366.8,710.1 1368.8,713.2 1370.8,716.3 1372.8,719.4 1374.8,722.5 1376.8,725.6 1378.8,728.6 1380.8,731.7 1382.8,734.7 1384.8,737.7 1386.8,740.7 1388.8,743.7 1390.8,746.6 1392.8,749.6 1394.8,752.5 1396.8,755.4 1398.8,758.3 1400.8,761.2 1402.8,764.1 1404.8,766.9 1406.8,769.7 1408.8,772.6 1410.8,775.4 1412.8,778.2 1414.8,780.9 1416.8,783.7 1418.8,786.4 1420.8,789.1 1422.8,791.9 1424.8,794.5 1426.8,797.2 1428.8,799.9 1430.8,802.5 1432.8,805.1 1434.8,807.7 1436.8,810.3 1438.8,812.9 1440.8,815.5 1442.8,818.0 1444.8,820.5 1446.8,823.0 1448.8,825.5 1450.8,828.0 1452.8,830.5 1454.8,832.9 1456.8,835.3 1458.8,837.7 1460.8,840.1 1462.8,842.5 1464.8,844.8 1466.8,847.2 1468.8,849.5 1470.8,851.8 1472.8,854.1 1474.8,856.3 1476.8,858.6 1478.8,860.8 1480.8,863.0 1482.8,865.2 1484.8,867.4 1486.8,869.5 1488.8,871.7 1490.8,873.8 1492.8,875.9 1494.8,878.0 1496.8,880.0 1498.8,882.1 1500.8,884.1 1502.8,886.1 1504.8,888.1 1506.8,890.1 1508.8,892.1 1510.8,894.0 1512.8,896.0 1514.8,897.9 1516.8,899.8 1518.8,901.7 1520.8,903.5 1522.8,905.4 1524.8,907.2 1526.8,909.1 1528.8,910.9 1530.8,912.7 1532.8,914.5 1534.8,916.2 1536.8,918.0 1538.8,919.8 1540.8,921.5 1542.8,923.2 1544.8,924.9 1546.8,926.6 1548.8,928.3 1550.8,930.0 1552.8,931.6 1554.8,933.3 1556.8,934.9 1558.8,936.5 1560.8,938.1 1562.8,939.7 1564.8,941.3 1566.8,942.9 1568.8,944.4 1570.8,945.9 1572.8,947.4 1574.8,948.8 1576.8,950.2 1578.8,951.5 1580.8,952.8 1582.8,953.9 1584.8,955.1 1586.8,956.1 1588.8,957.1 1590.8,958.1 1592.8,959.0 1594.8,959.8 1596.8,960.7 1598.8,961.6 1600.8,962.5 1602.8,963.5 1604.8,964.5 1606.8,965.6 1608.8,966.7 1610.8,968.0 1612.8,969.4 1614.8,970.9 1616.8,972.5 1618.8,974.2 1620.8,975.9 1622.8,977.7 1624.8,979.6 1626.8,981.6 1628.8,983.5 1630.8,985.5 1632.8,987.6 1634.8,989.6 1636.8,991.6 1638.8,993.7 1640.8,995.7 1642.8,997.6 1644.8,999.6 1646.8,1001.4 1648.8,1003.2 1650.8,1005.0 1652.8,1006.7 1654.8,1008.3 1656.8,1009.8 1658.8,1011.3 1660.8,1012.7 1662.8,1014.1 1664.8,1015.5 1666.8,1016.8 1668.8,1018.2 1670.8,1019.6 1672.8,1020.9 1674.8,1022.3 1676.8,1023.7 1678.8,1025.2 1680.8,1026.6 1682.8,1028.1 1684.8,1029.6 1686.8,1031.1 1688.8,1032.7 1690.8,1034.2 1692.8,1035.7 1694.8,1037.3 1696.8,1038.9 1698.8,1040.4 1700.8,1042.0 1702.8,1043.6 1704.8,1045.1 1706.8,1046.7 1708.8,1048.2 1710.8,1049.8 1712.8,1051.3 1714.8,1052.8 1716.8,1054.4 1718.8,1055.9 1720.8,1057.3 1722.8,1058.8 1724.8,1060.3 1726.8,1061.7 1728.8,1063.1 1730.8,1064.5 1732.8,1065.9 1734.8,1067.2 1736.8,1068.6 1738.8,1069.9 1740.8,1071.2 1742.8,1072.5 1744.8,1073.8 1746.8,1075.0 1748.8,1076.3 1750.8,1077.5 1752.8,1078.7 1754.8,1079.9 1756.8,1081.1 1758.8,1082.2 1760.8,1083.4 1762.8,1084.5 1764.8,1085.6 1766.8,1086.7 1768.8,1087.8 1770.8,1088.9 1772.8,1089.9 1774.8,1091.0 1776.8,1092.0 1778.8,1093.0 1780.8,1094.0 1782.8,1095.0 1784.8,1095.9 1786.8,1096.9 1788.8,1097.8 1790.8,1098.7 1792.8,1099.6 1794.8,1100.5 1796.8,1101.4 1798.8,1102.2 1800.8,1103.1 1802.8,1103.9 1804.8,1104.7 1806.8,1105.5 1808.8,1106.3 1810.8,1107.1 1812.8,1107.8 1814.8,1108.6 1816.8,1109.3 1818.8,1110.0 1820.8,1110.8 1822.8,1111.4 1824.8,1112.1 1826.8,1112.8 1828.8,1113.5 1830.8,1114.1 1832.8,1114.7 1834.8,1115.4 1836.8,1116.0 1838.8,1116.6 1840.8,1117.2 1842.8,1117.8 1844.8,1118.4 1846.8,1118.9 1848.8,1119.5 1850.8,1120.1 1852.8,1120.6 1854.8,1121.2 1856.8,1121.7 1858.8,1122.2 1860.8,1122.8 1862.8,1123.3 1864.8,1123.8 1866.8,1124.3 1868.8,1124.8 1870.8,1125.4 1872.8,1125.9 1874.8,1126.4 1876.8,1126.9 1878.8,1127.4 1880.8,1127.9 1882.8,1128.4 1884.8,1128.9 1886.8,1129.4 1888.8,1129.9 1890.8,1130.5 1892.8,1131.0 1894.8,1131.5 1896.8,1132.0 1898.8,1132.5 1900.8,1133.1 1902.8,1133.6 1904.8,1134.1 1906.8,1134.7 1908.8,1135.2 1910.8,1135.8 1912.8,1136.4 1914.8,1136.9 1916.8,1137.5 1918.8,1138.1 1920.8,1138.7 1922.8,1139.3 1924.8,1139.9 1926.8,1140.5 1928.8,1141.1 1930.8,1141.7 1932.8,1142.3 1934.8,1142.9 1936.8,1143.5 1938.8,1144.1 1940.8,1144.7 1942.8,1145.3 1944.8,1145.9 1946.8,1146.4 1948.8,1147.0 1950.8,1147.5 1952.8,1148.1 1954.8,1148.6 1956.8,1149.1 1958.8,1149.5 1960.8,1150.0 1962.8,1150.4 1964.8,1150.8 1966.8,1151.2 1968.8,1151.6 1970.8,1151.9 1972.8,1152.2 1974.8,1152.5 1976.8,1152.7 1978.8,1152.9 1980.8,1153.1 1982.8,1153.3 1984.8,1153.4 1986.8,1153.5 1988.8,1153.6 1990.8,1153.8 1992.8,1154.1 1994.8,1154.6 1996.8,1155.3 1998.8,1156.0 2000.8,1156.6 2002.8,1157.3 2004.8,1157.7 2006.8,1157.9 2008.8,1157.9 2010.8,1157.7 2012.8,1157.4 2014.8,1157.2 2016.8,1157.1 2018.8,1157.2 2020.8,1157.6 2022.8,1158.0 2024.8,1158.5 2026.8,1158.8 2028.8,1158.9 2030.8,1158.7 2032.8,1158.2 2034.8,1157.5 2036.8,1156.7 2038.8,1156.0 2040.8,1155.3 2042.8,1154.9 2044.8,1154.6 2046.8,1154.7 2048.8,1154.9 2050.8,1155.3 2052.8,1155.8 2054.8,1156.5 2056.8,1157.2 2058.8,1158.0 2060.8,1158.9 2062.8,1159.7 2064.8,1160.6 2066.8,1161.4 2068.8,1162.1 2070.8,1162.8 2072.8,1163.3 2074.8,1163.7 2076.8,1163.9 2078.8,1164.0 2080.8,1163.9 2082.8,1163.8 2084.8,1163.7 2086.8,1163.6 2088.8,1163.5 2090.8,1163.4 2092.8,1163.4 2094.8,1163.6 2096.8,1163.9 2098.8,1164.2 2100.8,1164.7 2102.8,1165.2 2104.8,1165.6 2106.8,1166.0 2108.8,1166.3 2110.8,1166.6 2112.8,1166.7 2114.8,1166.8 2116.8,1166.8 2118.8,1166.8 2120.8,1166.8 2122.8,1166.7 2124.8,1166.6 2126.8,1166.5 2128.8,1166.4 2130.8,1166.2 2132.8,1166.1 2134.8,1166.0 2136.8,1166.0 2138.8,1166.0 2140.8,1166.0 2142.8,1166.1 2144.8,1166.2 2146.8,1166.4 2148.8,1166.7 2150.8,1167.1 2152.8,1167.6"/>
</g>
<g fill="none" stroke="#000" stroke-width="6.2" stroke-linecap="butt">
<path d="M112.8 1387.5V36.7H2155.4V1387.5"/>
<line x1="109.8" y1="1385.3" x2="2158.4" y2="1385.3" stroke-width="5"/>
<line x1="112.8" y1="1385.0" x2="112.8" y2="1409"/>
<line x1="404.6" y1="1385.0" x2="404.6" y2="1409"/>
<line x1="696.4" y1="1385.0" x2="696.4" y2="1409"/>
<line x1="988.2" y1="1385.0" x2="988.2" y2="1409"/>
<line x1="1280.0" y1="1385.0" x2="1280.0" y2="1409"/>
<line x1="1571.8" y1="1385.0" x2="1571.8" y2="1409"/>
<line x1="1863.6" y1="1385.0" x2="1863.6" y2="1409"/>
<line x1="2155.4" y1="1385.0" x2="2155.4" y2="1409"/>
</g>
<g class="d" font-size="58.5" text-anchor="middle">
<text x="115.9" y="1463.4">400</text>
<text x="407.7" y="1463.4">600</text>
<text x="699.5" y="1463.4">800</text>
<text x="981.9" y="1463.4">1000</text>
<text x="1273.7" y="1463.4">1200</text>
<text x="1565.5" y="1463.4">1400</text>
<text x="1857.3" y="1463.4">1600</text>
<text x="2149.1" y="1463.4">1800</text>
</g>
<rect x="2213.3" y="1400" width="23" height="80" fill="#fff"/>
<text x="879.3" y="1548.7" font-size="67.3">Wavenumber (cm<tspan dy="-27.5">-1</tspan><tspan dy="27.5">)</tspan></text>
<text transform="translate(76.6 856.8) rotate(-90)" font-size="67.4">Absorbance</text>
<text x="200.2" y="401.4" font-size="68.8" style="font-family:'DejaVu Sans','Liberation Sans',sans-serif">39Si8P</text>
</svg></body></html>
